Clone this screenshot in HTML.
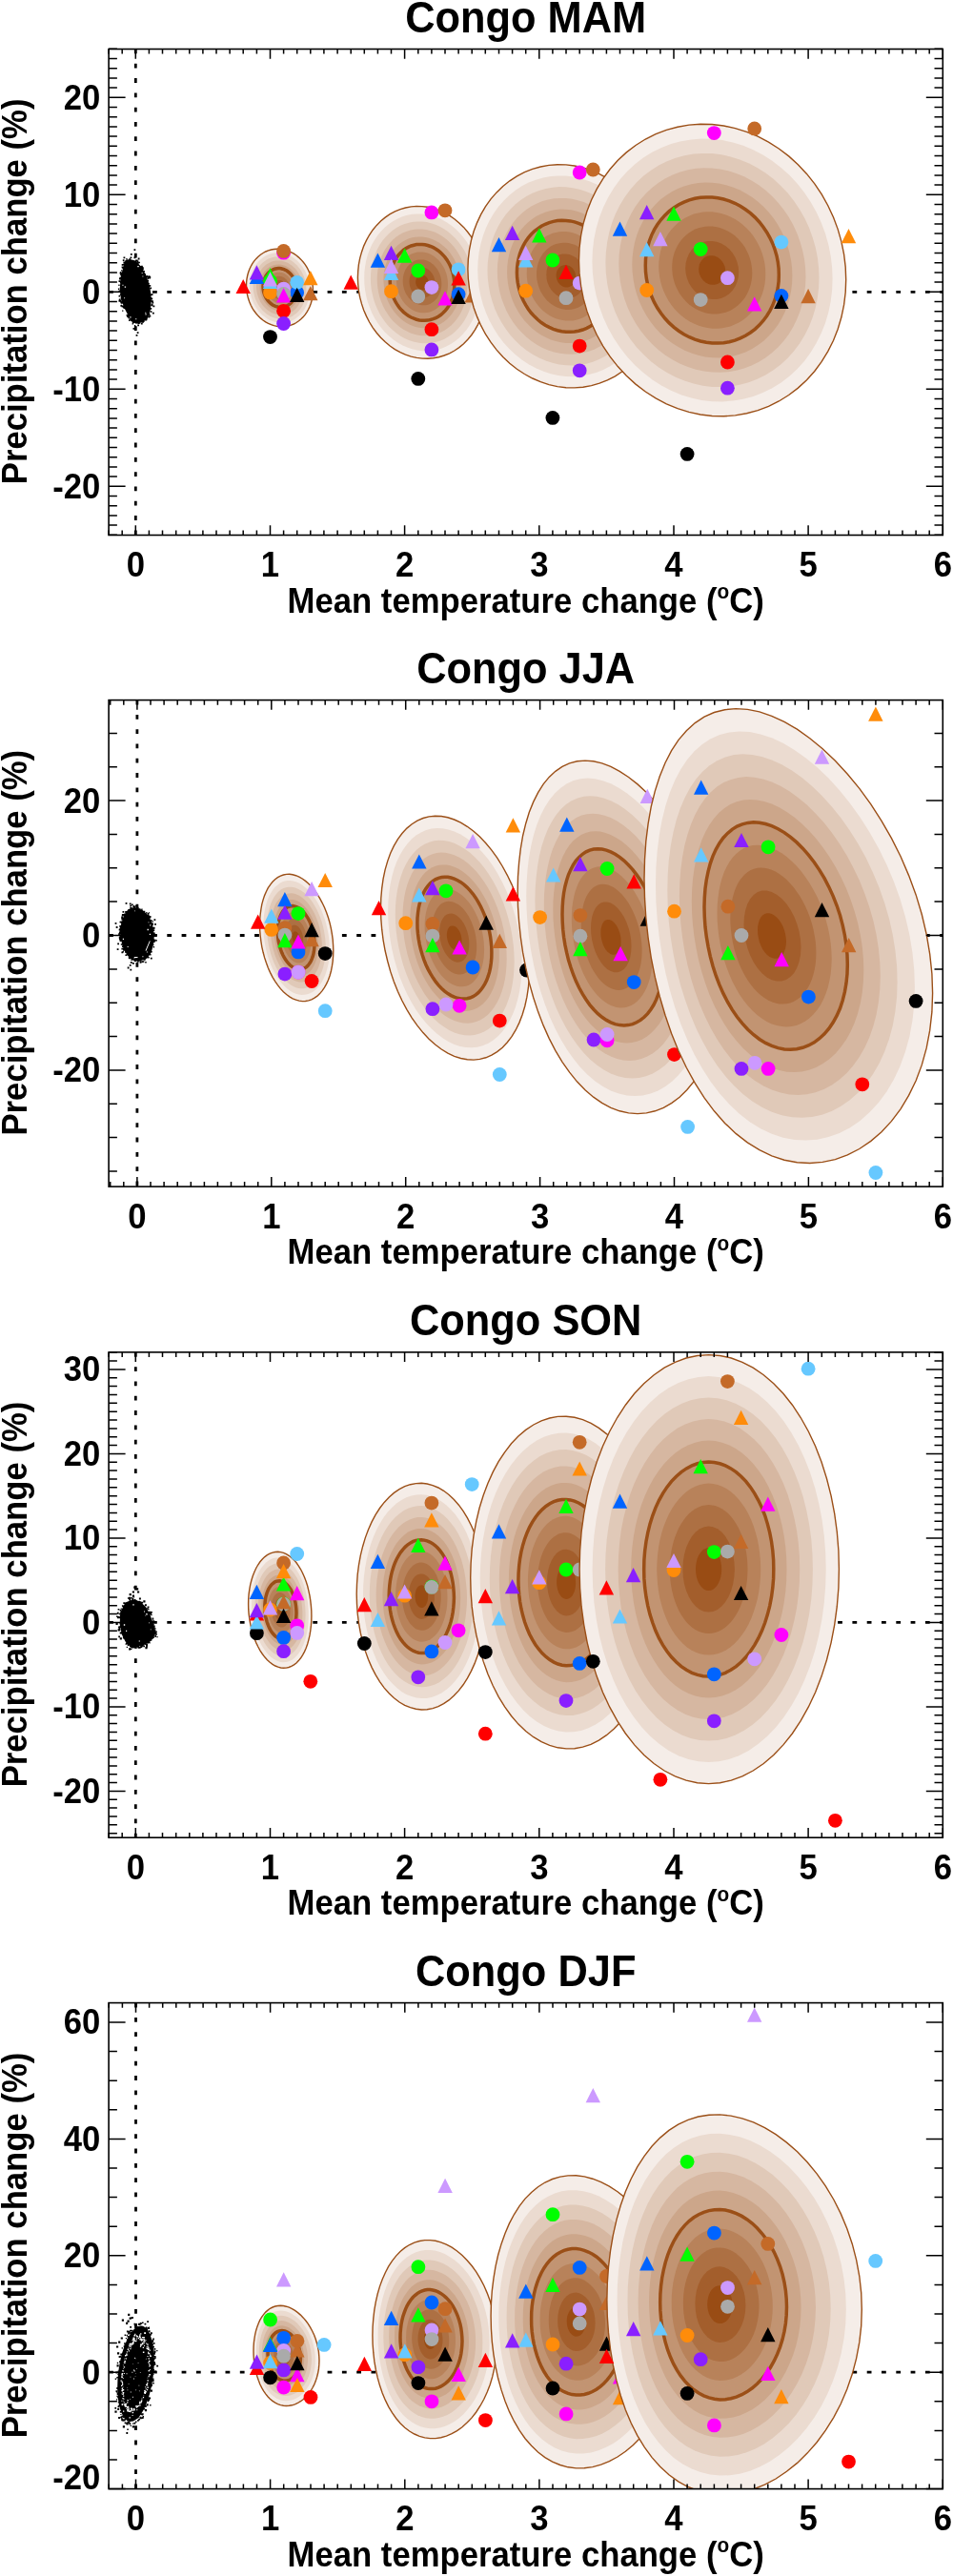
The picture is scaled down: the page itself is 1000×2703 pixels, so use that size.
<!DOCTYPE html><html><head><meta charset="utf-8"><title>Congo</title>
<style>html,body{margin:0;padding:0;background:#fff}svg{display:block}text{font-family:"Liberation Sans",sans-serif;font-weight:bold;fill:#000}</style></head><body><div style="will-change:transform;width:1000px;height:2703px">
<svg width="1000" height="2703" viewBox="0 0 1000 2703">
<rect width="1000" height="2703" fill="#fff"/>
<g id="p0">
<clipPath id="cl0"><rect x="114.1" y="51.5" width="875.2" height="510"/></clipPath>
<g clip-path="url(#cl0)">
<path d="M142.3 51.5V561.5" stroke="#000" stroke-width="2.8" stroke-dasharray="4.8 10.5" stroke-dashoffset="0" fill="none"/>
<path d="M114.1 306.3H989.3" stroke="#000" stroke-width="2.8" stroke-dasharray="4.8 10.5" stroke-dashoffset="0" fill="none"/>
<path fill="#000" d="M131.5 273.1L136.2 272.0L142.0 273.6L147.2 278.8L152.5 287.2L156.7 298.8L158.2 307.2L158.8 315.6L157.7 326.0L154.6 334.4L148.3 338.6L142.0 339.2L137.3 337.1L134.6 331.3L130.4 322.9L126.8 313.5L125.7 303.0L126.8 290.4L129.4 279.9ZM155.6 331.9h1.6v1.6h-1.6zM148.8 336.7h1.6v1.6h-1.6zM133.9 329.9h1.4v1.4h-1.4zM144.2 274.8h1.2v1.2h-1.2zM128.8 272.3h1.7v1.7h-1.7zM150.8 284.0h1.2v1.2h-1.2zM152.3 289.6h1.6v1.6h-1.6zM155.8 329.3h1.7v1.7h-1.7zM150.2 336.6h1.4v1.4h-1.4zM129.5 269.5h1.8v1.8h-1.8zM157.8 308.9h1.3v1.3h-1.3zM124.5 310.0h1.5v1.5h-1.5zM129.0 279.4h1.4v1.4h-1.4zM125.9 285.1h1.5v1.5h-1.5zM142.1 272.5h1.4v1.4h-1.4zM143.6 273.5h1.8v1.8h-1.8zM147.0 279.4h1.2v1.2h-1.2zM124.5 304.6h1.6v1.6h-1.6zM152.4 289.4h1.7v1.7h-1.7zM146.9 278.9h1.4v1.4h-1.4zM129.1 276.6h1.9v1.9h-1.9zM154.6 291.3h1.7v1.7h-1.7zM145.5 274.8h1.4v1.4h-1.4zM125.7 308.8h1.3v1.3h-1.3zM143.9 275.5h1.7v1.7h-1.7zM158.9 318.8h1.6v1.6h-1.6zM138.6 339.3h1.3v1.3h-1.3zM126.8 286.8h1.4v1.4h-1.4zM124.5 314.7h2.0v2.0h-2.0zM125.8 290.7h1.3v1.3h-1.3zM136.5 269.5h1.8v1.8h-1.8zM156.9 299.2h1.4v1.4h-1.4zM151.7 287.3h1.4v1.4h-1.4zM140.9 341.1h1.4v1.4h-1.4zM127.5 285.8h1.4v1.4h-1.4zM155.2 329.5h1.5v1.5h-1.5zM138.8 337.4h1.9v1.9h-1.9zM129.4 274.4h1.7v1.7h-1.7zM148.5 282.3h1.9v1.9h-1.9zM127.6 320.9h1.7v1.7h-1.7zM152.2 334.5h2.0v2.0h-2.0zM142.1 272.6h1.9v1.9h-1.9zM125.4 314.7h1.9v1.9h-1.9zM159.0 315.2h1.9v1.9h-1.9zM157.7 326.3h1.7v1.7h-1.7zM133.8 331.5h1.7v1.7h-1.7zM142.7 272.6h1.9v1.9h-1.9zM126.2 316.1h1.7v1.7h-1.7zM155.2 328.4h1.8v1.8h-1.8zM135.5 270.9h1.4v1.4h-1.4zM128.2 320.5h1.9v1.9h-1.9zM156.1 299.1h1.7v1.7h-1.7zM154.2 289.9h1.7v1.7h-1.7zM156.6 330.9h1.7v1.7h-1.7zM153.7 289.3h1.9v1.9h-1.9zM125.4 290.7h1.5v1.5h-1.5zM148.7 280.0h1.9v1.9h-1.9zM126.7 319.8h1.3v1.3h-1.3zM155.0 330.3h1.5v1.5h-1.5zM133.8 330.7h1.9v1.9h-1.9zM130.2 275.6h1.2v1.2h-1.2zM125.0 291.7h1.7v1.7h-1.7zM157.1 307.8h1.3v1.3h-1.3zM155.4 332.2h1.4v1.4h-1.4zM149.2 281.3h1.6v1.6h-1.6zM133.1 331.1h2.0v2.0h-2.0zM129.6 322.7h1.3v1.3h-1.3zM132.3 271.1h1.3v1.3h-1.3zM157.5 301.6h1.6v1.6h-1.6zM134.5 332.6h1.8v1.8h-1.8zM125.6 285.7h1.8v1.8h-1.8zM148.0 279.6h1.9v1.9h-1.9zM158.5 319.5h1.8v1.8h-1.8zM127.8 280.3h1.4v1.4h-1.4zM126.7 317.0h1.8v1.8h-1.8zM156.2 290.0h2.0v2.0h-2.0zM144.3 338.0h1.9v1.9h-1.9zM125.9 295.3h1.6v1.6h-1.6zM142.5 338.9h1.2v1.2h-1.2zM123.9 302.6h1.3v1.3h-1.3zM157.7 312.0h1.3v1.3h-1.3zM147.9 338.8h1.8v1.8h-1.8zM127.6 279.6h1.3v1.3h-1.3zM154.3 293.8h1.8v1.8h-1.8zM132.6 330.0h1.6v1.6h-1.6zM158.6 308.2h1.9v1.9h-1.9zM155.9 289.3h1.6v1.6h-1.6zM138.8 337.9h1.6v1.6h-1.6zM135.0 335.3h1.6v1.6h-1.6zM157.6 323.1h1.6v1.6h-1.6zM129.0 321.7h1.5v1.5h-1.5zM127.7 277.1h1.6v1.6h-1.6zM147.9 278.8h1.9v1.9h-1.9zM153.0 333.8h1.7v1.7h-1.7zM127.0 283.2h1.2v1.2h-1.2zM153.5 289.0h1.5v1.5h-1.5zM157.5 315.0h1.8v1.8h-1.8zM147.5 279.7h1.4v1.4h-1.4zM145.6 338.3h1.5v1.5h-1.5zM145.6 337.8h1.7v1.7h-1.7zM132.6 330.1h1.7v1.7h-1.7zM124.5 294.2h1.8v1.8h-1.8zM126.2 287.3h1.9v1.9h-1.9zM156.7 291.3h1.3v1.3h-1.3zM155.5 296.8h1.3v1.3h-1.3zM124.3 298.6h1.3v1.3h-1.3zM156.9 322.7h1.4v1.4h-1.4zM128.1 325.5h1.3v1.3h-1.3zM149.2 337.1h1.7v1.7h-1.7zM152.6 289.4h1.2v1.2h-1.2zM140.5 261.3h1.8v1.8h-1.8zM136.9 265.9h1.8v1.8h-1.8zM141.1 266.9h1.8v1.8h-1.8zM140.5 269.5h1.8v1.8h-1.8zM144.7 270.6h1.8v1.8h-1.8zM124.8 313.6h1.8v1.8h-1.8zM126.4 319.9h1.8v1.8h-1.8zM158.4 312.6h1.8v1.8h-1.8zM159.4 316.7h1.8v1.8h-1.8zM160.5 320.4h1.8v1.8h-1.8zM160.0 327.8h1.8v1.8h-1.8zM144.2 340.4h1.8v1.8h-1.8zM141.1 342.5h1.8v1.8h-1.8zM139.5 344.0h1.8v1.8h-1.8zM143.7 348.2h1.8v1.8h-1.8zM142.6 350.9h1.8v1.8h-1.8z"/><path fill="#fff" d="M142.2 334.2h1.1v1.1h-1.1zM148.7 286.1h0.9v0.9h-0.9zM130.7 300.4h1.4v1.4h-1.4zM144.3 278.9h1.4v1.4h-1.4zM152.3 327.8h1.0v1.0h-1.0zM152.5 329.3h1.1v1.1h-1.1zM136.3 332.2h1.2v1.2h-1.2zM128.4 298.7h1.1v1.1h-1.1zM130.2 312.3h0.9v0.9h-0.9zM149.5 289.6h0.8v0.8h-0.8z"/>
<path d="M328.4 304.5L328.3 300.9L327.9 297.4L327.2 293.9L326.3 290.4L325.1 287.1L323.7 283.8L322.1 280.7L320.2 277.7L318.2 275L315.9 272.4L313.5 270.1L311 268L308.3 266.1L305.4 264.6L302.5 263.3L299.6 262.3L296.5 261.6L293.5 261.3L290.5 261.2L287.4 261.5L284.5 262L281.5 262.9L278.7 264L276 265.5L273.4 267.2L271 269.2L268.8 271.4L266.7 273.9L264.8 276.6L263.2 279.5L261.8 282.5L260.6 285.7L259.7 289L259 292.5L258.6 296L258.5 299.5L258.6 303.1L259 306.6L259.7 310.1L260.6 313.6L261.8 316.9L263.2 320.2L264.8 323.3L266.7 326.3L268.8 329L271 331.6L273.4 333.9L276 336L278.7 337.9L281.5 339.4L284.5 340.7L287.4 341.7L290.5 342.4L293.5 342.7L296.5 342.8L299.6 342.5L302.5 342L305.4 341.1L308.3 340L311 338.5L313.5 336.8L315.9 334.8L318.2 332.6L320.2 330.1L322.1 327.4L323.7 324.5L325.1 321.5L326.3 318.3L327.2 315L327.9 311.5L328.3 308Z" fill="#f5ede8"/>
<path d="M324.9 304.2L324.8 301L324.4 297.9L323.8 294.7L323 291.6L322 288.5L320.7 285.6L319.2 282.8L317.6 280.2L315.7 277.7L313.7 275.4L311.5 273.3L309.2 271.4L306.8 269.7L304.3 268.3L301.6 267.2L299 266.3L296.2 265.7L293.5 265.3L290.8 265.3L288 265.5L285.4 266L282.7 266.8L280.2 267.8L277.8 269.1L275.4 270.7L273.3 272.5L271.2 274.5L269.4 276.7L267.7 279.1L266.2 281.7L265 284.5L263.9 287.4L263.1 290.3L262.5 293.4L262.1 296.6L262 299.8L262.1 303L262.5 306.1L263.1 309.3L263.9 312.4L265 315.5L266.2 318.4L267.7 321.2L269.4 323.8L271.2 326.3L273.3 328.6L275.4 330.7L277.8 332.6L280.2 334.3L282.7 335.7L285.4 336.8L288 337.7L290.8 338.3L293.5 338.7L296.2 338.7L299 338.5L301.6 338L304.3 337.2L306.8 336.2L309.2 334.9L311.5 333.3L313.7 331.5L315.7 329.5L317.6 327.3L319.2 324.9L320.7 322.3L322 319.5L323 316.6L323.8 313.7L324.4 310.6L324.8 307.4Z" fill="#ebdbd0"/>
<path d="M321.4 304L321.3 301.2L321 298.3L320.5 295.5L319.7 292.7L318.8 290L317.7 287.4L316.4 285L314.9 282.6L313.3 280.4L311.5 278.3L309.5 276.5L307.5 274.8L305.3 273.3L303.1 272.1L300.7 271L298.4 270.3L295.9 269.7L293.5 269.4L291.1 269.4L288.6 269.6L286.3 270L283.9 270.7L281.7 271.6L279.5 272.8L277.5 274.2L275.5 275.8L273.7 277.5L272.1 279.5L270.6 281.7L269.3 284L268.1 286.4L267.2 289L266.5 291.6L265.9 294.4L265.6 297.2L265.5 300L265.6 302.8L265.9 305.7L266.5 308.5L267.2 311.3L268.1 314L269.3 316.6L270.6 319L272.1 321.4L273.7 323.6L275.5 325.7L277.5 327.5L279.5 329.2L281.7 330.7L283.9 331.9L286.3 333L288.6 333.7L291.1 334.3L293.5 334.6L295.9 334.6L298.4 334.4L300.7 334L303.1 333.3L305.3 332.4L307.5 331.2L309.5 329.8L311.5 328.2L313.3 326.5L314.9 324.5L316.4 322.3L317.7 320L318.8 317.6L319.7 315L320.5 312.4L321 309.6L321.3 306.8Z" fill="#e0c9b8"/>
<path d="M317.9 303.8L317.8 301.3L317.6 298.8L317.1 296.3L316.5 293.9L315.7 291.5L314.7 289.3L313.5 287.1L312.2 285L310.8 283.1L309.2 281.3L307.5 279.7L305.7 278.2L303.8 276.9L301.9 275.8L299.8 274.9L297.7 274.2L295.6 273.8L293.5 273.5L291.4 273.4L289.3 273.6L287.2 274L285.1 274.6L283.2 275.4L281.3 276.4L279.5 277.6L277.8 279L276.2 280.6L274.7 282.3L273.4 284.2L272.3 286.2L271.3 288.4L270.5 290.6L269.8 292.9L269.4 295.3L269.1 297.8L269 300.2L269.1 302.7L269.4 305.2L269.8 307.7L270.5 310.1L271.3 312.5L272.3 314.7L273.4 316.9L274.7 319L276.2 320.9L277.8 322.7L279.5 324.3L281.3 325.8L283.2 327.1L285.1 328.2L287.2 329.1L289.3 329.8L291.4 330.2L293.5 330.5L295.6 330.6L297.7 330.4L299.8 330L301.9 329.4L303.8 328.6L305.7 327.6L307.5 326.4L309.2 325L310.8 323.4L312.2 321.7L313.5 319.8L314.7 317.8L315.7 315.6L316.5 313.4L317.1 311.1L317.6 308.7L317.8 306.2Z" fill="#d6b7a1"/>
<path d="M314.5 303.5L314.4 301.4L314.1 299.2L313.7 297.1L313.2 295.1L312.5 293L311.6 291.1L310.7 289.2L309.6 287.4L308.3 285.8L307 284.2L305.5 282.8L304 281.6L302.4 280.5L300.7 279.6L298.9 278.8L297.1 278.2L295.3 277.8L293.5 277.6L291.7 277.5L289.9 277.7L288.1 278L286.3 278.5L284.6 279.2L283 280.1L281.5 281.1L280 282.3L278.7 283.7L277.4 285.1L276.3 286.8L275.3 288.5L274.5 290.3L273.8 292.2L273.2 294.2L272.8 296.3L272.6 298.4L272.5 300.5L272.6 302.6L272.8 304.8L273.2 306.9L273.8 308.9L274.5 311L275.3 312.9L276.3 314.8L277.4 316.6L278.7 318.2L280 319.8L281.5 321.2L283 322.4L284.6 323.5L286.3 324.4L288.1 325.2L289.9 325.8L291.7 326.2L293.5 326.4L295.3 326.5L297.1 326.3L298.9 326L300.7 325.5L302.4 324.8L304 323.9L305.5 322.9L307 321.7L308.3 320.3L309.6 318.9L310.7 317.2L311.6 315.5L312.5 313.7L313.2 311.8L313.7 309.8L314.1 307.7L314.4 305.6Z" fill="#cca68a"/>
<path d="M311 303.2L310.9 301.5L310.7 299.7L310.4 297.9L309.9 296.2L309.3 294.5L308.6 292.9L307.8 291.3L306.9 289.9L305.9 288.5L304.7 287.2L303.5 286L302.2 285L300.9 284.1L299.5 283.3L298 282.7L296.5 282.2L295 281.8L293.5 281.6L292 281.6L290.5 281.7L289 282L287.5 282.4L286.1 283L284.8 283.7L283.5 284.6L282.3 285.6L281.1 286.7L280.1 288L279.2 289.3L278.4 290.7L277.7 292.3L277.1 293.9L276.6 295.5L276.3 297.2L276.1 299L276 300.8L276.1 302.5L276.3 304.3L276.6 306.1L277.1 307.8L277.7 309.5L278.4 311.1L279.2 312.7L280.1 314.1L281.1 315.5L282.3 316.8L283.5 318L284.8 319L286.1 319.9L287.5 320.7L289 321.3L290.5 321.8L292 322.2L293.5 322.4L295 322.4L296.5 322.3L298 322L299.5 321.6L300.9 321L302.2 320.3L303.5 319.4L304.7 318.4L305.9 317.3L306.9 316L307.8 314.7L308.6 313.3L309.3 311.7L309.9 310.1L310.4 308.5L310.7 306.8L310.9 305Z" fill="#c29472"/>
<path d="M307.5 303L307.4 301.6L307.3 300.2L307 298.7L306.6 297.4L306.2 296L305.6 294.7L304.9 293.5L304.2 292.3L303.4 291.2L302.5 290.2L301.5 289.2L300.5 288.4L299.4 287.7L298.3 287L297.1 286.5L295.9 286.1L294.7 285.9L293.5 285.7L292.3 285.7L291.1 285.8L289.9 286L288.7 286.4L287.6 286.8L286.5 287.4L285.5 288.1L284.5 288.9L283.6 289.8L282.8 290.8L282 291.8L281.4 293L280.8 294.2L280.4 295.5L280 296.8L279.7 298.2L279.6 299.6L279.5 301L279.6 302.4L279.7 303.8L280 305.3L280.4 306.6L280.8 308L281.4 309.3L282 310.5L282.8 311.7L283.6 312.8L284.5 313.8L285.5 314.8L286.5 315.6L287.6 316.3L288.7 317L289.9 317.5L291.1 317.9L292.3 318.1L293.5 318.3L294.7 318.3L295.9 318.2L297.1 318L298.3 317.6L299.4 317.2L300.5 316.6L301.5 315.9L302.5 315.1L303.4 314.2L304.2 313.2L304.9 312.2L305.6 311L306.2 309.8L306.6 308.5L307 307.2L307.3 305.8L307.4 304.4Z" fill="#b8825a"/>
<path d="M304 302.8L303.9 301.7L303.8 300.6L303.6 299.6L303.3 298.5L303 297.5L302.6 296.5L302.1 295.6L301.5 294.7L300.9 293.9L300.2 293.1L299.5 292.4L298.7 291.8L297.9 291.2L297.1 290.8L296.2 290.4L295.3 290.1L294.4 289.9L293.5 289.8L292.6 289.8L291.7 289.8L290.8 290L289.9 290.3L289.1 290.6L288.3 291L287.5 291.6L286.8 292.2L286.1 292.8L285.5 293.6L284.9 294.4L284.4 295.2L284 296.2L283.6 297.1L283.4 298.1L283.2 299.1L283.1 300.2L283 301.2L283.1 302.3L283.2 303.4L283.4 304.4L283.6 305.5L284 306.5L284.4 307.5L284.9 308.4L285.5 309.3L286.1 310.1L286.8 310.9L287.5 311.6L288.3 312.2L289.1 312.8L289.9 313.2L290.8 313.6L291.7 313.9L292.6 314.1L293.5 314.2L294.4 314.2L295.3 314.2L296.2 314L297.1 313.7L297.9 313.4L298.7 313L299.5 312.4L300.2 311.8L300.9 311.2L301.5 310.4L302.1 309.6L302.6 308.8L303 307.8L303.3 306.9L303.6 305.9L303.8 304.9L303.9 303.8Z" fill="#ad7043"/>
<path d="M300.5 302.5L300.4 301.1L300.1 299.7L299.6 298.4L298.9 297.1L298 296.1L297 295.2L295.9 294.5L294.7 294.1L293.5 293.9L292.3 293.9L291.1 294.2L290 294.7L289 295.4L288.1 296.4L287.4 297.5L286.9 298.7L286.6 300.1L286.5 301.5L286.6 302.9L286.9 304.3L287.4 305.6L288.1 306.9L289 307.9L290 308.8L291.1 309.5L292.3 309.9L293.5 310.1L294.7 310.1L295.9 309.8L297 309.3L298 308.6L298.9 307.6L299.6 306.5L300.1 305.3L300.4 303.9Z" fill="#a35e2c"/>
<path d="M297 302.2L296.9 301.5L296.8 300.8L296.5 300.2L296.2 299.6L295.7 299L295.2 298.6L294.7 298.3L294.1 298L293.5 297.9L292.9 297.9L292.3 298.1L291.8 298.3L291.3 298.7L290.8 299.2L290.5 299.7L290.2 300.4L290.1 301L290 301.8L290.1 302.5L290.2 303.2L290.5 303.8L290.8 304.4L291.3 305L291.8 305.4L292.3 305.7L292.9 306L293.5 306.1L294.1 306.1L294.7 305.9L295.2 305.7L295.7 305.3L296.2 304.8L296.5 304.3L296.8 303.6L296.9 303Z" fill="#994c14"/>
<path d="M328.4 304.5L328.3 300.9L327.9 297.4L327.2 293.9L326.3 290.4L325.1 287.1L323.7 283.8L322.1 280.7L320.2 277.7L318.2 275L315.9 272.4L313.5 270.1L311 268L308.3 266.1L305.4 264.6L302.5 263.3L299.6 262.3L296.5 261.6L293.5 261.3L290.5 261.2L287.4 261.5L284.5 262L281.5 262.9L278.7 264L276 265.5L273.4 267.2L271 269.2L268.8 271.4L266.7 273.9L264.8 276.6L263.2 279.5L261.8 282.5L260.6 285.7L259.7 289L259 292.5L258.6 296L258.5 299.5L258.6 303.1L259 306.6L259.7 310.1L260.6 313.6L261.8 316.9L263.2 320.2L264.8 323.3L266.7 326.3L268.8 329L271 331.6L273.4 333.9L276 336L278.7 337.9L281.5 339.4L284.5 340.7L287.4 341.7L290.5 342.4L293.5 342.7L296.5 342.8L299.6 342.5L302.5 342L305.4 341.1L308.3 340L311 338.5L313.5 336.8L315.9 334.8L318.2 332.6L320.2 330.1L322.1 327.4L323.7 324.5L325.1 321.5L326.3 318.3L327.2 315L327.9 311.5L328.3 308Z" fill="none" stroke="#9b4f17" stroke-width="1.4"/>
<path d="M311 303.2L310.9 301.5L310.7 299.7L310.4 297.9L309.9 296.2L309.3 294.5L308.6 292.9L307.8 291.3L306.9 289.9L305.9 288.5L304.7 287.2L303.5 286L302.2 285L300.9 284.1L299.5 283.3L298 282.7L296.5 282.2L295 281.8L293.5 281.6L292 281.6L290.5 281.7L289 282L287.5 282.4L286.1 283L284.8 283.7L283.5 284.6L282.3 285.6L281.1 286.7L280.1 288L279.2 289.3L278.4 290.7L277.7 292.3L277.1 293.9L276.6 295.5L276.3 297.2L276.1 299L276 300.8L276.1 302.5L276.3 304.3L276.6 306.1L277.1 307.8L277.7 309.5L278.4 311.1L279.2 312.7L280.1 314.1L281.1 315.5L282.3 316.8L283.5 318L284.8 319L286.1 319.9L287.5 320.7L289 321.3L290.5 321.8L292 322.2L293.5 322.4L295 322.4L296.5 322.3L298 322L299.5 321.6L300.9 321L302.2 320.3L303.5 319.4L304.7 318.4L305.9 317.3L306.9 316L307.8 314.7L308.6 313.3L309.3 311.7L309.9 310.1L310.4 308.5L310.7 306.8L310.9 305Z" fill="none" stroke="#9b4f17" stroke-width="3.5"/>
<circle cx="297.6" cy="326.3" r="7.4" fill="#ff0000"/>
<circle cx="283.5" cy="306.9" r="7.4" fill="#ff8c0a"/>
<circle cx="283.5" cy="295" r="7.4" fill="#00ff00"/>
<circle cx="311.7" cy="306.9" r="7.4" fill="#0064ff"/>
<circle cx="311.7" cy="296.3" r="7.4" fill="#66c8ff"/>
<circle cx="297.6" cy="339.5" r="7.4" fill="#8a1fff"/>
<circle cx="297.6" cy="265.2" r="7.4" fill="#ff00ff"/>
<circle cx="297.6" cy="303.1" r="7.4" fill="#cc99ff"/>
<circle cx="297.6" cy="263.4" r="7.4" fill="#c46a28"/>
<circle cx="297.6" cy="308.4" r="7.4" fill="#aaaaaa"/>
<circle cx="283.5" cy="353.6" r="7.4" fill="#000000"/>
<path d="M247.5 308.1L262.9 308.1L255.2 292.9Z" fill="#ff0000"/>
<path d="M275.8 296.3L291.2 296.3L283.5 281.1Z" fill="#00ff00"/>
<path d="M261.7 298.1L277.1 298.1L269.4 282.9Z" fill="#0064ff"/>
<path d="M275.8 303.1L291.2 303.1L283.5 287.9Z" fill="#66c8ff"/>
<path d="M261.7 293.5L277.1 293.5L269.4 278.3Z" fill="#8a1fff"/>
<path d="M289.9 317.5L305.3 317.5L297.6 302.3Z" fill="#ff00ff"/>
<path d="M318.1 299.3L333.5 299.3L325.8 284.1Z" fill="#ff8c0a"/>
<path d="M275.8 300.5L291.2 300.5L283.5 285.3Z" fill="#cc99ff"/>
<path d="M318.1 315.2L333.5 315.2L325.8 300Z" fill="#c46a28"/>
<path d="M304 317L319.4 317L311.7 301.8Z" fill="#000000"/>
<path d="M510.6 301.4L510.3 294.4L509.6 287.4L508.3 280.5L506.5 273.8L504.3 267.2L501.5 260.8L498.4 254.7L494.8 248.9L490.8 243.5L486.5 238.4L481.8 233.9L476.8 229.7L471.6 226.1L466.1 223.1L460.5 220.6L454.7 218.6L448.9 217.3L443 216.6L437.1 216.4L431.3 216.9L425.5 218L419.9 219.7L414.4 221.9L409.2 224.7L404.2 228.1L399.5 232L395.2 236.4L391.2 241.2L387.6 246.5L384.5 252.1L381.7 258.1L379.5 264.4L377.7 270.9L376.4 277.6L375.7 284.4L375.4 291.4L375.7 298.3L376.4 305.3L377.7 312.2L379.5 318.9L381.7 325.5L384.5 331.9L387.6 338L391.2 343.8L395.2 349.2L399.5 354.3L404.2 358.8L409.2 363L414.4 366.6L419.9 369.6L425.5 372.1L431.3 374.1L437.1 375.4L443 376.1L448.9 376.3L454.7 375.8L460.5 374.7L466.1 373L471.6 370.8L476.8 368L481.8 364.6L486.5 360.7L490.8 356.3L494.8 351.5L498.4 346.2L501.5 340.6L504.3 334.6L506.5 328.3L508.3 321.8L509.6 315.1L510.3 308.3Z" fill="#f5ede8"/>
<path d="M503.8 300.9L503.6 294.6L502.9 288.3L501.8 282.1L500.2 276L498.1 270.1L495.7 264.3L492.8 258.8L489.6 253.6L486 248.8L482.1 244.2L477.9 240.1L473.4 236.4L468.7 233.2L463.8 230.4L458.7 228.1L453.6 226.4L448.3 225.2L443 224.5L437.7 224.4L432.4 224.8L427.3 225.8L422.2 227.3L417.3 229.4L412.6 231.9L408.1 234.9L403.9 238.4L400 242.4L396.4 246.7L393.2 251.5L390.3 256.5L387.9 261.9L385.8 267.6L384.2 273.4L383.1 279.4L382.4 285.6L382.2 291.9L382.4 298.1L383.1 304.4L384.2 310.6L385.8 316.7L387.9 322.6L390.3 328.4L393.2 333.9L396.4 339.1L400 343.9L403.9 348.5L408.1 352.6L412.6 356.3L417.3 359.5L422.2 362.3L427.3 364.6L432.4 366.3L437.7 367.5L443 368.2L448.3 368.3L453.6 367.9L458.7 366.9L463.8 365.4L468.7 363.3L473.4 360.8L477.9 357.8L482.1 354.3L486 350.3L489.6 346L492.8 341.2L495.7 336.2L498.1 330.8L500.2 325.1L501.8 319.3L502.9 313.3L503.6 307.1Z" fill="#ebdbd0"/>
<path d="M497.1 300.4L496.9 294.8L496.3 289.2L495.2 283.7L493.8 278.3L492 273L489.8 267.9L487.3 263L484.4 258.4L481.2 254L477.8 250L474 246.4L470 243.1L465.9 240.2L461.5 237.7L457 235.7L452.4 234.2L447.7 233.1L443 232.5L438.3 232.4L433.6 232.8L429 233.7L424.5 235L420.1 236.8L416 239.1L412 241.8L408.2 244.9L404.8 248.4L401.6 252.3L398.7 256.5L396.2 261L394 265.7L392.2 270.8L390.8 276L389.7 281.3L389.1 286.8L388.9 292.4L389.1 297.9L389.7 303.5L390.8 309L392.2 314.4L394 319.7L396.2 324.8L398.7 329.7L401.6 334.3L404.8 338.7L408.2 342.7L412 346.3L416 349.6L420.1 352.5L424.5 355L429 357L433.6 358.5L438.3 359.6L443 360.2L447.7 360.3L452.4 359.9L457 359L461.5 357.7L465.9 355.9L470 353.6L474 350.9L477.8 347.8L481.2 344.3L484.4 340.4L487.3 336.2L489.8 331.7L492 327L493.8 321.9L495.2 316.7L496.3 311.4L496.9 305.9Z" fill="#e0c9b8"/>
<path d="M490.3 299.9L490.1 295L489.6 290.1L488.7 285.3L487.5 280.5L485.9 275.9L484 271.5L481.8 267.2L479.2 263.1L476.5 259.3L473.4 255.8L470.1 252.6L466.7 249.7L463 247.2L459.2 245.1L455.2 243.3L451.2 242L447.1 241L443 240.5L438.9 240.4L434.8 240.7L430.8 241.5L426.8 242.7L423 244.2L419.3 246.2L415.9 248.6L412.6 251.3L409.5 254.4L406.8 257.8L404.2 261.4L402 265.4L400.1 269.6L398.5 274L397.3 278.5L396.4 283.2L395.9 288L395.7 292.9L395.9 297.7L396.4 302.6L397.3 307.4L398.5 312.2L400.1 316.8L402 321.2L404.2 325.5L406.8 329.6L409.5 333.4L412.6 336.9L415.9 340.1L419.3 343L423 345.5L426.8 347.6L430.8 349.4L434.8 350.7L438.9 351.7L443 352.2L447.1 352.3L451.2 352L455.2 351.2L459.2 350L463 348.5L466.7 346.5L470.1 344.1L473.4 341.4L476.5 338.3L479.2 334.9L481.8 331.3L484 327.3L485.9 323.1L487.5 318.7L488.7 314.2L489.6 309.5L490.1 304.7Z" fill="#d6b7a1"/>
<path d="M483.6 299.4L483.4 295.2L482.9 291L482.2 286.9L481.1 282.8L479.8 278.8L478.1 275L476.2 271.3L474.1 267.9L471.7 264.6L469.1 261.6L466.3 258.9L463.3 256.4L460.1 254.2L456.9 252.4L453.5 250.9L450 249.7L446.5 248.9L443 248.5L439.5 248.4L436 248.7L432.5 249.3L429.1 250.3L425.9 251.7L422.7 253.4L419.7 255.4L416.9 257.7L414.3 260.4L411.9 263.3L409.8 266.4L407.9 269.8L406.2 273.4L404.9 277.2L403.8 281.1L403.1 285.1L402.6 289.2L402.4 293.4L402.6 297.5L403.1 301.7L403.8 305.8L404.9 309.9L406.2 313.9L407.9 317.7L409.8 321.4L411.9 324.8L414.3 328.1L416.9 331.1L419.7 333.8L422.7 336.3L425.9 338.5L429.1 340.3L432.5 341.8L436 343L439.5 343.8L443 344.2L446.5 344.3L450 344L453.5 343.4L456.9 342.4L460.1 341L463.3 339.3L466.3 337.3L469.1 335L471.7 332.3L474.1 329.4L476.2 326.3L478.1 322.9L479.8 319.3L481.1 315.5L482.2 311.6L482.9 307.6L483.4 303.5Z" fill="#cca68a"/>
<path d="M476.8 298.9L476.7 295.4L476.3 291.9L475.6 288.4L474.8 285.1L473.6 281.8L472.3 278.6L470.7 275.5L468.9 272.6L466.9 269.9L464.7 267.4L462.4 265.1L459.9 263L457.3 261.2L454.6 259.7L451.7 258.5L448.9 257.5L445.9 256.8L443 256.5L440.1 256.4L437.1 256.6L434.3 257.2L431.4 258L428.7 259.1L426.1 260.5L423.6 262.2L421.3 264.2L419.1 266.4L417.1 268.8L415.3 271.4L413.7 274.2L412.4 277.2L411.2 280.4L410.4 283.6L409.7 287L409.3 290.4L409.2 293.9L409.3 297.3L409.7 300.8L410.4 304.3L411.2 307.6L412.4 310.9L413.7 314.1L415.3 317.2L417.1 320.1L419.1 322.8L421.3 325.3L423.6 327.6L426.1 329.7L428.7 331.5L431.4 333L434.3 334.2L437.1 335.2L440.1 335.9L443 336.2L445.9 336.3L448.9 336.1L451.7 335.5L454.6 334.7L457.3 333.6L459.9 332.2L462.4 330.5L464.7 328.5L466.9 326.3L468.9 323.9L470.7 321.3L472.3 318.5L473.6 315.5L474.8 312.3L475.6 309.1L476.3 305.7L476.7 302.3Z" fill="#c29472"/>
<path d="M470 298.4L469.9 295.6L469.6 292.8L469.1 290L468.4 287.3L467.5 284.7L466.4 282.1L465.1 279.7L463.7 277.4L462.1 275.2L460.4 273.2L458.5 271.4L456.5 269.7L454.4 268.3L452.2 267L450 266L447.7 265.3L445.4 264.7L443 264.4L440.6 264.4L438.3 264.6L436 265L433.8 265.7L431.6 266.6L429.5 267.7L427.5 269.1L425.6 270.6L423.9 272.4L422.3 274.3L420.9 276.4L419.6 278.7L418.5 281L417.6 283.6L416.9 286.2L416.4 288.8L416.1 291.6L416 294.4L416.1 297.1L416.4 299.9L416.9 302.7L417.6 305.4L418.5 308L419.6 310.6L420.9 313L422.3 315.3L423.9 317.5L425.6 319.5L427.5 321.3L429.5 323L431.6 324.4L433.8 325.7L436 326.7L438.3 327.4L440.6 328L443 328.3L445.4 328.3L447.7 328.1L450 327.7L452.2 327L454.4 326.1L456.5 325L458.5 323.6L460.4 322.1L462.1 320.3L463.7 318.4L465.1 316.3L466.4 314L467.5 311.7L468.4 309.1L469.1 306.5L469.6 303.9L469.9 301.1Z" fill="#b8825a"/>
<path d="M463.3 297.9L463.2 295.8L463 293.7L462.6 291.6L462.1 289.6L461.4 287.6L460.6 285.7L459.6 283.8L458.5 282.1L457.3 280.5L456 279L454.6 277.6L453.1 276.4L451.6 275.3L449.9 274.4L448.2 273.6L446.5 273L444.8 272.6L443 272.4L441.2 272.4L439.5 272.5L437.8 272.8L436.1 273.3L434.4 274L432.9 274.9L431.4 275.9L430 277L428.7 278.4L427.5 279.8L426.4 281.4L425.4 283.1L424.6 284.9L423.9 286.8L423.4 288.7L423 290.7L422.8 292.8L422.7 294.9L422.8 296.9L423 299L423.4 301.1L423.9 303.1L424.6 305.1L425.4 307L426.4 308.9L427.5 310.6L428.7 312.2L430 313.7L431.4 315.1L432.9 316.3L434.4 317.4L436.1 318.3L437.8 319.1L439.5 319.7L441.2 320.1L443 320.3L444.8 320.3L446.5 320.2L448.2 319.9L449.9 319.4L451.6 318.7L453.1 317.8L454.6 316.8L456 315.7L457.3 314.3L458.5 312.9L459.6 311.3L460.6 309.6L461.4 307.8L462.1 305.9L462.6 304L463 302L463.2 299.9Z" fill="#ad7043"/>
<path d="M456.5 297.4L456.3 294.6L455.7 291.8L454.7 289.2L453.4 286.9L451.7 284.8L449.8 283L447.6 281.7L445.3 280.8L443 280.4L440.7 280.5L438.4 281L436.2 282L434.3 283.5L432.6 285.3L431.3 287.5L430.3 290L429.7 292.6L429.5 295.4L429.7 298.1L430.3 300.9L431.3 303.5L432.6 305.8L434.3 307.9L436.2 309.7L438.4 311L440.7 311.9L443 312.3L445.3 312.2L447.6 311.7L449.8 310.7L451.7 309.2L453.4 307.4L454.7 305.2L455.7 302.7L456.3 300.1Z" fill="#a35e2c"/>
<path d="M449.8 296.9L449.7 295.5L449.4 294.1L448.9 292.8L448.2 291.6L447.3 290.6L446.4 289.7L445.3 289L444.2 288.6L443 288.4L441.8 288.4L440.7 288.7L439.6 289.2L438.7 289.9L437.8 290.8L437.1 291.9L436.6 293.2L436.3 294.5L436.2 295.9L436.3 297.2L436.6 298.6L437.1 299.9L437.8 301.1L438.7 302.1L439.6 303L440.7 303.7L441.8 304.1L443 304.3L444.2 304.3L445.3 304L446.4 303.5L447.3 302.8L448.2 301.9L448.9 300.8L449.4 299.5L449.7 298.2Z" fill="#994c14"/>
<path d="M510.6 301.4L510.3 294.4L509.6 287.4L508.3 280.5L506.5 273.8L504.3 267.2L501.5 260.8L498.4 254.7L494.8 248.9L490.8 243.5L486.5 238.4L481.8 233.9L476.8 229.7L471.6 226.1L466.1 223.1L460.5 220.6L454.7 218.6L448.9 217.3L443 216.6L437.1 216.4L431.3 216.9L425.5 218L419.9 219.7L414.4 221.9L409.2 224.7L404.2 228.1L399.5 232L395.2 236.4L391.2 241.2L387.6 246.5L384.5 252.1L381.7 258.1L379.5 264.4L377.7 270.9L376.4 277.6L375.7 284.4L375.4 291.4L375.7 298.3L376.4 305.3L377.7 312.2L379.5 318.9L381.7 325.5L384.5 331.9L387.6 338L391.2 343.8L395.2 349.2L399.5 354.3L404.2 358.8L409.2 363L414.4 366.6L419.9 369.6L425.5 372.1L431.3 374.1L437.1 375.4L443 376.1L448.9 376.3L454.7 375.8L460.5 374.7L466.1 373L471.6 370.8L476.8 368L481.8 364.6L486.5 360.7L490.8 356.3L494.8 351.5L498.4 346.2L501.5 340.6L504.3 334.6L506.5 328.3L508.3 321.8L509.6 315.1L510.3 308.3Z" fill="none" stroke="#9b4f17" stroke-width="1.4"/>
<path d="M476.8 298.9L476.7 295.4L476.3 291.9L475.6 288.4L474.8 285.1L473.6 281.8L472.3 278.6L470.7 275.5L468.9 272.6L466.9 269.9L464.7 267.4L462.4 265.1L459.9 263L457.3 261.2L454.6 259.7L451.7 258.5L448.9 257.5L445.9 256.8L443 256.5L440.1 256.4L437.1 256.6L434.3 257.2L431.4 258L428.7 259.1L426.1 260.5L423.6 262.2L421.3 264.2L419.1 266.4L417.1 268.8L415.3 271.4L413.7 274.2L412.4 277.2L411.2 280.4L410.4 283.6L409.7 287L409.3 290.4L409.2 293.9L409.3 297.3L409.7 300.8L410.4 304.3L411.2 307.6L412.4 310.9L413.7 314.1L415.3 317.2L417.1 320.1L419.1 322.8L421.3 325.3L423.6 327.6L426.1 329.7L428.7 331.5L431.4 333L434.3 334.2L437.1 335.2L440.1 335.9L443 336.2L445.9 336.3L448.9 336.1L451.7 335.5L454.6 334.7L457.3 333.6L459.9 332.2L462.4 330.5L464.7 328.5L466.9 326.3L468.9 323.9L470.7 321.3L472.3 318.5L473.6 315.5L474.8 312.3L475.6 309.1L476.3 305.7L476.7 302.3Z" fill="none" stroke="#9b4f17" stroke-width="3.5"/>
<circle cx="452.9" cy="345.7" r="7.4" fill="#ff0000"/>
<circle cx="410.5" cy="305.7" r="7.4" fill="#ff8c0a"/>
<circle cx="438.8" cy="284" r="7.4" fill="#00ff00"/>
<circle cx="481.1" cy="308.7" r="7.4" fill="#0064ff"/>
<circle cx="481.1" cy="282.8" r="7.4" fill="#66c8ff"/>
<circle cx="452.9" cy="366.9" r="7.4" fill="#8a1fff"/>
<circle cx="452.9" cy="222.9" r="7.4" fill="#ff00ff"/>
<circle cx="452.9" cy="301.6" r="7.4" fill="#cc99ff"/>
<circle cx="467" cy="220.8" r="7.4" fill="#c46a28"/>
<circle cx="438.8" cy="311" r="7.4" fill="#aaaaaa"/>
<circle cx="438.8" cy="397.4" r="7.4" fill="#000000"/>
<path d="M360.5 303.7L375.9 303.7L368.2 288.5Z" fill="#ff0000"/>
<path d="M416.9 275.8L432.3 275.8L424.6 260.6Z" fill="#00ff00"/>
<path d="M388.7 280.8L404.1 280.8L396.4 265.6Z" fill="#0064ff"/>
<path d="M402.8 294.1L418.2 294.1L410.5 278.9Z" fill="#66c8ff"/>
<path d="M402.8 272.9L418.2 272.9L410.5 257.7Z" fill="#8a1fff"/>
<path d="M459.3 320.5L474.7 320.5L467 305.3Z" fill="#ff00ff"/>
<path d="M501.6 284.3L517 284.3L509.3 269.1Z" fill="#ff8c0a"/>
<path d="M402.8 287L418.2 287L410.5 271.8Z" fill="#cc99ff"/>
<path d="M487.5 317.6L502.9 317.6L495.2 302.4Z" fill="#c46a28"/>
<path d="M473.4 319L488.8 319L481.1 303.8Z" fill="#000000"/>
<path d="M696.9 297.3L696.5 287.1L695.3 276.9L693.4 266.8L690.7 256.9L687.2 247.2L683.1 237.9L678.3 228.9L672.8 220.4L666.7 212.5L660.1 205.1L653 198.4L645.4 192.3L637.4 187.1L629.1 182.6L620.6 178.9L611.8 176L602.9 174L593.9 172.9L584.9 172.7L576 173.4L567.2 175L558.7 177.4L550.4 180.7L542.4 184.8L534.8 189.8L527.7 195.5L521.1 201.9L515 208.9L509.5 216.6L504.7 224.9L500.6 233.6L497.1 242.8L494.4 252.3L492.5 262.1L491.3 272.1L490.9 282.3L491.3 292.5L492.5 302.7L494.4 312.8L497.1 322.7L500.6 332.4L504.7 341.7L509.5 350.7L515 359.2L521.1 367.1L527.7 374.5L534.8 381.2L542.4 387.3L550.4 392.5L558.7 397L567.2 400.7L576 403.6L584.9 405.6L593.9 406.7L602.9 406.9L611.8 406.2L620.6 404.6L629.1 402.2L637.4 398.9L645.4 394.8L653 389.8L660.1 384.1L666.7 377.7L672.8 370.7L678.3 363L683.1 354.7L687.2 346L690.7 336.8L693.4 327.3L695.3 317.5L696.5 307.5Z" fill="#f5ede8"/>
<path d="M686.6 296.5L686.2 287.4L685.2 278.2L683.4 269.1L681 260.2L677.9 251.5L674.2 243.1L669.8 235L664.9 227.4L659.4 220.2L653.5 213.6L647.1 207.5L640.2 202.1L633.1 197.3L625.6 193.3L617.9 190L610 187.4L602 185.6L593.9 184.6L585.8 184.4L577.8 185.1L569.9 186.5L562.2 188.7L554.7 191.6L547.5 195.3L540.7 199.8L534.3 204.9L528.4 210.7L522.9 217L518 223.9L513.6 231.4L509.9 239.2L506.8 247.5L504.4 256.1L502.6 264.9L501.6 273.9L501.2 283L501.6 292.2L502.6 301.4L504.4 310.5L506.8 319.4L509.9 328.1L513.6 336.5L518 344.6L522.9 352.2L528.4 359.4L534.3 366L540.7 372.1L547.5 377.5L554.7 382.3L562.2 386.3L569.9 389.6L577.8 392.2L585.8 394L593.9 395L602 395.2L610 394.5L617.9 393.1L625.6 390.9L633.1 388L640.2 384.3L647.1 379.8L653.5 374.7L659.4 368.9L664.9 362.6L669.8 355.7L674.2 348.2L677.9 340.4L681 332.1L683.4 323.5L685.2 314.7L686.2 305.7Z" fill="#ebdbd0"/>
<path d="M676.3 295.8L676 287.6L675 279.5L673.5 271.4L671.3 263.5L668.6 255.7L665.3 248.3L661.4 241.1L657 234.3L652.2 227.9L646.9 222L641.2 216.7L635.1 211.8L628.7 207.6L622.1 204L615.2 201.1L608.2 198.8L601.1 197.2L593.9 196.3L586.7 196.1L579.6 196.7L572.6 197.9L565.7 199.9L559.1 202.5L552.7 205.8L546.6 209.8L540.9 214.3L535.6 219.5L530.8 225.1L526.4 231.3L522.5 237.9L519.2 244.9L516.5 252.2L514.3 259.8L512.8 267.7L511.8 275.7L511.5 283.8L511.8 292L512.8 300.1L514.3 308.2L516.5 316.1L519.2 323.9L522.5 331.3L526.4 338.5L530.8 345.3L535.6 351.7L540.9 357.6L546.6 362.9L552.7 367.8L559.1 372L565.7 375.6L572.6 378.5L579.6 380.8L586.7 382.4L593.9 383.3L601.1 383.5L608.2 382.9L615.2 381.7L622.1 379.7L628.7 377.1L635.1 373.8L641.2 369.8L646.9 365.3L652.2 360.1L657 354.5L661.4 348.3L665.3 341.7L668.6 334.7L671.3 327.4L673.5 319.8L675 311.9L676 303.9Z" fill="#e0c9b8"/>
<path d="M666 295L665.7 287.9L664.9 280.8L663.5 273.7L661.7 266.8L659.2 260L656.3 253.4L653 247.2L649.1 241.2L644.9 235.7L640.2 230.5L635.3 225.8L629.9 221.6L624.4 217.9L618.6 214.7L612.6 212.1L606.4 210.2L600.2 208.8L593.9 208L587.6 207.9L581.4 208.3L575.2 209.4L569.2 211.1L563.4 213.4L557.9 216.3L552.5 219.8L547.6 223.8L542.9 228.2L538.7 233.2L534.8 238.6L531.5 244.4L528.6 250.5L526.1 256.9L524.3 263.6L522.9 270.4L522.1 277.4L521.8 284.5L522.1 291.7L522.9 298.8L524.3 305.9L526.1 312.8L528.6 319.6L531.5 326.2L534.8 332.4L538.7 338.4L542.9 343.9L547.6 349.1L552.5 353.8L557.8 358L563.4 361.7L569.2 364.9L575.2 367.5L581.4 369.4L587.6 370.8L593.9 371.6L600.2 371.7L606.4 371.3L612.6 370.2L618.6 368.5L624.4 366.2L629.9 363.3L635.3 359.8L640.2 355.8L644.9 351.4L649.1 346.4L653 341L656.3 335.2L659.2 329.1L661.7 322.7L663.5 316L664.9 309.2L665.7 302.2Z" fill="#d6b7a1"/>
<path d="M655.7 294.3L655.5 288.2L654.8 282.1L653.6 276L652 270L649.9 264.2L647.4 258.6L644.5 253.3L641.2 248.2L637.6 243.4L633.6 239L629.3 234.9L624.8 231.3L620 228.2L615 225.5L609.9 223.2L604.6 221.5L599.3 220.3L593.9 219.7L588.5 219.6L583.2 220L577.9 220.9L572.8 222.4L567.8 224.4L563 226.8L558.5 229.8L554.2 233.2L550.2 237L546.6 241.3L543.3 245.9L540.4 250.8L537.9 256.1L535.8 261.6L534.2 267.3L533 273.2L532.3 279.2L532.1 285.3L532.3 291.4L533 297.5L534.2 303.6L535.8 309.6L537.9 315.4L540.4 321L543.3 326.3L546.6 331.4L550.2 336.2L554.2 340.6L558.5 344.7L563 348.3L567.8 351.4L572.8 354.1L577.9 356.4L583.2 358.1L588.5 359.3L593.9 359.9L599.3 360L604.6 359.6L609.9 358.7L615 357.2L620 355.2L624.8 352.8L629.3 349.8L633.6 346.4L637.6 342.6L641.2 338.3L644.5 333.7L647.4 328.8L649.9 323.5L652 318L653.6 312.3L654.8 306.4L655.5 300.4Z" fill="#cca68a"/>
<path d="M645.4 293.5L645.2 288.4L644.6 283.3L643.6 278.3L642.3 273.3L640.6 268.5L638.5 263.8L636.1 259.4L633.4 255.1L630.3 251.1L627 247.5L623.4 244.1L619.6 241.1L615.7 238.4L611.5 236.2L607.2 234.3L602.8 232.9L598.4 231.9L593.9 231.4L589.4 231.3L585 231.6L580.6 232.4L576.3 233.6L572.1 235.3L568.1 237.3L564.4 239.8L560.8 242.6L557.5 245.8L554.4 249.4L551.7 253.2L549.3 257.3L547.2 261.7L545.5 266.3L544.2 271.1L543.2 276L542.6 281L542.4 286L542.6 291.2L543.2 296.3L544.2 301.3L545.5 306.3L547.2 311.1L549.3 315.8L551.7 320.2L554.4 324.5L557.5 328.5L560.8 332.1L564.4 335.5L568.1 338.5L572.1 341.2L576.3 343.4L580.6 345.3L585 346.7L589.4 347.7L593.9 348.2L598.4 348.3L602.8 348L607.2 347.2L611.5 346L615.7 344.3L619.6 342.3L623.4 339.8L627 337L630.3 333.8L633.4 330.2L636.1 326.4L638.5 322.3L640.6 317.9L642.3 313.3L643.6 308.5L644.6 303.6L645.2 298.6Z" fill="#c29472"/>
<path d="M635.1 292.8L634.9 288.7L634.5 284.6L633.7 280.6L632.6 276.6L631.2 272.8L629.6 269L627.6 265.4L625.5 262.1L623 258.9L620.4 255.9L617.5 253.2L614.5 250.8L611.3 248.7L608 246.9L604.6 245.4L601.1 244.3L597.5 243.5L593.9 243.1L590.3 243L586.7 243.2L583.2 243.9L579.8 244.8L576.5 246.2L573.3 247.8L570.3 249.8L567.4 252.1L564.8 254.6L562.3 257.5L560.2 260.5L558.2 263.8L556.6 267.3L555.2 271L554.1 274.8L553.3 278.7L552.9 282.7L552.7 286.8L552.9 290.9L553.3 295L554.1 299L555.2 303L556.6 306.8L558.2 310.6L560.2 314.2L562.3 317.5L564.8 320.7L567.4 323.7L570.3 326.4L573.3 328.8L576.5 330.9L579.8 332.7L583.2 334.2L586.7 335.3L590.3 336.1L593.9 336.5L597.5 336.6L601.1 336.4L604.6 335.7L608 334.8L611.3 333.4L614.5 331.8L617.5 329.8L620.4 327.5L623 325L625.5 322.1L627.6 319.1L629.6 315.8L631.2 312.3L632.6 308.6L633.7 304.8L634.5 300.9L634.9 296.9Z" fill="#b8825a"/>
<path d="M624.8 292L624.7 289L624.3 285.9L623.7 282.9L622.9 279.9L621.9 277L620.7 274.2L619.2 271.5L617.6 269L615.7 266.6L613.8 264.4L611.6 262.4L609.4 260.6L607 259L604.5 257.6L601.9 256.5L599.3 255.7L596.6 255.1L593.9 254.7L591.2 254.7L588.5 254.9L585.9 255.4L583.3 256.1L580.8 257.1L578.4 258.3L576.2 259.8L574 261.5L572.1 263.4L570.2 265.5L568.6 267.8L567.1 270.3L565.9 272.9L564.9 275.7L564.1 278.6L563.5 281.5L563.1 284.5L563 287.5L563.1 290.6L563.5 293.7L564.1 296.7L564.9 299.7L565.9 302.6L567.1 305.4L568.6 308.1L570.2 310.6L572.1 313L574 315.2L576.2 317.2L578.4 319L580.8 320.6L583.3 322L585.9 323.1L588.5 323.9L591.2 324.5L593.9 324.9L596.6 324.9L599.3 324.7L601.9 324.2L604.5 323.5L607 322.5L609.3 321.3L611.6 319.8L613.8 318.1L615.7 316.2L617.6 314.1L619.2 311.8L620.7 309.3L621.9 306.7L622.9 303.9L623.7 301L624.3 298.1L624.7 295.1Z" fill="#ad7043"/>
<path d="M614.5 291.3L614.2 287.2L613.3 283.2L611.7 279.4L609.7 275.9L607.1 272.9L604.2 270.3L600.9 268.4L597.5 267L593.9 266.4L590.3 266.5L586.9 267.3L583.6 268.8L580.7 270.9L578.1 273.6L576.1 276.8L574.5 280.4L573.6 284.3L573.3 288.3L573.6 292.4L574.5 296.4L576.1 300.2L578.1 303.7L580.7 306.7L583.6 309.3L586.9 311.2L590.3 312.6L593.9 313.2L597.5 313.1L600.9 312.3L604.2 310.8L607.1 308.7L609.7 306L611.7 302.8L613.3 299.2L614.2 295.3Z" fill="#a35e2c"/>
<path d="M604.2 290.5L604 288.5L603.6 286.5L602.8 284.6L601.8 282.9L600.5 281.3L599 280.1L597.4 279.1L595.7 278.4L593.9 278.1L592.1 278.2L590.4 278.6L588.8 279.3L587.3 280.4L586 281.7L585 283.3L584.2 285.1L583.8 287L583.6 289L583.8 291.1L584.2 293.1L585 295L586 296.7L587.3 298.3L588.8 299.5L590.4 300.5L592.1 301.2L593.9 301.5L595.7 301.4L597.4 301L599 300.3L600.5 299.2L601.8 297.9L602.8 296.3L603.6 294.5L604 292.6Z" fill="#994c14"/>
<path d="M696.9 297.3L696.5 287.1L695.3 276.9L693.4 266.8L690.7 256.9L687.2 247.2L683.1 237.9L678.3 228.9L672.8 220.4L666.7 212.5L660.1 205.1L653 198.4L645.4 192.3L637.4 187.1L629.1 182.6L620.6 178.9L611.8 176L602.9 174L593.9 172.9L584.9 172.7L576 173.4L567.2 175L558.7 177.4L550.4 180.7L542.4 184.8L534.8 189.8L527.7 195.5L521.1 201.9L515 208.9L509.5 216.6L504.7 224.9L500.6 233.6L497.1 242.8L494.4 252.3L492.5 262.1L491.3 272.1L490.9 282.3L491.3 292.5L492.5 302.7L494.4 312.8L497.1 322.7L500.6 332.4L504.7 341.7L509.5 350.7L515 359.2L521.1 367.1L527.7 374.5L534.8 381.2L542.4 387.3L550.4 392.5L558.7 397L567.2 400.7L576 403.6L584.9 405.6L593.9 406.7L602.9 406.9L611.8 406.2L620.6 404.6L629.1 402.2L637.4 398.9L645.4 394.8L653 389.8L660.1 384.1L666.7 377.7L672.8 370.7L678.3 363L683.1 354.7L687.2 346L690.7 336.8L693.4 327.3L695.3 317.5L696.5 307.5Z" fill="none" stroke="#9b4f17" stroke-width="1.4"/>
<path d="M645.4 293.5L645.2 288.4L644.6 283.3L643.6 278.3L642.3 273.3L640.6 268.5L638.5 263.8L636.1 259.4L633.4 255.1L630.3 251.1L627 247.5L623.4 244.1L619.6 241.1L615.7 238.4L611.5 236.2L607.2 234.3L602.8 232.9L598.4 231.9L593.9 231.4L589.4 231.3L585 231.6L580.6 232.4L576.3 233.6L572.1 235.3L568.1 237.3L564.4 239.8L560.8 242.6L557.5 245.8L554.4 249.4L551.7 253.2L549.3 257.3L547.2 261.7L545.5 266.3L544.2 271.1L543.2 276L542.6 281L542.4 286L542.6 291.2L543.2 296.3L544.2 301.3L545.5 306.3L547.2 311.1L549.3 315.8L551.7 320.2L554.4 324.5L557.5 328.5L560.8 332.1L564.4 335.5L568.1 338.5L572.1 341.2L576.3 343.4L580.6 345.3L585 346.7L589.4 347.7L593.9 348.2L598.4 348.3L602.8 348L607.2 347.2L611.5 346L615.7 344.3L619.6 342.3L623.4 339.8L627 337L630.3 333.8L633.4 330.2L636.1 326.4L638.5 322.3L640.6 317.9L642.3 313.3L643.6 308.5L644.6 303.6L645.2 298.6Z" fill="none" stroke="#9b4f17" stroke-width="3.5"/>
<circle cx="608.2" cy="363.1" r="7.4" fill="#ff0000"/>
<circle cx="551.7" cy="305.2" r="7.4" fill="#ff8c0a"/>
<circle cx="579.9" cy="273" r="7.4" fill="#00ff00"/>
<circle cx="608.2" cy="388.8" r="7.4" fill="#8a1fff"/>
<circle cx="608.2" cy="181" r="7.4" fill="#ff00ff"/>
<circle cx="608.2" cy="297.1" r="7.4" fill="#cc99ff"/>
<circle cx="622.3" cy="178" r="7.4" fill="#c46a28"/>
<circle cx="594" cy="312.7" r="7.4" fill="#aaaaaa"/>
<circle cx="579.9" cy="438.4" r="7.4" fill="#000000"/>
<path d="M473.4 299.5L488.8 299.5L481.1 284.3Z" fill="#ff0000"/>
<path d="M558.1 254.4L573.5 254.4L565.8 239.2Z" fill="#00ff00"/>
<path d="M515.8 264.2L531.2 264.2L523.5 249Z" fill="#0064ff"/>
<path d="M544 280.6L559.4 280.6L551.7 265.4Z" fill="#66c8ff"/>
<path d="M529.9 251.9L545.3 251.9L537.6 236.7Z" fill="#8a1fff"/>
<path d="M544 273L559.4 273L551.7 257.8Z" fill="#cc99ff"/>
<path d="M887.7 293.5L887.2 280.1L885.6 266.8L882.9 253.6L879.2 240.6L874.5 227.9L868.8 215.7L862.2 203.9L854.8 192.8L846.5 182.4L837.4 172.7L827.7 163.9L817.3 156L806.5 149.1L795.2 143.2L783.5 138.3L771.5 134.6L759.4 132L747.2 130.5L735 130.2L722.9 131.1L711 133.2L699.3 136.3L688.1 140.6L677.3 146L667 152.5L657.3 159.9L648.3 168.3L640.1 177.5L632.7 187.6L626.2 198.4L620.6 209.8L615.9 221.8L612.2 234.2L609.6 247.1L608 260.2L607.5 273.5L608 286.9L609.6 300.2L612.2 313.4L615.9 326.4L620.6 339.1L626.2 351.3L632.7 363.1L640.1 374.2L648.3 384.6L657.3 394.3L667 403.1L677.3 411L688.1 417.9L699.3 423.8L711 428.7L722.9 432.4L735 435L747.2 436.5L759.4 436.8L771.5 435.9L783.5 433.8L795.2 430.7L806.5 426.4L817.3 421L827.7 414.5L837.4 407.1L846.5 398.7L854.8 389.5L862.2 379.4L868.8 368.6L874.5 357.2L879.2 345.2L882.9 332.8L885.6 319.9L887.2 306.8Z" fill="#f5ede8"/>
<path d="M873.6 292.5L873.1 280.5L871.7 268.5L869.3 256.6L866 244.9L861.7 233.5L856.6 222.5L850.7 211.9L844 201.9L836.5 192.5L828.4 183.8L819.6 175.9L810.3 168.8L800.5 162.5L790.4 157.2L779.9 152.8L769.1 149.5L758.2 147.1L747.2 145.8L736.2 145.6L725.3 146.4L714.6 148.2L704.1 151L694 154.9L684.2 159.8L675 165.6L666.3 172.2L658.2 179.8L650.8 188.1L644.1 197.2L638.2 206.9L633.2 217.2L629 228L625.7 239.2L623.3 250.7L621.9 262.5L621.4 274.5L621.9 286.5L623.3 298.5L625.7 310.4L629 322.1L633.2 333.5L638.2 344.5L644.1 355.1L650.8 365.1L658.2 374.5L666.3 383.2L675 391.1L684.2 398.2L694 404.5L704.1 409.8L714.6 414.2L725.3 417.5L736.2 419.9L747.2 421.2L758.2 421.4L769.1 420.6L779.9 418.8L790.4 416L800.5 412.1L810.3 407.2L819.6 401.4L828.4 394.8L836.5 387.2L844 378.9L850.7 369.8L856.6 360.1L861.7 349.8L866 339L869.3 327.8L871.7 316.3L873.1 304.5Z" fill="#ebdbd0"/>
<path d="M859.5 291.5L859.1 280.8L857.8 270.1L855.7 259.6L852.7 249.2L849 239L844.5 229.2L839.2 219.9L833.2 211L826.6 202.6L819.3 194.9L811.6 187.8L803.3 181.5L794.6 176L785.6 171.2L776.2 167.4L766.7 164.4L757 162.3L747.2 161.1L737.4 160.9L727.7 161.6L718.2 163.2L708.9 165.8L699.9 169.2L691.2 173.5L683 178.7L675.3 184.6L668.1 191.3L661.5 198.7L655.6 206.8L650.3 215.4L645.8 224.5L642.1 234.1L639.2 244.1L637.1 254.4L635.8 264.9L635.4 275.5L635.8 286.2L637.1 296.9L639.2 307.4L642.1 317.8L645.8 328L650.3 337.8L655.6 347.1L661.5 356L668.1 364.4L675.3 372.1L683 379.2L691.2 385.5L699.9 391L708.9 395.8L718.2 399.6L727.7 402.6L737.4 404.7L747.2 405.9L757 406.1L766.7 405.4L776.2 403.8L785.6 401.2L794.6 397.8L803.3 393.5L811.6 388.3L819.3 382.4L826.6 375.7L833.2 368.3L839.2 360.2L844.5 351.6L849 342.5L852.7 332.9L855.7 322.9L857.8 312.6L859.1 302.1Z" fill="#e0c9b8"/>
<path d="M845.5 290.5L845.1 281.1L844 271.8L842.1 262.5L839.5 253.5L836.2 244.6L832.3 236L827.7 227.8L822.4 220L816.6 212.7L810.3 206L803.5 199.8L796.3 194.3L788.7 189.4L780.8 185.3L772.6 181.9L764.2 179.3L755.7 177.4L747.2 176.4L738.7 176.2L730.2 176.8L721.8 178.3L713.7 180.5L705.8 183.5L698.2 187.3L691 191.8L684.2 197L678 202.8L672.2 209.3L667 216.3L662.4 223.9L658.5 231.9L655.2 240.3L652.7 249L650.8 258L649.7 267.2L649.3 276.5L649.7 285.9L650.8 295.2L652.7 304.5L655.2 313.5L658.5 322.4L662.4 331L667 339.2L672.2 347L678 354.3L684.2 361L691 367.2L698.2 372.7L705.8 377.6L713.7 381.7L721.8 385.1L730.2 387.7L738.7 389.6L747.2 390.6L755.7 390.8L764.2 390.2L772.6 388.7L780.8 386.5L788.7 383.5L796.3 379.7L803.5 375.2L810.3 370L816.6 364.2L822.4 357.7L827.7 350.7L832.3 343.1L836.2 335.1L839.5 326.7L842.1 318L844 309L845.1 299.8Z" fill="#d6b7a1"/>
<path d="M831.4 289.5L831.1 281.5L830.1 273.5L828.5 265.5L826.3 257.7L823.5 250.1L820.1 242.8L816.2 235.8L811.7 229.1L806.7 222.8L801.3 217L795.5 211.8L789.3 207L782.8 202.9L776 199.3L769 196.4L761.8 194.2L754.5 192.6L747.2 191.7L739.9 191.5L732.6 192.1L725.5 193.3L718.5 195.2L711.7 197.8L705.2 201L699 204.9L693.2 209.3L687.8 214.4L682.9 219.9L678.4 225.9L674.5 232.4L671.1 239.3L668.3 246.5L666.1 253.9L664.6 261.7L663.6 269.5L663.3 277.5L663.6 285.5L664.6 293.5L666.1 301.5L668.3 309.3L671.1 316.9L674.5 324.2L678.4 331.2L682.9 337.9L687.8 344.2L693.2 350L699 355.2L705.2 360L711.7 364.1L718.5 367.7L725.5 370.6L732.6 372.8L739.9 374.4L747.2 375.3L754.5 375.5L761.8 374.9L769 373.7L776 371.8L782.8 369.2L789.3 366L795.5 362.1L801.3 357.7L806.7 352.6L811.7 347.1L816.2 341.1L820.1 334.6L823.5 327.7L826.3 320.5L828.5 313.1L830.1 305.3L831.1 297.5Z" fill="#cca68a"/>
<path d="M817.3 288.5L817.1 281.8L816.3 275.1L815 268.5L813.1 262L810.8 255.7L807.9 249.6L804.6 243.7L800.9 238.2L796.8 233L792.3 228.1L787.4 223.7L782.2 219.8L776.8 216.3L771.2 213.3L765.3 210.9L759.4 209L753.3 207.7L747.2 207L741.1 206.9L735 207.3L729.1 208.3L723.3 209.9L717.6 212.1L712.2 214.8L707.1 218L702.2 221.7L697.7 225.9L693.6 230.5L689.9 235.5L686.6 240.9L683.8 246.6L681.5 252.6L679.6 258.9L678.3 265.3L677.5 271.9L677.3 278.5L677.5 285.2L678.3 291.9L679.6 298.5L681.5 305L683.8 311.3L686.6 317.4L689.9 323.3L693.6 328.8L697.7 334L702.2 338.9L707.1 343.3L712.2 347.2L717.6 350.7L723.3 353.7L729.1 356.1L735 358L741.1 359.3L747.2 360L753.3 360.1L759.4 359.7L765.3 358.7L771.2 357.1L776.8 354.9L782.2 352.2L787.4 349L792.3 345.3L796.8 341.1L800.9 336.5L804.6 331.5L807.9 326.1L810.8 320.4L813.1 314.4L815 308.1L816.3 301.7L817.1 295.1Z" fill="#c29472"/>
<path d="M803.3 287.5L803.1 282.2L802.5 276.8L801.4 271.5L799.9 266.3L798 261.3L795.8 256.4L793.1 251.7L790.2 247.2L786.9 243.1L783.2 239.2L779.4 235.7L775.2 232.5L770.9 229.7L766.4 227.4L761.7 225.4L756.9 223.9L752.1 222.9L747.2 222.3L742.3 222.2L737.5 222.5L732.7 223.4L728 224.6L723.5 226.4L719.2 228.5L715.1 231.1L711.2 234.1L707.6 237.4L704.3 241.1L701.3 245.1L698.7 249.4L696.5 254L694.6 258.8L693.1 263.8L692.1 268.9L691.4 274.2L691.2 279.5L691.4 284.8L692.1 290.2L693.1 295.5L694.6 300.7L696.5 305.7L698.7 310.6L701.3 315.3L704.3 319.8L707.6 323.9L711.2 327.8L715.1 331.3L719.2 334.5L723.5 337.3L728 339.6L732.7 341.6L737.5 343.1L742.3 344.1L747.2 344.7L752.1 344.8L756.9 344.5L761.7 343.6L766.4 342.4L770.9 340.6L775.2 338.5L779.4 335.9L783.2 332.9L786.9 329.6L790.2 325.9L793.1 321.9L795.8 317.6L798 313L799.9 308.2L801.4 303.2L802.5 298.1L803.1 292.8Z" fill="#b8825a"/>
<path d="M789.3 286.5L789.1 282.5L788.6 278.5L787.8 274.5L786.7 270.6L785.3 266.8L783.6 263.2L781.7 259.6L779.4 256.3L776.9 253.2L774.2 250.3L771.3 247.6L768.2 245.3L765 243.2L761.6 241.4L758.1 239.9L754.5 238.8L750.9 238L747.2 237.6L743.5 237.5L739.9 237.8L736.3 238.4L732.8 239.3L729.4 240.6L726.2 242.3L723.1 244.2L720.2 246.4L717.5 248.9L715 251.7L712.8 254.7L710.8 258L709.1 261.4L707.7 265L706.6 268.7L705.8 272.6L705.4 276.5L705.2 280.5L705.4 284.5L705.8 288.5L706.6 292.5L707.7 296.4L709.1 300.2L710.8 303.8L712.8 307.4L715 310.7L717.5 313.8L720.2 316.7L723.1 319.4L726.2 321.7L729.4 323.8L732.8 325.6L736.3 327.1L739.9 328.2L743.5 329L747.2 329.4L750.9 329.5L754.5 329.2L758.1 328.6L761.6 327.7L765 326.4L768.2 324.7L771.3 322.8L774.2 320.6L776.9 318.1L779.4 315.3L781.7 312.3L783.6 309L785.3 305.6L786.7 302L787.8 298.3L788.6 294.4L789.1 290.5Z" fill="#ad7043"/>
<path d="M775.2 285.5L774.8 280.2L773.5 274.9L771.5 269.9L768.7 265.4L765.2 261.3L761.2 258L756.8 255.4L752.1 253.7L747.2 252.9L742.3 253L737.6 254.1L733.2 256L729.2 258.8L725.7 262.3L722.9 266.5L720.9 271.2L719.6 276.2L719.2 281.5L719.6 286.8L720.9 292.1L722.9 297.1L725.7 301.6L729.2 305.7L733.2 309L737.6 311.6L742.3 313.3L747.2 314.1L752.1 314L756.8 312.9L761.2 311L765.2 308.2L768.7 304.7L771.5 300.5L773.5 295.8L774.8 290.8Z" fill="#a35e2c"/>
<path d="M761.2 284.5L761 281.8L760.4 279.2L759.3 276.7L757.9 274.4L756.2 272.4L754.2 270.8L752 269.5L749.6 268.6L747.2 268.2L744.8 268.3L742.4 268.8L740.2 269.8L738.2 271.1L736.5 272.9L735.1 275L734 277.3L733.4 279.9L733.2 282.5L733.4 285.2L734 287.8L735.1 290.3L736.5 292.6L738.2 294.6L740.2 296.2L742.4 297.5L744.8 298.4L747.2 298.8L749.6 298.7L752 298.2L754.2 297.2L756.2 295.9L757.9 294.1L759.3 292L760.4 289.7L761 287.1Z" fill="#994c14"/>
<path d="M887.7 293.5L887.2 280.1L885.6 266.8L882.9 253.6L879.2 240.6L874.5 227.9L868.8 215.7L862.2 203.9L854.8 192.8L846.5 182.4L837.4 172.7L827.7 163.9L817.3 156L806.5 149.1L795.2 143.2L783.5 138.3L771.5 134.6L759.4 132L747.2 130.5L735 130.2L722.9 131.1L711 133.2L699.3 136.3L688.1 140.6L677.3 146L667 152.5L657.3 159.9L648.3 168.3L640.1 177.5L632.7 187.6L626.2 198.4L620.6 209.8L615.9 221.8L612.2 234.2L609.6 247.1L608 260.2L607.5 273.5L608 286.9L609.6 300.2L612.2 313.4L615.9 326.4L620.6 339.1L626.2 351.3L632.7 363.1L640.1 374.2L648.3 384.6L657.3 394.3L667 403.1L677.3 411L688.1 417.9L699.3 423.8L711 428.7L722.9 432.4L735 435L747.2 436.5L759.4 436.8L771.5 435.9L783.5 433.8L795.2 430.7L806.5 426.4L817.3 421L827.7 414.5L837.4 407.1L846.5 398.7L854.8 389.5L862.2 379.4L868.8 368.6L874.5 357.2L879.2 345.2L882.9 332.8L885.6 319.9L887.2 306.8Z" fill="none" stroke="#9b4f17" stroke-width="1.4"/>
<path d="M817.3 288.5L817.1 281.8L816.3 275.1L815 268.5L813.1 262L810.8 255.7L807.9 249.6L804.6 243.7L800.9 238.2L796.8 233L792.3 228.1L787.4 223.7L782.2 219.8L776.8 216.3L771.2 213.3L765.3 210.9L759.4 209L753.3 207.7L747.2 207L741.1 206.9L735 207.3L729.1 208.3L723.3 209.9L717.6 212.1L712.2 214.8L707.1 218L702.2 221.7L697.7 225.9L693.6 230.5L689.9 235.5L686.6 240.9L683.8 246.6L681.5 252.6L679.6 258.9L678.3 265.3L677.5 271.9L677.3 278.5L677.5 285.2L678.3 291.9L679.6 298.5L681.5 305L683.8 311.3L686.6 317.4L689.9 323.3L693.6 328.8L697.7 334L702.2 338.9L707.1 343.3L712.2 347.2L717.6 350.7L723.3 353.7L729.1 356.1L735 358L741.1 359.3L747.2 360L753.3 360.1L759.4 359.7L765.3 358.7L771.2 357.1L776.8 354.9L782.2 352.2L787.4 349L792.3 345.3L796.8 341.1L800.9 336.5L804.6 331.5L807.9 326.1L810.8 320.4L813.1 314.4L815 308.1L816.3 301.7L817.1 295.1Z" fill="none" stroke="#9b4f17" stroke-width="3.5"/>
<circle cx="763.4" cy="380" r="7.4" fill="#ff0000"/>
<circle cx="678.7" cy="304.5" r="7.4" fill="#ff8c0a"/>
<circle cx="735.2" cy="261.5" r="7.4" fill="#00ff00"/>
<circle cx="819.9" cy="310.5" r="7.4" fill="#0064ff"/>
<circle cx="819.9" cy="254.1" r="7.4" fill="#66c8ff"/>
<circle cx="763.4" cy="407.2" r="7.4" fill="#8a1fff"/>
<circle cx="749.3" cy="139.6" r="7.4" fill="#ff00ff"/>
<circle cx="763.4" cy="291.7" r="7.4" fill="#cc99ff"/>
<circle cx="791.7" cy="134.9" r="7.4" fill="#c46a28"/>
<circle cx="735.2" cy="314.6" r="7.4" fill="#aaaaaa"/>
<circle cx="721.1" cy="476.4" r="7.4" fill="#000000"/>
<path d="M586.3 292.9L601.7 292.9L594 277.7Z" fill="#ff0000"/>
<path d="M699.3 231.7L714.7 231.7L707 216.5Z" fill="#00ff00"/>
<path d="M642.8 247.8L658.2 247.8L650.5 232.6Z" fill="#0064ff"/>
<path d="M671 269.3L686.4 269.3L678.7 254.1Z" fill="#66c8ff"/>
<path d="M671 230.3L686.4 230.3L678.7 215.1Z" fill="#8a1fff"/>
<path d="M784 326.4L799.4 326.4L791.7 311.2Z" fill="#ff00ff"/>
<path d="M882.8 255.2L898.2 255.2L890.5 240Z" fill="#ff8c0a"/>
<path d="M685.2 258.2L700.6 258.2L692.9 243Z" fill="#cc99ff"/>
<path d="M840.4 318.3L855.8 318.3L848.1 303.1Z" fill="#c46a28"/>
<path d="M812.2 324L827.6 324L819.9 308.8Z" fill="#000000"/>
</g>
<rect x="114.1" y="51.5" width="875.2" height="510" fill="none" stroke="#000" stroke-width="1.6"/>
<path d="M114.1 51.5v5.1M114.1 561.5v-5.1M128.2 51.5v5.1M128.2 561.5v-5.1M142.3 51.5v10.2M142.3 561.5v-10.2M156.4 51.5v5.1M156.4 561.5v-5.1M170.5 51.5v5.1M170.5 561.5v-5.1M184.7 51.5v5.1M184.7 561.5v-5.1M198.8 51.5v5.1M198.8 561.5v-5.1M212.9 51.5v5.1M212.9 561.5v-5.1M227 51.5v5.1M227 561.5v-5.1M241.1 51.5v5.1M241.1 561.5v-5.1M255.2 51.5v5.1M255.2 561.5v-5.1M269.4 51.5v5.1M269.4 561.5v-5.1M283.5 51.5v10.2M283.5 561.5v-10.2M297.6 51.5v5.1M297.6 561.5v-5.1M311.7 51.5v5.1M311.7 561.5v-5.1M325.8 51.5v5.1M325.8 561.5v-5.1M339.9 51.5v5.1M339.9 561.5v-5.1M354.1 51.5v5.1M354.1 561.5v-5.1M368.2 51.5v5.1M368.2 561.5v-5.1M382.3 51.5v5.1M382.3 561.5v-5.1M396.4 51.5v5.1M396.4 561.5v-5.1M410.5 51.5v5.1M410.5 561.5v-5.1M424.6 51.5v10.2M424.6 561.5v-10.2M438.8 51.5v5.1M438.8 561.5v-5.1M452.9 51.5v5.1M452.9 561.5v-5.1M467 51.5v5.1M467 561.5v-5.1M481.1 51.5v5.1M481.1 561.5v-5.1M495.2 51.5v5.1M495.2 561.5v-5.1M509.3 51.5v5.1M509.3 561.5v-5.1M523.5 51.5v5.1M523.5 561.5v-5.1M537.6 51.5v5.1M537.6 561.5v-5.1M551.7 51.5v5.1M551.7 561.5v-5.1M565.8 51.5v10.2M565.8 561.5v-10.2M579.9 51.5v5.1M579.9 561.5v-5.1M594 51.5v5.1M594 561.5v-5.1M608.2 51.5v5.1M608.2 561.5v-5.1M622.3 51.5v5.1M622.3 561.5v-5.1M636.4 51.5v5.1M636.4 561.5v-5.1M650.5 51.5v5.1M650.5 561.5v-5.1M664.6 51.5v5.1M664.6 561.5v-5.1M678.7 51.5v5.1M678.7 561.5v-5.1M692.9 51.5v5.1M692.9 561.5v-5.1M707 51.5v10.2M707 561.5v-10.2M721.1 51.5v5.1M721.1 561.5v-5.1M735.2 51.5v5.1M735.2 561.5v-5.1M749.3 51.5v5.1M749.3 561.5v-5.1M763.4 51.5v5.1M763.4 561.5v-5.1M777.6 51.5v5.1M777.6 561.5v-5.1M791.7 51.5v5.1M791.7 561.5v-5.1M805.8 51.5v5.1M805.8 561.5v-5.1M819.9 51.5v5.1M819.9 561.5v-5.1M834 51.5v5.1M834 561.5v-5.1M848.1 51.5v10.2M848.1 561.5v-10.2M862.3 51.5v5.1M862.3 561.5v-5.1M876.4 51.5v5.1M876.4 561.5v-5.1M890.5 51.5v5.1M890.5 561.5v-5.1M904.6 51.5v5.1M904.6 561.5v-5.1M918.7 51.5v5.1M918.7 561.5v-5.1M932.9 51.5v5.1M932.9 561.5v-5.1M947 51.5v5.1M947 561.5v-5.1M961.1 51.5v5.1M961.1 561.5v-5.1M975.2 51.5v5.1M975.2 561.5v-5.1M989.3 51.5v10.2M989.3 561.5v-10.2M114.1 561.3h8.8M989.3 561.3h-8.8M114.1 551.1h8.8M989.3 551.1h-8.8M114.1 540.9h8.8M989.3 540.9h-8.8M114.1 530.7h8.8M989.3 530.7h-8.8M114.1 520.5h8.8M989.3 520.5h-8.8M114.1 510.3h17.5M989.3 510.3h-17.5M114.1 500.1h8.8M989.3 500.1h-8.8M114.1 489.9h8.8M989.3 489.9h-8.8M114.1 479.7h8.8M989.3 479.7h-8.8M114.1 469.5h8.8M989.3 469.5h-8.8M114.1 459.3h8.8M989.3 459.3h-8.8M114.1 449.1h8.8M989.3 449.1h-8.8M114.1 438.9h8.8M989.3 438.9h-8.8M114.1 428.7h8.8M989.3 428.7h-8.8M114.1 418.5h8.8M989.3 418.5h-8.8M114.1 408.3h17.5M989.3 408.3h-17.5M114.1 398.1h8.8M989.3 398.1h-8.8M114.1 387.9h8.8M989.3 387.9h-8.8M114.1 377.7h8.8M989.3 377.7h-8.8M114.1 367.5h8.8M989.3 367.5h-8.8M114.1 357.3h8.8M989.3 357.3h-8.8M114.1 347.1h8.8M989.3 347.1h-8.8M114.1 336.9h8.8M989.3 336.9h-8.8M114.1 326.7h8.8M989.3 326.7h-8.8M114.1 316.5h8.8M989.3 316.5h-8.8M114.1 306.3h17.5M989.3 306.3h-17.5M114.1 296.1h8.8M989.3 296.1h-8.8M114.1 285.9h8.8M989.3 285.9h-8.8M114.1 275.7h8.8M989.3 275.7h-8.8M114.1 265.5h8.8M989.3 265.5h-8.8M114.1 255.3h8.8M989.3 255.3h-8.8M114.1 245.1h8.8M989.3 245.1h-8.8M114.1 234.9h8.8M989.3 234.9h-8.8M114.1 224.7h8.8M989.3 224.7h-8.8M114.1 214.5h8.8M989.3 214.5h-8.8M114.1 204.3h17.5M989.3 204.3h-17.5M114.1 194.1h8.8M989.3 194.1h-8.8M114.1 183.9h8.8M989.3 183.9h-8.8M114.1 173.7h8.8M989.3 173.7h-8.8M114.1 163.5h8.8M989.3 163.5h-8.8M114.1 153.3h8.8M989.3 153.3h-8.8M114.1 143.1h8.8M989.3 143.1h-8.8M114.1 132.9h8.8M989.3 132.9h-8.8M114.1 122.7h8.8M989.3 122.7h-8.8M114.1 112.5h8.8M989.3 112.5h-8.8M114.1 102.3h17.5M989.3 102.3h-17.5M114.1 92.1h8.8M989.3 92.1h-8.8M114.1 81.9h8.8M989.3 81.9h-8.8M114.1 71.7h8.8M989.3 71.7h-8.8M114.1 61.5h8.8M989.3 61.5h-8.8M114.1 51.3h8.8M989.3 51.3h-8.8" stroke="#000" stroke-width="1.5" fill="none"/>
<text transform="translate(142.3 605.3) scale(1 1.045)" font-size="34.7" text-anchor="middle">0</text>
<text transform="translate(283.5 605.3) scale(1 1.045)" font-size="34.7" text-anchor="middle">1</text>
<text transform="translate(424.6 605.3) scale(1 1.045)" font-size="34.7" text-anchor="middle">2</text>
<text transform="translate(565.8 605.3) scale(1 1.045)" font-size="34.7" text-anchor="middle">3</text>
<text transform="translate(707 605.3) scale(1 1.045)" font-size="34.7" text-anchor="middle">4</text>
<text transform="translate(848.1 605.3) scale(1 1.045)" font-size="34.7" text-anchor="middle">5</text>
<text transform="translate(989.3 605.3) scale(1 1.045)" font-size="34.7" text-anchor="middle">6</text>
<text transform="translate(105.4 522.7) scale(1 1.045)" font-size="34.7" text-anchor="end">-20</text>
<text transform="translate(105.4 420.7) scale(1 1.045)" font-size="34.7" text-anchor="end">-10</text>
<text transform="translate(105.4 318.7) scale(1 1.045)" font-size="34.7" text-anchor="end">0</text>
<text transform="translate(105.4 216.7) scale(1 1.045)" font-size="34.7" text-anchor="end">10</text>
<text transform="translate(105.4 114.7) scale(1 1.045)" font-size="34.7" text-anchor="end">20</text>
<text transform="translate(551.7 34) scale(1 1.045)" font-size="43.4" text-anchor="middle">Congo MAM</text>
<text transform="translate(551.7 642.5) scale(1 1.045)" font-size="34.7" text-anchor="middle">Mean temperature change (<tspan font-size="20.8" dy="-13.6">o</tspan><tspan dy="13.6">C)</tspan></text>
<text transform="translate(27.8 305.9) rotate(-90) scale(1 1.045)" font-size="34.7" text-anchor="middle">Precipitation change (%)</text>
</g>
<g id="p1">
<clipPath id="cl1"><rect x="114.1" y="734.6" width="875.2" height="510.5"/></clipPath>
<g clip-path="url(#cl1)">
<path d="M143.9 734.6V1245.1" stroke="#000" stroke-width="2.8" stroke-dasharray="4.8 10.5" stroke-dashoffset="0" fill="none"/>
<path d="M114.1 981.5H989.3" stroke="#000" stroke-width="2.8" stroke-dasharray="4.8 10.5" stroke-dashoffset="0" fill="none"/>
<path fill="#000" d="M134.6 954.1L142.0 952.6L149.3 954.7L155.6 960.4L159.8 968.8L161.4 978.3L161.4 988.8L158.8 999.3L154.6 1005.6L146.2 1008.7L138.8 1007.6L133.6 1002.4L128.9 994.0L126.2 982.5L126.8 970.9L129.9 960.4ZM130.2 958.5h2.0v2.0h-2.0zM156.9 962.1h1.5v1.5h-1.5zM125.5 966.8h1.5v1.5h-1.5zM136.8 1009.1h1.9v1.9h-1.9zM127.4 994.7h1.7v1.7h-1.7zM161.8 980.6h1.7v1.7h-1.7zM127.8 959.6h1.7v1.7h-1.7zM129.0 994.9h2.0v2.0h-2.0zM162.0 980.8h1.7v1.7h-1.7zM153.2 957.1h1.3v1.3h-1.3zM140.8 952.2h1.9v1.9h-1.9zM151.0 1006.0h1.7v1.7h-1.7zM127.6 963.7h1.7v1.7h-1.7zM161.2 978.6h1.5v1.5h-1.5zM131.0 997.8h2.0v2.0h-2.0zM160.7 987.1h1.9v1.9h-1.9zM129.6 958.9h1.3v1.3h-1.3zM126.5 966.5h1.5v1.5h-1.5zM160.6 983.3h1.2v1.2h-1.2zM147.2 1008.2h1.4v1.4h-1.4zM129.1 995.8h1.9v1.9h-1.9zM127.2 962.3h1.6v1.6h-1.6zM148.7 1008.2h1.8v1.8h-1.8zM155.2 1004.0h1.5v1.5h-1.5zM124.8 983.0h2.0v2.0h-2.0zM136.3 952.1h1.5v1.5h-1.5zM155.8 960.8h1.4v1.4h-1.4zM139.7 949.9h1.3v1.3h-1.3zM159.6 966.2h1.3v1.3h-1.3zM160.8 975.5h1.4v1.4h-1.4zM161.8 985.8h1.9v1.9h-1.9zM139.3 951.1h1.2v1.2h-1.2zM157.7 964.9h1.8v1.8h-1.8zM128.0 992.6h1.4v1.4h-1.4zM161.0 973.9h1.3v1.3h-1.3zM127.1 968.0h1.6v1.6h-1.6zM137.4 1006.8h1.2v1.2h-1.2zM125.4 985.6h2.0v2.0h-2.0zM125.4 973.9h1.3v1.3h-1.3zM163.8 986.3h1.2v1.2h-1.2zM159.6 990.4h1.8v1.8h-1.8zM126.5 966.9h1.9v1.9h-1.9zM150.2 1006.3h1.3v1.3h-1.3zM124.7 974.7h1.9v1.9h-1.9zM131.2 956.0h1.9v1.9h-1.9zM125.8 986.7h1.4v1.4h-1.4zM155.1 959.6h1.4v1.4h-1.4zM149.8 1008.2h1.6v1.6h-1.6zM125.3 970.9h1.8v1.8h-1.8zM136.2 949.7h1.8v1.8h-1.8zM126.2 977.2h1.3v1.3h-1.3zM152.2 1008.9h1.5v1.5h-1.5zM135.2 1004.2h2.0v2.0h-2.0zM128.0 959.1h1.8v1.8h-1.8zM132.5 1001.1h1.4v1.4h-1.4zM142.2 950.0h1.2v1.2h-1.2zM161.0 981.4h1.5v1.5h-1.5zM156.0 961.3h1.5v1.5h-1.5zM124.8 978.6h1.9v1.9h-1.9zM130.3 958.4h2.0v2.0h-2.0zM149.9 1006.0h1.4v1.4h-1.4zM159.9 980.3h2.0v2.0h-2.0zM125.0 977.6h1.8v1.8h-1.8zM151.3 1005.9h1.5v1.5h-1.5zM127.4 963.8h1.7v1.7h-1.7zM140.6 950.6h1.7v1.7h-1.7zM160.2 987.8h1.3v1.3h-1.3zM154.7 958.1h1.4v1.4h-1.4zM155.4 1004.0h1.2v1.2h-1.2zM128.1 963.3h1.4v1.4h-1.4zM128.4 998.1h1.5v1.5h-1.5zM143.7 1007.8h1.9v1.9h-1.9zM143.8 1007.5h1.9v1.9h-1.9zM125.2 983.3h1.7v1.7h-1.7zM141.6 1007.3h1.6v1.6h-1.6zM160.6 986.9h2.0v2.0h-2.0zM140.6 1007.7h1.3v1.3h-1.3zM126.8 990.3h1.4v1.4h-1.4zM125.0 984.2h1.8v1.8h-1.8zM159.3 969.1h1.7v1.7h-1.7zM160.1 973.0h1.8v1.8h-1.8zM155.8 957.2h1.3v1.3h-1.3zM148.3 953.4h1.3v1.3h-1.3zM145.9 953.2h1.6v1.6h-1.6zM157.1 1001.1h1.4v1.4h-1.4zM157.2 960.9h1.3v1.3h-1.3zM143.7 951.8h1.9v1.9h-1.9zM134.8 1004.1h1.8v1.8h-1.8zM159.6 969.0h1.2v1.2h-1.2zM160.2 985.2h1.9v1.9h-1.9zM127.2 961.4h1.8v1.8h-1.8zM146.6 1008.8h1.9v1.9h-1.9zM156.3 1000.2h1.7v1.7h-1.7zM125.8 972.6h1.7v1.7h-1.7zM125.4 981.6h1.7v1.7h-1.7zM139.6 951.8h1.9v1.9h-1.9zM156.2 1000.6h1.3v1.3h-1.3zM160.9 972.7h1.7v1.7h-1.7zM161.6 980.1h1.5v1.5h-1.5zM145.6 953.2h1.4v1.4h-1.4zM160.7 993.1h1.4v1.4h-1.4zM127.4 966.6h1.9v1.9h-1.9zM124.2 979.3h1.6v1.6h-1.6zM137.3 952.3h1.9v1.9h-1.9zM125.7 976.5h1.3v1.3h-1.3zM159.5 968.5h1.3v1.3h-1.3zM131.4 1001.5h1.6v1.6h-1.6zM158.3 998.0h1.4v1.4h-1.4zM150.5 955.8h1.8v1.8h-1.8zM160.8 987.2h1.3v1.3h-1.3zM131.6 946.9h1.8v1.8h-1.8zM135.8 947.5h1.8v1.8h-1.8zM137.9 948.5h1.8v1.8h-1.8zM128.5 955.9h1.8v1.8h-1.8zM120.6 967.9h1.8v1.8h-1.8zM121.7 972.1h1.8v1.8h-1.8zM161.5 964.3h1.8v1.8h-1.8zM162.1 969.0h1.8v1.8h-1.8zM163.1 980.5h1.8v1.8h-1.8zM123.2 989.4h1.8v1.8h-1.8zM122.7 995.2h1.8v1.8h-1.8zM127.4 998.4h1.8v1.8h-1.8zM135.8 1012.0h1.8v1.8h-1.8zM133.7 1014.6h1.8v1.8h-1.8zM136.4 1016.7h1.8v1.8h-1.8zM139.0 1009.9h1.8v1.8h-1.8zM157.9 1004.7h1.8v1.8h-1.8z"/><path fill="#fff" d="M156.8 979.8h1.3v1.3h-1.3zM155.5 967.4h0.9v0.9h-0.9zM154.5 974.8h1.4v1.4h-1.4zM157.2 970.3h1.1v1.1h-1.1zM140.5 1004.5h1.1v1.1h-1.1zM128.8 984.7h1.2v1.2h-1.2zM133.6 992.9h1.1v1.1h-1.1zM153.9 998.6h0.9v0.9h-0.9zM149.4 1003.3h1.0v1.0h-1.0zM141.0 955.4h0.8v0.8h-0.8zM156.9 987.2l-4.4 10.2l0.9 0.3l4.3 -10.2zM141 1004h3.5v1h-3.5z"/>
<path d="M349.8 997.4L349.6 991.7L349.2 985.9L348.4 980.1L347.4 974.3L346.1 968.6L344.5 963L342.6 957.6L340.5 952.3L338.1 947.3L335.6 942.6L332.9 938.2L330 934.2L326.9 930.5L323.8 927.2L320.5 924.4L317.2 922L313.9 920.1L310.5 918.7L307.1 917.8L303.8 917.3L300.6 917.4L297.4 918L294.3 919.1L291.4 920.7L288.6 922.7L286 925.3L283.6 928.3L281.3 931.7L279.4 935.5L277.6 939.6L276.1 944.1L274.8 948.9L273.9 954L273.2 959.3L272.7 964.8L272.6 970.4L272.7 976.2L273.2 982L273.9 987.8L274.8 993.6L276.1 999.3L277.6 1004.9L279.4 1010.3L281.3 1015.6L283.6 1020.6L286 1025.3L288.6 1029.7L291.4 1033.7L294.3 1037.4L297.4 1040.7L300.6 1043.5L303.8 1045.9L307.1 1047.8L310.5 1049.2L313.9 1050.1L317.2 1050.6L320.5 1050.5L323.8 1049.9L326.9 1048.8L330 1047.2L332.9 1045.2L335.6 1042.6L338.1 1039.6L340.5 1036.2L342.6 1032.4L344.5 1028.3L346.1 1023.8L347.4 1019L348.4 1013.9L349.2 1008.6L349.6 1003.1Z" fill="#f5ede8"/>
<path d="M345.8 996.1L345.7 990.9L345.3 985.7L344.6 980.5L343.6 975.3L342.4 970.1L341 965.1L339.3 960.2L337.4 955.5L335.3 951L333.1 946.8L330.6 942.8L328 939.2L325.3 935.8L322.4 932.9L319.5 930.4L316.5 928.2L313.5 926.5L310.5 925.2L307.5 924.4L304.5 924L301.5 924.1L298.7 924.6L295.9 925.6L293.3 927L290.8 928.9L288.4 931.1L286.2 933.8L284.2 936.9L282.4 940.3L280.8 944.1L279.5 948.1L278.4 952.4L277.5 957L276.8 961.8L276.5 966.7L276.3 971.8L276.5 977L276.8 982.2L277.5 987.4L278.4 992.6L279.5 997.8L280.8 1002.8L282.4 1007.7L284.2 1012.4L286.2 1016.9L288.4 1021.1L290.8 1025.1L293.3 1028.7L295.9 1032.1L298.7 1035L301.5 1037.5L304.5 1039.7L307.5 1041.4L310.5 1042.7L313.5 1043.5L316.5 1043.9L319.5 1043.8L322.4 1043.3L325.3 1042.3L328 1040.9L330.6 1039L333.1 1036.8L335.3 1034.1L337.4 1031L339.3 1027.6L341 1023.8L342.4 1019.8L343.6 1015.5L344.6 1010.9L345.3 1006.1L345.7 1001.2Z" fill="#ebdbd0"/>
<path d="M341.8 994.7L341.7 990.2L341.3 985.5L340.7 980.9L339.9 976.2L338.9 971.7L337.6 967.2L336.1 962.8L334.4 958.7L332.6 954.7L330.5 950.9L328.4 947.4L326 944.1L323.6 941.2L321.1 938.6L318.5 936.3L315.9 934.4L313.2 932.9L310.5 931.7L307.8 931L305.2 930.7L302.5 930.7L300 931.2L297.5 932.1L295.2 933.3L292.9 935L290.8 937L288.9 939.4L287.1 942.1L285.5 945.2L284.1 948.5L282.9 952.1L281.9 955.9L281.1 960L280.5 964.2L280.2 968.6L280.1 973.1L280.2 977.7L280.5 982.4L281.1 987L281.9 991.7L282.9 996.2L284.1 1000.7L285.5 1005.1L287.1 1009.2L288.9 1013.2L290.8 1017L292.9 1020.5L295.2 1023.8L297.5 1026.7L300 1029.3L302.5 1031.6L305.2 1033.5L307.8 1035L310.5 1036.2L313.2 1036.9L315.9 1037.2L318.5 1037.2L321.1 1036.7L323.6 1035.8L326 1034.6L328.4 1032.9L330.5 1030.9L332.6 1028.5L334.4 1025.8L336.1 1022.7L337.6 1019.4L338.9 1015.8L339.9 1012L340.7 1007.9L341.3 1003.7L341.7 999.3Z" fill="#e0c9b8"/>
<path d="M337.9 993.4L337.8 989.4L337.4 985.3L336.9 981.3L336.2 977.2L335.3 973.2L334.2 969.3L332.9 965.5L331.4 961.8L329.8 958.3L328 955L326.1 951.9L324.1 949.1L322 946.5L319.8 944.2L317.5 942.3L315.2 940.6L312.9 939.3L310.5 938.3L308.1 937.6L305.8 937.3L303.5 937.4L301.3 937.8L299.1 938.5L297.1 939.7L295.1 941.1L293.3 942.9L291.6 945L290 947.3L288.6 950L287.4 952.9L286.3 956.1L285.4 959.4L284.7 963L284.2 966.7L283.9 970.6L283.8 974.5L283.9 978.5L284.2 982.6L284.7 986.6L285.4 990.7L286.3 994.7L287.4 998.6L288.6 1002.4L290 1006.1L291.6 1009.6L293.3 1012.9L295.1 1016L297.1 1018.8L299.1 1021.4L301.3 1023.7L303.5 1025.6L305.8 1027.3L308.1 1028.6L310.5 1029.6L312.9 1030.3L315.2 1030.6L317.5 1030.5L319.8 1030.1L322 1029.4L324.1 1028.2L326.1 1026.8L328 1025L329.8 1022.9L331.4 1020.6L332.9 1017.9L334.2 1015L335.3 1011.8L336.2 1008.5L336.9 1004.9L337.4 1001.2L337.8 997.3Z" fill="#d6b7a1"/>
<path d="M333.9 992L333.8 988.6L333.5 985.1L333.1 981.6L332.5 978.2L331.7 974.7L330.7 971.4L329.6 968.1L328.4 965L327 962L325.5 959.2L323.9 956.5L322.1 954.1L320.3 951.9L318.4 949.9L316.5 948.2L314.5 946.8L312.5 945.6L310.5 944.8L308.5 944.2L306.5 944L304.5 944L302.6 944.4L300.8 945L299 946L297.3 947.2L295.7 948.7L294.3 950.5L292.9 952.6L291.7 954.9L290.6 957.4L289.7 960.1L289 962.9L288.4 966L287.9 969.2L287.7 972.5L287.6 975.8L287.7 979.3L287.9 982.8L288.4 986.3L289 989.7L289.7 993.2L290.6 996.5L291.7 999.8L292.9 1002.9L294.3 1005.9L295.7 1008.7L297.3 1011.4L299 1013.8L300.8 1016L302.6 1018L304.5 1019.7L306.5 1021.1L308.5 1022.3L310.5 1023.1L312.5 1023.7L314.5 1023.9L316.5 1023.9L318.4 1023.5L320.3 1022.9L322.1 1021.9L323.9 1020.7L325.5 1019.2L327 1017.4L328.4 1015.3L329.6 1013L330.7 1010.5L331.7 1007.8L332.5 1005L333.1 1001.9L333.5 998.7L333.8 995.4Z" fill="#cca68a"/>
<path d="M330 990.7L329.9 987.8L329.7 984.9L329.3 982L328.8 979.1L328.1 976.3L327.3 973.5L326.4 970.8L325.4 968.1L324.2 965.6L323 963.3L321.6 961.1L320.2 959.1L318.7 957.2L317.1 955.6L315.5 954.2L313.9 953L312.2 952L310.5 951.3L308.8 950.9L307.2 950.6L305.5 950.7L303.9 951L302.4 951.5L300.9 952.3L299.5 953.3L298.2 954.6L296.9 956.1L295.8 957.8L294.8 959.7L293.9 961.8L293.2 964L292.5 966.4L292 969L291.7 971.6L291.5 974.4L291.4 977.2L291.5 980.1L291.7 983L292 985.9L292.5 988.8L293.2 991.6L293.9 994.4L294.8 997.1L295.8 999.8L296.9 1002.3L298.2 1004.6L299.5 1006.8L300.9 1008.8L302.4 1010.7L303.9 1012.3L305.5 1013.7L307.2 1014.9L308.8 1015.9L310.5 1016.6L312.2 1017L313.9 1017.3L315.5 1017.2L317.1 1016.9L318.7 1016.4L320.2 1015.6L321.6 1014.6L323 1013.3L324.2 1011.8L325.4 1010.1L326.4 1008.2L327.3 1006.1L328.1 1003.9L328.8 1001.5L329.3 998.9L329.7 996.3L329.9 993.5Z" fill="#c29472"/>
<path d="M326 989.3L326 987.1L325.8 984.7L325.5 982.4L325.1 980.1L324.6 977.8L324 975.6L323.2 973.4L322.4 971.3L321.5 969.3L320.5 967.4L319.4 965.7L318.2 964L317 962.6L315.8 961.3L314.5 960.1L313.2 959.2L311.8 958.4L310.5 957.8L309.2 957.5L307.8 957.3L306.5 957.3L305.2 957.6L304 958L302.8 958.6L301.7 959.5L300.6 960.5L299.6 961.7L298.7 963L297.9 964.6L297.2 966.2L296.6 968L296.1 969.9L295.7 972L295.4 974.1L295.2 976.3L295.2 978.5L295.2 980.8L295.4 983.2L295.7 985.5L296.1 987.8L296.6 990.1L297.2 992.3L297.9 994.5L298.7 996.6L299.6 998.6L300.6 1000.5L301.7 1002.2L302.8 1003.9L304 1005.3L305.2 1006.6L306.5 1007.8L307.8 1008.7L309.2 1009.5L310.5 1010.1L311.8 1010.4L313.2 1010.6L314.5 1010.6L315.8 1010.3L317 1009.9L318.2 1009.3L319.4 1008.4L320.5 1007.4L321.5 1006.2L322.4 1004.9L323.2 1003.3L324 1001.7L324.6 999.9L325.1 998L325.5 995.9L325.8 993.8L326 991.6Z" fill="#b8825a"/>
<path d="M322.1 988L322.1 986.3L322 984.5L321.7 982.8L321.4 981.1L321 979.3L320.6 977.7L320 976L319.4 974.5L318.7 973L318 971.6L317.2 970.2L316.3 969L315.4 967.9L314.5 966.9L313.5 966.1L312.5 965.4L311.5 964.8L310.5 964.4L309.5 964.1L308.5 964L307.5 964L306.5 964.2L305.6 964.5L304.7 965L303.9 965.6L303.1 966.3L302.3 967.2L301.7 968.3L301.1 969.4L300.5 970.7L300.1 972L299.7 973.4L299.4 975L299.2 976.6L299 978.2L299 979.9L299 981.6L299.2 983.4L299.4 985.1L299.7 986.8L300.1 988.6L300.5 990.2L301.1 991.9L301.7 993.4L302.3 994.9L303.1 996.3L303.9 997.7L304.7 998.9L305.6 1000L306.5 1001L307.5 1001.8L308.5 1002.5L309.5 1003.1L310.5 1003.5L311.5 1003.8L312.5 1003.9L313.5 1003.9L314.5 1003.7L315.4 1003.4L316.3 1002.9L317.2 1002.3L318 1001.6L318.7 1000.7L319.4 999.6L320 998.5L320.6 997.2L321 995.9L321.4 994.5L321.7 992.9L322 991.3L322.1 989.7Z" fill="#ad7043"/>
<path d="M318.2 986.6L318.1 984.3L317.8 982L317.2 979.8L316.4 977.6L315.5 975.7L314.4 974L313.1 972.6L311.8 971.6L310.5 970.9L309.2 970.6L307.9 970.8L306.6 971.3L305.6 972.2L304.6 973.5L303.8 975.1L303.3 976.9L302.9 979L302.8 981.2L302.9 983.6L303.3 985.9L303.8 988.1L304.6 990.3L305.6 992.2L306.6 993.9L307.9 995.3L309.2 996.3L310.5 997L311.8 997.3L313.1 997.1L314.4 996.6L315.5 995.7L316.4 994.4L317.2 992.8L317.8 991L318.1 988.9Z" fill="#a35e2c"/>
<path d="M314.4 985.3L314.3 984.1L314.1 983L313.8 981.9L313.5 980.8L313 979.8L312.4 979L311.8 978.3L311.2 977.8L310.5 977.4L309.8 977.3L309.2 977.4L308.6 977.6L308 978.1L307.5 978.7L307.2 979.5L306.9 980.4L306.7 981.5L306.6 982.6L306.7 983.8L306.9 984.9L307.2 986L307.5 987.1L308 988.1L308.6 988.9L309.2 989.6L309.8 990.1L310.5 990.5L311.2 990.6L311.8 990.5L312.4 990.3L313 989.8L313.5 989.2L313.8 988.4L314.1 987.5L314.3 986.4Z" fill="#994c14"/>
<path d="M349.8 997.4L349.6 991.7L349.2 985.9L348.4 980.1L347.4 974.3L346.1 968.6L344.5 963L342.6 957.6L340.5 952.3L338.1 947.3L335.6 942.6L332.9 938.2L330 934.2L326.9 930.5L323.8 927.2L320.5 924.4L317.2 922L313.9 920.1L310.5 918.7L307.1 917.8L303.8 917.3L300.6 917.4L297.4 918L294.3 919.1L291.4 920.7L288.6 922.7L286 925.3L283.6 928.3L281.3 931.7L279.4 935.5L277.6 939.6L276.1 944.1L274.8 948.9L273.9 954L273.2 959.3L272.7 964.8L272.6 970.4L272.7 976.2L273.2 982L273.9 987.8L274.8 993.6L276.1 999.3L277.6 1004.9L279.4 1010.3L281.3 1015.6L283.6 1020.6L286 1025.3L288.6 1029.7L291.4 1033.7L294.3 1037.4L297.4 1040.7L300.6 1043.5L303.8 1045.9L307.1 1047.8L310.5 1049.2L313.9 1050.1L317.2 1050.6L320.5 1050.5L323.8 1049.9L326.9 1048.8L330 1047.2L332.9 1045.2L335.6 1042.6L338.1 1039.6L340.5 1036.2L342.6 1032.4L344.5 1028.3L346.1 1023.8L347.4 1019L348.4 1013.9L349.2 1008.6L349.6 1003.1Z" fill="none" stroke="#9b4f17" stroke-width="1.4"/>
<path d="M330 990.7L329.9 987.8L329.7 984.9L329.3 982L328.8 979.1L328.1 976.3L327.3 973.5L326.4 970.8L325.4 968.1L324.2 965.6L323 963.3L321.6 961.1L320.2 959.1L318.7 957.2L317.1 955.6L315.5 954.2L313.9 953L312.2 952L310.5 951.3L308.8 950.9L307.2 950.6L305.5 950.7L303.9 951L302.4 951.5L300.9 952.3L299.5 953.3L298.2 954.6L296.9 956.1L295.8 957.8L294.8 959.7L293.9 961.8L293.2 964L292.5 966.4L292 969L291.7 971.6L291.5 974.4L291.4 977.2L291.5 980.1L291.7 983L292 985.9L292.5 988.8L293.2 991.6L293.9 994.4L294.8 997.1L295.8 999.8L296.9 1002.3L298.2 1004.6L299.5 1006.8L300.9 1008.8L302.4 1010.7L303.9 1012.3L305.5 1013.7L307.2 1014.9L308.8 1015.9L310.5 1016.6L312.2 1017L313.9 1017.3L315.5 1017.2L317.1 1016.9L318.7 1016.4L320.2 1015.6L321.6 1014.6L323 1013.3L324.2 1011.8L325.4 1010.1L326.4 1008.2L327.3 1006.1L328.1 1003.9L328.8 1001.5L329.3 998.9L329.7 996.3L329.9 993.5Z" fill="none" stroke="#9b4f17" stroke-width="3.5"/>
<circle cx="327.1" cy="1029.5" r="7.4" fill="#ff0000"/>
<circle cx="284.8" cy="975.4" r="7.4" fill="#ff8c0a"/>
<circle cx="313" cy="958.6" r="7.4" fill="#00ff00"/>
<circle cx="313" cy="998.9" r="7.4" fill="#0064ff"/>
<circle cx="341.2" cy="1060.7" r="7.4" fill="#66c8ff"/>
<circle cx="298.9" cy="1022.1" r="7.4" fill="#8a1fff"/>
<circle cx="313" cy="1020.1" r="7.4" fill="#ff00ff"/>
<circle cx="313" cy="1020.1" r="7.4" fill="#cc99ff"/>
<circle cx="298.9" cy="973.7" r="7.4" fill="#c46a28"/>
<circle cx="298.9" cy="981.1" r="7.4" fill="#aaaaaa"/>
<circle cx="341.2" cy="1000.6" r="7.4" fill="#000000"/>
<path d="M263 974.8L278.4 974.8L270.7 959.6Z" fill="#ff0000"/>
<path d="M291.2 994.3L306.6 994.3L298.9 979.1Z" fill="#00ff00"/>
<path d="M291.2 951.3L306.6 951.3L298.9 936.1Z" fill="#0064ff"/>
<path d="M277.1 968.7L292.5 968.7L284.8 953.5Z" fill="#66c8ff"/>
<path d="M291.2 964.7L306.6 964.7L298.9 949.5Z" fill="#8a1fff"/>
<path d="M305.3 995.6L320.7 995.6L313 980.4Z" fill="#ff00ff"/>
<path d="M333.5 931.1L348.9 931.1L341.2 915.9Z" fill="#ff8c0a"/>
<path d="M319.4 940.2L334.8 940.2L327.1 925Z" fill="#cc99ff"/>
<path d="M319.4 993.2L334.8 993.2L327.1 978Z" fill="#c46a28"/>
<path d="M319.4 983.2L334.8 983.2L327.1 968Z" fill="#000000"/>
<path d="M555.6 1015.1L555.3 1004.2L554.4 993.1L552.9 982L550.8 970.8L548.1 959.8L544.9 948.9L541.2 938.3L537 928.1L532.3 918.3L527.2 909L521.7 900.2L515.9 892.1L509.8 884.7L503.5 878.1L497 872.3L490.3 867.3L483.5 863.2L476.7 860L469.9 857.8L463.2 856.5L456.6 856.2L450.1 856.9L443.9 858.5L437.9 861.1L432.2 864.7L426.9 869.1L421.9 874.5L417.4 880.6L413.3 887.6L409.7 895.2L406.7 903.6L404.1 912.6L402.1 922.1L400.7 932.1L399.8 942.4L399.5 953.1L399.8 964.1L400.7 975.2L402.1 986.3L404.1 997.5L406.7 1008.5L409.7 1019.4L413.3 1030L417.4 1040.2L421.9 1050L426.9 1059.3L432.2 1068.1L437.9 1076.2L443.9 1083.6L450.1 1090.2L456.6 1096L463.2 1101L469.9 1105.1L476.7 1108.3L483.5 1110.5L490.3 1111.8L497 1112.1L503.5 1111.4L509.8 1109.8L515.9 1107.2L521.7 1103.6L527.2 1099.2L532.3 1093.8L537 1087.7L541.2 1080.7L544.9 1073.1L548.1 1064.7L550.8 1055.7L552.9 1046.2L554.4 1036.2L555.3 1025.9Z" fill="#f5ede8"/>
<path d="M547.6 1012L547.4 1002.2L546.5 992.2L545.2 982.2L543.3 972.2L540.9 962.2L538 952.5L534.7 942.9L530.9 933.7L526.7 924.9L522.1 916.5L517.2 908.6L512 901.3L506.5 894.7L500.8 888.7L494.9 883.5L488.9 879L482.8 875.3L476.7 872.4L470.6 870.4L464.5 869.3L458.6 869L452.8 869.6L447.1 871.1L441.8 873.4L436.6 876.6L431.8 880.6L427.4 885.4L423.3 891L419.6 897.2L416.4 904.1L413.6 911.6L411.3 919.7L409.5 928.3L408.2 937.3L407.4 946.6L407.1 956.2L407.4 966.1L408.2 976.1L409.5 986.1L411.3 996.1L413.6 1006.1L416.4 1015.8L419.6 1025.4L423.3 1034.6L427.4 1043.4L431.8 1051.8L436.6 1059.7L441.8 1067L447.1 1073.6L452.8 1079.6L458.6 1084.8L464.5 1089.3L470.6 1093L476.7 1095.9L482.8 1097.9L488.9 1099L494.9 1099.3L500.8 1098.7L506.5 1097.2L512 1094.9L517.2 1091.7L522.1 1087.7L526.7 1082.9L530.9 1077.3L534.7 1071.1L538 1064.2L540.9 1056.7L543.3 1048.6L545.2 1040L546.5 1031L547.4 1021.7Z" fill="#ebdbd0"/>
<path d="M539.7 1008.9L539.4 1000.2L538.7 991.3L537.5 982.4L535.9 973.5L533.7 964.7L531.2 956L528.2 947.5L524.8 939.3L521.1 931.5L517.1 924L512.7 917L508.1 910.5L503.2 904.6L498.1 899.3L492.9 894.6L487.6 890.7L482.1 887.4L476.7 884.8L471.3 883.1L465.9 882L460.6 881.8L455.4 882.3L450.4 883.7L445.6 885.7L441.1 888.6L436.8 892.1L432.8 896.4L429.2 901.3L425.9 906.9L423 913L420.6 919.7L418.5 926.9L416.9 934.5L415.7 942.5L415 950.8L414.8 959.3L415 968.1L415.7 977L416.9 985.9L418.5 994.8L420.6 1003.6L423 1012.3L425.9 1020.8L429.2 1029L432.8 1036.8L436.8 1044.3L441.1 1051.3L445.6 1057.8L450.4 1063.7L455.4 1069L460.6 1073.7L465.9 1077.6L471.3 1080.9L476.7 1083.5L482.1 1085.2L487.6 1086.3L492.9 1086.5L498.1 1086L503.2 1084.6L508.1 1082.6L512.7 1079.7L517.1 1076.2L521.1 1071.9L524.8 1067L528.2 1061.4L531.2 1055.3L533.7 1048.6L535.9 1041.4L537.5 1033.8L538.7 1025.8L539.4 1017.5Z" fill="#e0c9b8"/>
<path d="M531.7 1005.9L531.5 998.2L530.9 990.4L529.9 982.6L528.4 974.8L526.6 967.1L524.3 959.5L521.7 952.1L518.8 944.9L515.5 938L512 931.5L508.2 925.4L504.1 919.7L499.9 914.6L495.4 909.9L490.9 905.8L486.2 902.3L481.5 899.5L476.7 897.3L471.9 895.7L467.2 894.8L462.6 894.6L458.1 895.1L453.7 896.2L449.5 898L445.5 900.5L441.8 903.6L438.3 907.4L435.1 911.7L432.2 916.5L429.7 921.9L427.5 927.8L425.7 934L424.3 940.7L423.3 947.7L422.7 955L422.5 962.4L422.7 970.1L423.3 977.9L424.3 985.7L425.7 993.5L427.5 1001.2L429.7 1008.8L432.2 1016.2L435.1 1023.4L438.3 1030.3L441.8 1036.8L445.5 1042.9L449.5 1048.6L453.7 1053.7L458.1 1058.4L462.6 1062.5L467.2 1066L471.9 1068.8L476.7 1071L481.5 1072.6L486.2 1073.5L490.9 1073.7L495.4 1073.2L499.9 1072.1L504.1 1070.3L508.2 1067.8L512 1064.7L515.5 1060.9L518.8 1056.6L521.7 1051.8L524.3 1046.4L526.6 1040.5L528.4 1034.3L529.9 1027.6L530.9 1020.6L531.5 1013.3Z" fill="#d6b7a1"/>
<path d="M523.8 1002.8L523.7 996.2L523.1 989.5L522.2 982.8L521 976.2L519.4 969.5L517.5 963L515.3 956.7L512.8 950.5L510 944.6L506.9 939L503.7 933.8L500.2 928.9L496.5 924.5L492.8 920.5L488.8 917L484.8 914L480.8 911.6L476.7 909.7L472.6 908.3L468.6 907.6L464.6 907.4L460.7 907.8L457 908.8L453.4 910.3L449.9 912.5L446.7 915.1L443.7 918.3L441 922L438.5 926.2L436.4 930.8L434.5 935.8L433 941.2L431.8 946.9L430.9 952.9L430.4 959.1L430.2 965.5L430.4 972.1L430.9 978.8L431.8 985.5L433 992.1L434.5 998.8L436.4 1005.3L438.5 1011.6L441 1017.8L443.7 1023.7L446.7 1029.3L449.9 1034.5L453.4 1039.4L457 1043.8L460.7 1047.8L464.6 1051.3L468.6 1054.3L472.6 1056.7L476.7 1058.6L480.8 1060L484.8 1060.7L488.8 1060.9L492.8 1060.5L496.5 1059.5L500.2 1058L503.7 1055.8L506.9 1053.2L510 1050L512.8 1046.3L515.3 1042.1L517.5 1037.5L519.4 1032.5L521 1027.1L522.2 1021.4L523.1 1015.4L523.7 1009.2Z" fill="#cca68a"/>
<path d="M515.9 999.6L515.8 994.2L515.3 988.6L514.6 983.1L513.6 977.5L512.2 972L510.7 966.5L508.8 961.2L506.7 956.1L504.4 951.2L501.9 946.6L499.2 942.2L496.3 938.1L493.2 934.4L490.1 931.1L486.8 928.2L483.5 925.7L480.1 923.7L476.7 922.1L473.3 921L469.9 920.3L466.6 920.2L463.4 920.5L460.2 921.3L457.2 922.6L454.4 924.4L451.7 926.6L449.2 929.3L446.9 932.4L444.9 935.9L443.1 939.7L441.5 943.9L440.2 948.4L439.2 953.1L438.5 958.1L438 963.3L437.9 968.6L438 974.1L438.5 979.7L439.2 985.2L440.2 990.8L441.5 996.3L443.1 1001.8L444.9 1007.1L446.9 1012.2L449.2 1017.1L451.7 1021.7L454.4 1026.1L457.2 1030.2L460.2 1033.9L463.4 1037.2L466.6 1040.1L469.9 1042.6L473.3 1044.6L476.7 1046.2L480.1 1047.3L483.5 1048L486.8 1048.1L490.1 1047.8L493.2 1047L496.3 1045.7L499.2 1043.9L501.9 1041.7L504.4 1039L506.7 1035.9L508.8 1032.4L510.7 1028.6L512.2 1024.4L513.6 1019.9L514.6 1015.2L515.3 1010.2L515.8 1005Z" fill="#c29472"/>
<path d="M508.1 996.5L507.9 992.2L507.6 987.7L507 983.3L506.2 978.8L505.1 974.4L503.8 970.1L502.4 965.8L500.7 961.7L498.8 957.8L496.8 954.1L494.7 950.6L492.3 947.3L489.9 944.4L487.4 941.7L484.8 939.4L482.1 937.4L479.4 935.8L476.7 934.5L474 933.6L471.3 933.1L468.6 933L466 933.2L463.5 933.9L461.1 934.9L458.8 936.4L456.7 938.1L454.7 940.3L452.9 942.7L451.2 945.5L449.8 948.6L448.5 951.9L447.5 955.5L446.7 959.3L446.1 963.3L445.7 967.5L445.6 971.8L445.7 976.1L446.1 980.6L446.7 985L447.5 989.5L448.5 993.9L449.8 998.2L451.2 1002.5L452.9 1006.6L454.7 1010.5L456.7 1014.2L458.8 1017.7L461.1 1021L463.5 1023.9L466 1026.6L468.6 1028.9L471.3 1030.9L474 1032.5L476.7 1033.8L479.4 1034.7L482.1 1035.2L484.8 1035.3L487.4 1035.1L489.9 1034.4L492.3 1033.4L494.7 1031.9L496.8 1030.2L498.8 1028L500.7 1025.6L502.4 1022.8L503.8 1019.7L505.1 1016.4L506.2 1012.8L507 1009L507.6 1005L507.9 1000.8Z" fill="#b8825a"/>
<path d="M500.2 993.4L500.1 990.2L499.8 986.8L499.4 983.5L498.8 980.2L498 976.8L497 973.6L495.9 970.4L494.7 967.3L493.3 964.4L491.8 961.6L490.2 959L488.4 956.5L486.6 954.3L484.7 952.3L482.8 950.6L480.8 949.1L478.7 947.9L476.7 946.9L474.7 946.2L472.6 945.9L470.6 945.8L468.7 946L466.8 946.5L465 947.2L463.3 948.3L461.7 949.6L460.2 951.2L458.8 953.1L457.6 955.2L456.5 957.5L455.5 960L454.8 962.7L454.2 965.5L453.7 968.5L453.5 971.6L453.4 974.9L453.5 978.1L453.7 981.5L454.2 984.8L454.8 988.1L455.5 991.5L456.5 994.7L457.6 997.9L458.8 1001L460.2 1003.9L461.7 1006.7L463.3 1009.3L465 1011.8L466.8 1014L468.7 1016L470.6 1017.7L472.6 1019.2L474.7 1020.4L476.7 1021.4L478.7 1022.1L480.8 1022.4L482.8 1022.5L484.7 1022.3L486.6 1021.8L488.4 1021.1L490.2 1020L491.8 1018.7L493.3 1017.1L494.7 1015.2L495.9 1013.1L497 1010.8L498 1008.3L498.8 1005.6L499.4 1002.8L499.8 999.8L500.1 996.7Z" fill="#ad7043"/>
<path d="M492.3 990.4L492.1 985.9L491.4 981.5L490.2 977.1L488.7 972.9L486.7 969.1L484.5 965.7L482 962.9L479.4 960.8L476.7 959.3L474 958.6L471.4 958.7L468.9 959.5L466.7 961.1L464.8 963.4L463.2 966.4L462.1 969.8L461.4 973.7L461.1 977.9L461.4 982.4L462.1 986.8L463.2 991.2L464.8 995.4L466.7 999.2L468.9 1002.6L471.4 1005.4L474 1007.5L476.7 1009L479.4 1009.7L482 1009.6L484.5 1008.8L486.7 1007.2L488.7 1004.9L490.2 1001.9L491.4 998.5L492.1 994.6Z" fill="#a35e2c"/>
<path d="M484.5 987.2L484.4 985L484 982.8L483.5 980.6L482.7 978.5L481.7 976.6L480.6 974.9L479.4 973.5L478.1 972.5L476.7 971.7L475.3 971.4L474 971.4L472.8 971.8L471.7 972.6L470.7 973.8L469.9 975.3L469.4 977L469 978.9L468.9 981L469 983.3L469.4 985.5L469.9 987.7L470.7 989.8L471.7 991.7L472.8 993.4L474 994.8L475.3 995.8L476.7 996.6L478.1 996.9L479.4 996.9L480.6 996.5L481.7 995.7L482.7 994.5L483.5 993L484 991.3L484.4 989.4Z" fill="#994c14"/>
<path d="M555.6 1015.1L555.3 1004.2L554.4 993.1L552.9 982L550.8 970.8L548.1 959.8L544.9 948.9L541.2 938.3L537 928.1L532.3 918.3L527.2 909L521.7 900.2L515.9 892.1L509.8 884.7L503.5 878.1L497 872.3L490.3 867.3L483.5 863.2L476.7 860L469.9 857.8L463.2 856.5L456.6 856.2L450.1 856.9L443.9 858.5L437.9 861.1L432.2 864.7L426.9 869.1L421.9 874.5L417.4 880.6L413.3 887.6L409.7 895.2L406.7 903.6L404.1 912.6L402.1 922.1L400.7 932.1L399.8 942.4L399.5 953.1L399.8 964.1L400.7 975.2L402.1 986.3L404.1 997.5L406.7 1008.5L409.7 1019.4L413.3 1030L417.4 1040.2L421.9 1050L426.9 1059.3L432.2 1068.1L437.9 1076.2L443.9 1083.6L450.1 1090.2L456.6 1096L463.2 1101L469.9 1105.1L476.7 1108.3L483.5 1110.5L490.3 1111.8L497 1112.1L503.5 1111.4L509.8 1109.8L515.9 1107.2L521.7 1103.6L527.2 1099.2L532.3 1093.8L537 1087.7L541.2 1080.7L544.9 1073.1L548.1 1064.7L550.8 1055.7L552.9 1046.2L554.4 1036.2L555.3 1025.9Z" fill="none" stroke="#9b4f17" stroke-width="1.4"/>
<path d="M515.9 999.6L515.8 994.2L515.3 988.6L514.6 983.1L513.6 977.5L512.2 972L510.7 966.5L508.8 961.2L506.7 956.1L504.4 951.2L501.9 946.6L499.2 942.2L496.3 938.1L493.2 934.4L490.1 931.1L486.8 928.2L483.5 925.7L480.1 923.7L476.7 922.1L473.3 921L469.9 920.3L466.6 920.2L463.4 920.5L460.2 921.3L457.2 922.6L454.4 924.4L451.7 926.6L449.2 929.3L446.9 932.4L444.9 935.9L443.1 939.7L441.5 943.9L440.2 948.4L439.2 953.1L438.5 958.1L438 963.3L437.9 968.6L438 974.1L438.5 979.7L439.2 985.2L440.2 990.8L441.5 996.3L443.1 1001.8L444.9 1007.1L446.9 1012.2L449.2 1017.1L451.7 1021.7L454.4 1026.1L457.2 1030.2L460.2 1033.9L463.4 1037.2L466.6 1040.1L469.9 1042.6L473.3 1044.6L476.7 1046.2L480.1 1047.3L483.5 1048L486.8 1048.1L490.1 1047.8L493.2 1047L496.3 1045.7L499.2 1043.9L501.9 1041.7L504.4 1039L506.7 1035.9L508.8 1032.4L510.7 1028.6L512.2 1024.4L513.6 1019.9L514.6 1015.2L515.3 1010.2L515.8 1005Z" fill="none" stroke="#9b4f17" stroke-width="3.5"/>
<circle cx="524.3" cy="1071.1" r="7.4" fill="#ff0000"/>
<circle cx="425.7" cy="968.7" r="7.4" fill="#ff8c0a"/>
<circle cx="468" cy="934.8" r="7.4" fill="#00ff00"/>
<circle cx="496.1" cy="1015" r="7.4" fill="#0064ff"/>
<circle cx="524.3" cy="1127.5" r="7.4" fill="#66c8ff"/>
<circle cx="453.9" cy="1058.7" r="7.4" fill="#8a1fff"/>
<circle cx="482.1" cy="1055.3" r="7.4" fill="#ff00ff"/>
<circle cx="468" cy="1054" r="7.4" fill="#cc99ff"/>
<circle cx="453.9" cy="969.4" r="7.4" fill="#c46a28"/>
<circle cx="453.9" cy="982.1" r="7.4" fill="#aaaaaa"/>
<circle cx="552.5" cy="1018" r="7.4" fill="#000000"/>
<path d="M389.8 960.3L405.2 960.3L397.5 945.1Z" fill="#ff0000"/>
<path d="M446.2 999.3L461.6 999.3L453.9 984.1Z" fill="#00ff00"/>
<path d="M432.1 911.6L447.5 911.6L439.8 896.4Z" fill="#0064ff"/>
<path d="M432.1 946.6L447.5 946.6L439.8 931.4Z" fill="#66c8ff"/>
<path d="M446.2 939.2L461.6 939.2L453.9 924Z" fill="#8a1fff"/>
<path d="M474.4 1001.6L489.8 1001.6L482.1 986.4Z" fill="#ff00ff"/>
<path d="M530.7 873.4L546.1 873.4L538.4 858.2Z" fill="#ff8c0a"/>
<path d="M488.4 890.2L503.8 890.2L496.1 875Z" fill="#cc99ff"/>
<path d="M516.6 994.9L532 994.9L524.3 979.7Z" fill="#c46a28"/>
<path d="M502.5 975.8L517.9 975.8L510.2 960.6Z" fill="#000000"/>
<path d="M756.7 1031.3L756.2 1015.6L754.8 999.6L752.4 983.4L749.1 967.3L745 951.2L740 935.5L734.3 920L727.8 905.1L720.7 890.8L713.1 877.1L704.9 864.3L696.3 852.4L687.4 841.5L678.3 831.6L669 822.9L659.6 815.5L650.2 809.3L640.9 804.4L631.7 800.9L622.7 798.8L614 798.1L605.6 798.8L597.6 800.9L590 804.4L582.8 809.3L576.2 815.4L570.1 822.9L564.6 831.6L559.7 841.4L555.3 852.3L551.7 864.2L548.6 877L546.3 890.7L544.6 905L543.5 919.9L543.2 935.3L543.5 951.1L544.6 967.1L546.3 983.3L548.6 999.4L551.7 1015.5L555.3 1031.2L559.7 1046.7L564.6 1061.6L570.1 1075.9L576.2 1089.6L582.8 1102.4L590 1114.3L597.6 1125.2L605.6 1135.1L614 1143.8L622.7 1151.2L631.7 1157.4L640.9 1162.3L650.2 1165.8L659.6 1167.9L669 1168.6L678.3 1167.9L687.4 1165.8L696.3 1162.3L704.9 1157.4L713.1 1151.3L720.7 1143.8L727.8 1135.1L734.3 1125.3L740 1114.4L745 1102.5L749.1 1089.7L752.4 1076L754.8 1061.7L756.2 1046.8Z" fill="#f5ede8"/>
<path d="M744.2 1026.5L743.8 1012.4L742.5 997.9L740.4 983.4L737.5 968.9L733.8 954.4L729.4 940.2L724.3 926.4L718.6 912.9L712.3 900L705.5 887.8L698.2 876.2L690.6 865.5L682.6 855.7L674.5 846.8L666.1 839L657.7 832.3L649.3 826.7L640.9 822.3L632.6 819.2L624.5 817.3L616.6 816.6L609 817.3L601.8 819.1L594.9 822.3L588.4 826.7L582.4 832.2L576.8 838.9L571.8 846.7L567.3 855.6L563.3 865.4L560 876.1L557.2 887.7L555 899.9L553.5 912.8L552.6 926.3L552.2 940.1L552.6 954.3L553.5 968.8L555 983.3L557.2 997.8L560 1012.3L563.3 1026.5L567.3 1040.3L571.8 1053.8L576.8 1066.7L582.4 1078.9L588.4 1090.5L594.9 1101.2L601.8 1111L609 1119.9L616.6 1127.7L624.5 1134.4L632.6 1140L640.9 1144.4L649.3 1147.5L657.7 1149.4L666.1 1150.1L674.5 1149.4L682.6 1147.6L690.6 1144.4L698.2 1140L705.5 1134.5L712.3 1127.8L718.6 1120L724.3 1111.1L729.4 1101.3L733.8 1090.6L737.5 1079L740.4 1066.8L742.5 1053.9L743.8 1040.4Z" fill="#ebdbd0"/>
<path d="M731.9 1021.7L731.6 1009.1L730.5 996.3L728.6 983.4L726.1 970.5L722.9 957.7L719 945L714.5 932.7L709.5 920.8L704 909.3L698 898.4L691.6 888.1L684.9 878.6L677.9 869.9L670.7 862L663.3 855L655.8 849.1L648.4 844.1L640.9 840.2L633.5 837.4L626.3 835.7L619.3 835.2L612.5 835.7L606 837.4L599.8 840.2L594 844.1L588.6 849L583.6 855L579.1 861.9L575 869.8L571.5 878.5L568.4 888.1L565.9 898.3L564 909.2L562.6 920.7L561.7 932.6L561.4 944.9L561.7 957.6L562.6 970.4L564 983.3L565.9 996.2L568.4 1009L571.5 1021.7L575 1034L579.1 1045.9L583.6 1057.4L588.6 1068.3L594 1078.6L599.8 1088.1L606 1096.8L612.5 1104.7L619.3 1111.7L626.3 1117.6L633.5 1122.6L640.9 1126.5L648.4 1129.3L655.8 1131L663.3 1131.5L670.7 1131L677.9 1129.3L684.9 1126.5L691.6 1122.6L698 1117.7L704 1111.7L709.5 1104.8L714.5 1096.9L719 1088.2L722.9 1078.6L726.1 1068.4L728.6 1057.5L730.5 1046L731.6 1034.1Z" fill="#e0c9b8"/>
<path d="M719.9 1016.9L719.6 1005.9L718.6 994.7L717 983.4L714.8 972.1L712.1 960.9L708.7 949.8L704.9 939L700.5 928.6L695.8 918.5L690.6 909L685 900L679.2 891.7L673.1 884L666.9 877.1L660.4 871.1L653.9 865.8L647.4 861.5L640.9 858.1L634.5 855.7L628.1 854.2L621.9 853.7L616 854.2L610.2 855.6L604.8 858.1L599.7 861.5L594.9 865.8L590.5 871L586.5 877.1L582.9 884L579.7 891.6L577 900L574.8 908.9L573 918.5L571.8 928.5L571 939L570.8 949.7L571 960.8L571.8 972L573 983.3L574.8 994.6L577 1005.8L579.7 1016.9L582.9 1027.7L586.5 1038.1L590.5 1048.2L594.9 1057.7L599.7 1066.7L604.8 1075L610.2 1082.7L616 1089.6L621.9 1095.6L628.1 1100.9L634.5 1105.2L640.9 1108.6L647.4 1111L653.9 1112.5L660.4 1113L666.9 1112.5L673.1 1111.1L679.2 1108.6L685 1105.2L690.6 1100.9L695.8 1095.7L700.5 1089.6L704.9 1082.7L708.7 1075.1L712.1 1066.7L714.8 1057.8L717 1048.2L718.6 1038.2L719.6 1027.7Z" fill="#d6b7a1"/>
<path d="M708 1012.1L707.7 1002.7L706.9 993.1L705.6 983.4L703.8 973.7L701.4 964.1L698.6 954.6L695.4 945.4L691.7 936.4L687.6 927.8L683.2 919.6L678.6 911.9L673.6 904.8L668.4 898.2L663.1 892.3L657.6 887.1L652.1 882.6L646.5 878.9L640.9 876L635.4 873.9L629.9 872.6L624.6 872.2L619.5 872.6L614.5 873.9L609.8 876L605.4 878.9L601.2 882.6L597.4 887.1L593.9 892.3L590.8 898.2L588.1 904.7L585.7 911.9L583.8 919.6L582.3 927.7L581.2 936.3L580.5 945.3L580.3 954.5L580.5 964L581.2 973.6L582.3 983.3L583.8 993L585.7 1002.6L588.1 1012.1L590.8 1021.3L593.9 1030.3L597.4 1038.9L601.2 1047.1L605.4 1054.8L609.8 1061.9L614.5 1068.5L619.5 1074.4L624.6 1079.6L629.9 1084.1L635.4 1087.8L640.9 1090.7L646.5 1092.8L652.1 1094.1L657.6 1094.5L663.1 1094.1L668.4 1092.8L673.6 1090.7L678.6 1087.8L683.2 1084.1L687.6 1079.6L691.7 1074.4L695.4 1068.5L698.6 1062L701.4 1054.8L703.8 1047.1L705.6 1039L706.9 1030.4L707.7 1021.4Z" fill="#cca68a"/>
<path d="M696.3 1007.3L696.1 999.5L695.5 991.5L694.4 983.4L692.9 975.3L690.9 967.3L688.6 959.4L686 951.7L682.9 944.2L679.6 937.1L676 930.2L672.1 923.8L668 917.9L663.8 912.4L659.3 907.5L654.8 903.1L650.2 899.4L645.5 896.3L640.9 893.9L636.3 892.1L631.7 891.1L627.3 890.7L623 891.1L618.8 892.1L614.9 893.9L611.2 896.3L607.7 899.4L604.4 903.1L601.5 907.5L598.9 912.4L596.5 917.8L594.6 923.8L592.9 930.2L591.6 937L590.7 944.2L590.2 951.6L590 959.3L590.2 967.2L590.7 975.2L591.6 983.3L592.9 991.4L594.6 999.4L596.5 1007.3L598.9 1015L601.5 1022.5L604.4 1029.6L607.7 1036.5L611.2 1042.9L614.9 1048.8L618.8 1054.3L623 1059.2L627.3 1063.6L631.7 1067.3L636.3 1070.4L640.9 1072.8L645.5 1074.6L650.2 1075.6L654.8 1076L659.3 1075.6L663.8 1074.6L668 1072.8L672.1 1070.4L676 1067.3L679.6 1063.6L682.9 1059.2L686 1054.3L688.6 1048.9L690.9 1042.9L692.9 1036.5L694.4 1029.7L695.5 1022.5L696.1 1015.1Z" fill="#c29472"/>
<path d="M684.9 1002.5L684.7 996.2L684.2 989.8L683.3 983.4L682.1 976.9L680.6 970.5L678.8 964.2L676.7 958L674.3 952.1L671.7 946.3L668.8 940.9L665.8 935.7L662.5 931L659.1 926.6L655.6 922.7L652 919.2L648.3 916.2L644.6 913.7L640.9 911.8L637.2 910.4L633.6 909.5L630 909.3L626.5 909.5L623.2 910.4L620 911.8L617 913.7L614.2 916.2L611.6 919.2L609.2 922.6L607 926.6L605.2 930.9L603.5 935.7L602.2 940.8L601.2 946.3L600.4 952L600 958L599.8 964.1L600 970.5L600.4 976.9L601.2 983.3L602.2 989.8L603.5 996.2L605.2 1002.5L607 1008.7L609.2 1014.6L611.6 1020.4L614.2 1025.8L617 1031L620 1035.7L623.2 1040.1L626.5 1044L630 1047.5L633.6 1050.5L637.2 1053L640.9 1054.9L644.6 1056.3L648.3 1057.2L652 1057.4L655.6 1057.2L659.1 1056.3L662.5 1054.9L665.8 1053L668.8 1050.5L671.7 1047.5L674.3 1044.1L676.7 1040.1L678.8 1035.8L680.6 1031L682.1 1025.9L683.3 1020.4L684.2 1014.7L684.7 1008.7Z" fill="#b8825a"/>
<path d="M673.6 997.7L673.5 993L673.1 988.2L672.5 983.4L671.6 978.5L670.5 973.7L669.1 969L667.6 964.4L665.8 959.9L663.8 955.6L661.7 951.5L659.5 947.6L657 944.1L654.5 940.8L651.9 937.8L649.2 935.2L646.5 933L643.7 931.1L640.9 929.7L638.1 928.6L635.4 928L632.7 927.8L630.1 928L627.6 928.6L625.2 929.7L622.9 931.1L620.7 933L618.8 935.2L617 937.8L615.3 940.8L613.9 944L612.7 947.6L611.7 951.5L610.9 955.5L610.3 959.8L609.9 964.3L609.8 968.9L609.9 973.7L610.3 978.5L610.9 983.3L611.7 988.2L612.7 993L613.9 997.7L615.3 1002.3L617 1006.8L618.8 1011.1L620.7 1015.2L622.9 1019.1L625.2 1022.6L627.6 1025.9L630.1 1028.9L632.7 1031.5L635.4 1033.7L638.1 1035.6L640.9 1037L643.7 1038.1L646.5 1038.7L649.2 1038.9L651.9 1038.7L654.5 1038.1L657 1037L659.5 1035.6L661.7 1033.7L663.8 1031.5L665.8 1028.9L667.6 1025.9L669.1 1022.7L670.5 1019.1L671.6 1015.2L672.5 1011.2L673.1 1006.9L673.5 1002.4Z" fill="#ad7043"/>
<path d="M662.5 992.9L662.2 986.6L661.2 980.1L659.6 973.8L657.4 967.7L654.7 962.1L651.6 957.2L648.2 953L644.6 949.8L640.9 947.6L637.2 946.4L633.7 946.4L630.4 947.6L627.4 949.8L624.8 953L622.8 957.1L621.2 962.1L620.3 967.7L620 973.7L620.3 980.1L621.2 986.6L622.8 992.9L624.8 999L627.4 1004.6L630.4 1009.5L633.7 1013.7L637.2 1016.9L640.9 1019.1L644.6 1020.3L648.2 1020.3L651.6 1019.1L654.7 1016.9L657.4 1013.7L659.6 1009.6L661.2 1004.6L662.2 999Z" fill="#a35e2c"/>
<path d="M651.6 988.1L651.5 985L651 981.7L650.2 978.6L649.1 975.5L647.8 972.7L646.2 970.3L644.5 968.2L642.7 966.6L640.9 965.5L639.1 964.9L637.3 964.9L635.6 965.5L634.1 966.6L632.8 968.2L631.8 970.2L631 972.7L630.5 975.5L630.4 978.5L630.5 981.7L631 985L631.8 988.1L632.8 991.2L634.1 994L635.6 996.4L637.3 998.5L639.1 1000.1L640.9 1001.2L642.7 1001.8L644.5 1001.8L646.2 1001.2L647.8 1000.1L649.1 998.5L650.2 996.5L651 994L651.5 991.2Z" fill="#994c14"/>
<path d="M756.7 1031.3L756.2 1015.6L754.8 999.6L752.4 983.4L749.1 967.3L745 951.2L740 935.5L734.3 920L727.8 905.1L720.7 890.8L713.1 877.1L704.9 864.3L696.3 852.4L687.4 841.5L678.3 831.6L669 822.9L659.6 815.5L650.2 809.3L640.9 804.4L631.7 800.9L622.7 798.8L614 798.1L605.6 798.8L597.6 800.9L590 804.4L582.8 809.3L576.2 815.4L570.1 822.9L564.6 831.6L559.7 841.4L555.3 852.3L551.7 864.2L548.6 877L546.3 890.7L544.6 905L543.5 919.9L543.2 935.3L543.5 951.1L544.6 967.1L546.3 983.3L548.6 999.4L551.7 1015.5L555.3 1031.2L559.7 1046.7L564.6 1061.6L570.1 1075.9L576.2 1089.6L582.8 1102.4L590 1114.3L597.6 1125.2L605.6 1135.1L614 1143.8L622.7 1151.2L631.7 1157.4L640.9 1162.3L650.2 1165.8L659.6 1167.9L669 1168.6L678.3 1167.9L687.4 1165.8L696.3 1162.3L704.9 1157.4L713.1 1151.3L720.7 1143.8L727.8 1135.1L734.3 1125.3L740 1114.4L745 1102.5L749.1 1089.7L752.4 1076L754.8 1061.7L756.2 1046.8Z" fill="none" stroke="#9b4f17" stroke-width="1.4"/>
<path d="M696.3 1007.3L696.1 999.5L695.5 991.5L694.4 983.4L692.9 975.3L690.9 967.3L688.6 959.4L686 951.7L682.9 944.2L679.6 937.1L676 930.2L672.1 923.8L668 917.9L663.8 912.4L659.3 907.5L654.8 903.1L650.2 899.4L645.5 896.3L640.9 893.9L636.3 892.1L631.7 891.1L627.3 890.7L623 891.1L618.8 892.1L614.9 893.9L611.2 896.3L607.7 899.4L604.4 903.1L601.5 907.5L598.9 912.4L596.5 917.8L594.6 923.8L592.9 930.2L591.6 937L590.7 944.2L590.2 951.6L590 959.3L590.2 967.2L590.7 975.2L591.6 983.3L592.9 991.4L594.6 999.4L596.5 1007.3L598.9 1015L601.5 1022.5L604.4 1029.6L607.7 1036.5L611.2 1042.9L614.9 1048.8L618.8 1054.3L623 1059.2L627.3 1063.6L631.7 1067.3L636.3 1070.4L640.9 1072.8L645.5 1074.6L650.2 1075.6L654.8 1076L659.3 1075.6L663.8 1074.6L668 1072.8L672.1 1070.4L676 1067.3L679.6 1063.6L682.9 1059.2L686 1054.3L688.6 1048.9L690.9 1042.9L692.9 1036.5L694.4 1029.7L695.5 1022.5L696.1 1015.1Z" fill="none" stroke="#9b4f17" stroke-width="3.5"/>
<circle cx="707.5" cy="1106.6" r="7.4" fill="#ff0000"/>
<circle cx="566.6" cy="962.6" r="7.4" fill="#ff8c0a"/>
<circle cx="637.1" cy="911.5" r="7.4" fill="#00ff00"/>
<circle cx="665.2" cy="1030.6" r="7.4" fill="#0064ff"/>
<circle cx="721.6" cy="1182.4" r="7.4" fill="#66c8ff"/>
<circle cx="623" cy="1091" r="7.4" fill="#8a1fff"/>
<circle cx="637.1" cy="1091.8" r="7.4" fill="#ff00ff"/>
<circle cx="637.1" cy="1085.5" r="7.4" fill="#cc99ff"/>
<circle cx="608.9" cy="960.6" r="7.4" fill="#c46a28"/>
<circle cx="608.9" cy="982.2" r="7.4" fill="#aaaaaa"/>
<path d="M530.7 945.5L546.1 945.5L538.4 930.3Z" fill="#ff0000"/>
<path d="M601.2 1003.2L616.6 1003.2L608.9 988Z" fill="#00ff00"/>
<path d="M587.1 872.7L602.5 872.7L594.8 857.5Z" fill="#0064ff"/>
<path d="M573 925.6L588.4 925.6L580.7 910.4Z" fill="#66c8ff"/>
<path d="M601.2 914.3L616.6 914.3L608.9 899.1Z" fill="#8a1fff"/>
<path d="M643.4 1008.2L658.8 1008.2L651.1 993Z" fill="#ff00ff"/>
<path d="M671.6 843L687 843L679.3 827.8Z" fill="#cc99ff"/>
<path d="M671.6 971.7L687 971.7L679.3 956.5Z" fill="#000000"/>
<path d="M978.6 1042L977.9 1021.7L975.7 1001.1L972.2 980.3L967.3 959.5L961.1 938.9L953.6 918.6L945.1 898.8L935.5 879.7L925 861.3L913.8 843.8L901.8 827.4L889.3 812.2L876.4 798.3L863.2 785.7L849.8 774.7L836.4 765.2L823 757.4L809.8 751.3L796.9 746.9L784.3 744.4L772.1 743.6L760.5 744.7L749.4 747.5L739 752.2L729.3 758.6L720.3 766.7L712 776.4L704.6 787.7L698 800.5L692.2 814.7L687.3 830.1L683.2 846.7L680.1 864.4L677.8 882.9L676.5 902.2L676 922L676.5 942.4L677.8 963L680.1 983.8L683.2 1004.6L687.3 1025.2L692.2 1045.5L698 1065.3L704.6 1084.4L712 1102.8L720.3 1120.3L729.3 1136.7L739 1151.9L749.4 1165.8L760.5 1178.4L772.1 1189.4L784.3 1198.9L796.9 1206.7L809.8 1212.8L823 1217.2L836.4 1219.7L849.8 1220.5L863.2 1219.4L876.4 1216.6L889.3 1211.9L901.8 1205.5L913.8 1197.4L925 1187.7L935.5 1176.4L945.1 1163.6L953.6 1149.4L961.1 1134L967.3 1117.4L972.2 1099.7L975.7 1081.2L977.9 1061.9Z" fill="#f5ede8"/>
<path d="M959.9 1036L959.3 1017.7L957.4 999.2L954.3 980.5L949.9 961.8L944.5 943.2L937.9 925L930.4 907.2L921.9 889.9L912.6 873.4L902.6 857.7L892 842.9L880.9 829.2L869.4 816.6L857.6 805.3L845.7 795.4L833.7 786.9L821.7 779.8L809.8 774.3L798.1 770.4L786.8 768.1L775.8 767.5L765.3 768.4L755.2 771L745.7 775.2L736.9 780.9L728.6 788.2L721.1 797L714.3 807.2L708.2 818.7L702.9 831.4L698.4 845.3L694.7 860.3L691.8 876.1L689.7 892.8L688.4 910.2L688 928L688.4 946.4L689.7 964.9L691.8 983.6L694.7 1002.3L698.4 1020.9L702.9 1039.1L708.2 1056.9L714.3 1074.2L721.1 1090.7L728.6 1106.4L736.9 1121.2L745.7 1134.9L755.2 1147.5L765.3 1158.8L775.8 1168.7L786.8 1177.2L798.1 1184.3L809.8 1189.8L821.7 1193.7L833.7 1196L845.7 1196.6L857.6 1195.7L869.4 1193.1L880.9 1188.9L892 1183.2L902.6 1175.9L912.6 1167.1L921.9 1156.9L930.4 1145.4L937.9 1132.7L944.5 1118.8L949.9 1103.8L954.3 1088L957.4 1071.3L959.3 1053.9Z" fill="#ebdbd0"/>
<path d="M941.6 1030L941.1 1013.8L939.4 997.3L936.7 980.6L933 964L928.2 947.5L922.5 931.3L915.9 915.5L908.6 900.1L900.5 885.4L891.7 871.5L882.4 858.3L872.7 846.2L862.5 835L852.2 825L841.6 816.1L831 808.6L820.3 802.3L809.8 797.4L799.4 793.9L789.3 791.9L779.5 791.3L770 792.1L761 794.4L752.5 798.2L744.5 803.3L737.1 809.8L730.3 817.6L724.2 826.6L718.7 836.8L713.8 848.2L709.7 860.5L706.4 873.8L703.7 887.9L701.8 902.7L700.7 918.1L700.3 934L700.7 950.3L701.8 966.8L703.7 983.5L706.4 1000.1L709.7 1016.6L713.8 1032.8L718.7 1048.6L724.2 1064L730.3 1078.7L737.1 1092.6L744.5 1105.8L752.5 1117.9L761 1129.1L770 1139.1L779.5 1148L789.3 1155.5L799.4 1161.8L809.8 1166.7L820.3 1170.2L831 1172.2L841.6 1172.8L852.2 1172L862.5 1169.7L872.7 1165.9L882.4 1160.8L891.7 1154.3L900.5 1146.5L908.6 1137.5L915.9 1127.3L922.5 1115.9L928.2 1103.6L933 1090.3L936.7 1076.2L939.4 1061.4L941.1 1046Z" fill="#e0c9b8"/>
<path d="M923.8 1024L923.3 1009.8L921.9 995.4L919.6 980.8L916.4 966.3L912.3 951.8L907.4 937.7L901.8 923.8L895.4 910.4L888.5 897.5L880.9 885.3L872.9 873.8L864.5 863.1L855.7 853.4L846.7 844.6L837.5 836.9L828.3 830.3L819 824.8L809.8 820.5L800.7 817.5L791.8 815.7L783.2 815.1L774.9 815.9L766.9 817.9L759.4 821.1L752.3 825.6L745.7 831.3L739.7 838.1L734.2 846L729.3 855L725 864.9L721.4 875.7L718.3 887.3L716 899.7L714.3 912.6L713.3 926.1L712.9 940L713.3 954.3L714.3 968.7L716 983.3L718.3 997.8L721.4 1012.3L725 1026.4L729.3 1040.3L734.2 1053.7L739.7 1066.6L745.7 1078.8L752.3 1090.3L759.4 1101L766.9 1110.7L774.9 1119.5L783.2 1127.2L791.8 1133.8L800.7 1139.3L809.8 1143.6L819 1146.6L828.3 1148.4L837.5 1149L846.7 1148.2L855.7 1146.2L864.5 1143L872.9 1138.5L880.9 1132.8L888.5 1126L895.4 1118.1L901.8 1109.1L907.4 1099.2L912.3 1088.4L916.4 1076.8L919.6 1064.4L921.9 1051.5L923.3 1038Z" fill="#d6b7a1"/>
<path d="M906.3 1018L905.9 1005.8L904.8 993.5L902.8 981L900.1 968.5L896.7 956.2L892.6 944L887.9 932.1L882.5 920.6L876.7 909.6L870.3 899.1L863.5 889.3L856.4 880.1L849 871.8L841.3 864.2L833.5 857.6L825.6 851.9L817.7 847.2L809.8 843.6L802 841L794.4 839.4L786.9 839L779.8 839.6L772.9 841.3L766.3 844.1L760.2 848L754.5 852.8L749.2 858.7L744.4 865.5L740.2 873.1L736.4 881.6L733.2 890.9L730.6 900.9L728.5 911.4L727 922.6L726.1 934.1L725.8 946L726.1 958.3L727 970.6L728.5 983.1L730.6 995.6L733.2 1007.9L736.4 1020.1L740.2 1032L744.4 1043.5L749.2 1054.5L754.5 1065L760.2 1074.8L766.3 1084L772.9 1092.3L779.8 1099.9L786.9 1106.5L794.4 1112.2L802 1116.9L809.8 1120.5L817.7 1123.1L825.6 1124.7L833.5 1125.1L841.3 1124.5L849 1122.8L856.4 1120L863.5 1116.1L870.3 1111.3L876.7 1105.4L882.5 1098.6L887.9 1091L892.6 1082.5L896.7 1073.2L900.1 1063.2L902.8 1052.7L904.8 1041.5L905.9 1030Z" fill="#cca68a"/>
<path d="M889.3 1012L889 1001.9L888 991.6L886.4 981.2L884.2 970.8L881.5 960.5L878.1 950.3L874.2 940.4L869.9 930.9L865.1 921.7L859.8 912.9L854.3 904.7L848.4 897.1L842.3 890.2L836 883.9L829.5 878.4L823 873.6L816.4 869.7L809.8 866.7L803.3 864.5L796.9 863.2L790.7 862.8L784.7 863.4L778.9 864.8L773.4 867.1L768.2 870.3L763.4 874.4L758.9 879.2L754.8 884.9L751.2 891.3L748 898.4L745.3 906.1L743.1 914.4L741.3 923.2L740 932.5L739.3 942.1L739 952L739.3 962.2L740 972.5L741.3 982.9L743.1 993.3L745.3 1003.6L748 1013.8L751.2 1023.7L754.8 1033.2L758.9 1042.4L763.4 1051.2L768.2 1059.4L773.4 1067L778.9 1073.9L784.7 1080.2L790.7 1085.7L796.9 1090.5L803.3 1094.4L809.8 1097.4L816.4 1099.6L823 1100.9L829.5 1101.3L836 1100.7L842.3 1099.3L848.4 1097L854.3 1093.8L859.8 1089.7L865.1 1084.9L869.9 1079.2L874.2 1072.8L878.1 1065.7L881.5 1058L884.2 1049.7L886.4 1040.9L888 1031.6L889 1022Z" fill="#c29472"/>
<path d="M872.7 1006L872.4 997.9L871.7 989.7L870.4 981.3L868.7 973L866.5 964.8L863.9 956.7L860.9 948.8L857.4 941.1L853.6 933.7L849.5 926.8L845.1 920.2L840.5 914.1L835.7 908.5L830.6 903.5L825.5 899.1L820.3 895.3L815 892.2L809.8 889.7L804.6 888L799.5 887L794.5 886.7L789.6 887.1L784.9 888.2L780.5 890.1L776.3 892.7L772.4 895.9L768.8 899.8L765.5 904.3L762.5 909.4L759.9 915.1L757.7 921.3L755.8 927.9L754.4 935L753.4 942.4L752.7 950.1L752.5 958L752.7 966.2L753.4 974.4L754.4 982.8L755.8 991.1L757.7 999.3L759.9 1007.4L762.5 1015.3L765.5 1023L768.8 1030.4L772.4 1037.3L776.3 1043.9L780.5 1050L784.9 1055.6L789.6 1060.6L794.5 1065L799.5 1068.8L804.6 1071.9L809.8 1074.4L815 1076.1L820.3 1077.1L825.5 1077.4L830.6 1077L835.7 1075.9L840.5 1074L845.1 1071.4L849.5 1068.2L853.6 1064.3L857.4 1059.8L860.9 1054.7L863.9 1049L866.5 1042.8L868.7 1036.2L870.4 1029.1L871.7 1021.7L872.4 1014Z" fill="#b8825a"/>
<path d="M856.4 1000L856.2 993.9L855.7 987.8L854.7 981.5L853.5 975.3L851.9 969.1L850 963L847.7 957.1L845.2 951.3L842.4 945.8L839.4 940.6L836.1 935.7L832.7 931.1L829.1 926.9L825.4 923.1L821.5 919.8L817.7 917L813.7 914.6L809.8 912.8L805.9 911.5L802 910.7L798.3 910.5L794.6 910.8L791.1 911.7L787.7 913.1L784.5 915L781.5 917.4L778.8 920.4L776.2 923.8L774 927.6L772 931.8L770.3 936.5L768.9 941.5L767.8 946.7L767 952.3L766.5 958.1L766.3 964L766.5 970.2L767 976.3L767.8 982.6L768.9 988.8L770.3 995L772 1001.1L774 1007L776.2 1012.8L778.8 1018.3L781.5 1023.5L784.5 1028.4L787.7 1033L791.1 1037.2L794.6 1041L798.3 1044.3L802 1047.1L805.9 1049.5L809.8 1051.3L813.7 1052.6L817.7 1053.4L821.5 1053.6L825.4 1053.3L829.1 1052.4L832.7 1051L836.1 1049.1L839.4 1046.7L842.4 1043.7L845.2 1040.3L847.7 1036.5L850 1032.3L851.9 1027.6L853.5 1022.6L854.7 1017.4L855.7 1011.8L856.2 1006Z" fill="#ad7043"/>
<path d="M840.5 994L840 985.9L838.6 977.5L836.3 969.4L833.2 961.6L829.4 954.4L825 948.1L820.1 942.8L815 938.7L809.8 935.9L804.6 934.5L799.6 934.6L795 936.1L790.8 939L787.2 943.2L784.3 948.6L782.2 955L780.9 962.2L780.5 970L780.9 978.2L782.2 986.6L784.3 994.7L787.2 1002.5L790.8 1009.7L795 1016L799.6 1021.3L804.6 1025.4L809.8 1028.2L815 1029.6L820.1 1029.5L825 1028L829.4 1025.1L833.2 1020.9L836.3 1015.5L838.6 1009.1L840 1001.9Z" fill="#a35e2c"/>
<path d="M825 988L824.7 984L824 979.8L822.9 975.7L821.4 971.8L819.5 968.2L817.3 965.1L814.9 962.4L812.4 960.4L809.8 959L807.2 958.3L804.7 958.3L802.3 959.1L800.2 960.5L798.4 962.6L796.9 965.3L795.9 968.5L795.2 972.1L795 976L795.2 980.1L795.9 984.3L796.9 988.4L798.4 992.3L800.2 995.9L802.3 999L804.7 1001.7L807.2 1003.7L809.8 1005.1L812.4 1005.8L814.9 1005.8L817.3 1005L819.5 1003.6L821.4 1001.5L822.9 998.8L824 995.6L824.7 992Z" fill="#994c14"/>
<path d="M978.6 1042L977.9 1021.7L975.7 1001.1L972.2 980.3L967.3 959.5L961.1 938.9L953.6 918.6L945.1 898.8L935.5 879.7L925 861.3L913.8 843.8L901.8 827.4L889.3 812.2L876.4 798.3L863.2 785.7L849.8 774.7L836.4 765.2L823 757.4L809.8 751.3L796.9 746.9L784.3 744.4L772.1 743.6L760.5 744.7L749.4 747.5L739 752.2L729.3 758.6L720.3 766.7L712 776.4L704.6 787.7L698 800.5L692.2 814.7L687.3 830.1L683.2 846.7L680.1 864.4L677.8 882.9L676.5 902.2L676 922L676.5 942.4L677.8 963L680.1 983.8L683.2 1004.6L687.3 1025.2L692.2 1045.5L698 1065.3L704.6 1084.4L712 1102.8L720.3 1120.3L729.3 1136.7L739 1151.9L749.4 1165.8L760.5 1178.4L772.1 1189.4L784.3 1198.9L796.9 1206.7L809.8 1212.8L823 1217.2L836.4 1219.7L849.8 1220.5L863.2 1219.4L876.4 1216.6L889.3 1211.9L901.8 1205.5L913.8 1197.4L925 1187.7L935.5 1176.4L945.1 1163.6L953.6 1149.4L961.1 1134L967.3 1117.4L972.2 1099.7L975.7 1081.2L977.9 1061.9Z" fill="none" stroke="#9b4f17" stroke-width="1.4"/>
<path d="M889.3 1012L889 1001.9L888 991.6L886.4 981.2L884.2 970.8L881.5 960.5L878.1 950.3L874.2 940.4L869.9 930.9L865.1 921.7L859.8 912.9L854.3 904.7L848.4 897.1L842.3 890.2L836 883.9L829.5 878.4L823 873.6L816.4 869.7L809.8 866.7L803.3 864.5L796.9 863.2L790.7 862.8L784.7 863.4L778.9 864.8L773.4 867.1L768.2 870.3L763.4 874.4L758.9 879.2L754.8 884.9L751.2 891.3L748 898.4L745.3 906.1L743.1 914.4L741.3 923.2L740 932.5L739.3 942.1L739 952L739.3 962.2L740 972.5L741.3 982.9L743.1 993.3L745.3 1003.6L748 1013.8L751.2 1023.7L754.8 1033.2L758.9 1042.4L763.4 1051.2L768.2 1059.4L773.4 1067L778.9 1073.9L784.7 1080.2L790.7 1085.7L796.9 1090.5L803.3 1094.4L809.8 1097.4L816.4 1099.6L823 1100.9L829.5 1101.3L836 1100.7L842.3 1099.3L848.4 1097L854.3 1093.8L859.8 1089.7L865.1 1084.9L869.9 1079.2L874.2 1072.8L878.1 1065.7L881.5 1058L884.2 1049.7L886.4 1040.9L888 1031.6L889 1022Z" fill="none" stroke="#9b4f17" stroke-width="3.5"/>
<circle cx="904.8" cy="1137.8" r="7.4" fill="#ff0000"/>
<circle cx="707.5" cy="956.2" r="7.4" fill="#ff8c0a"/>
<circle cx="806.1" cy="888.8" r="7.4" fill="#00ff00"/>
<circle cx="848.4" cy="1046.1" r="7.4" fill="#0064ff"/>
<circle cx="918.9" cy="1230.5" r="7.4" fill="#66c8ff"/>
<circle cx="778" cy="1121.4" r="7.4" fill="#8a1fff"/>
<circle cx="806.1" cy="1121.4" r="7.4" fill="#ff00ff"/>
<circle cx="792" cy="1115.3" r="7.4" fill="#cc99ff"/>
<circle cx="763.9" cy="951.2" r="7.4" fill="#c46a28"/>
<circle cx="778" cy="981.5" r="7.4" fill="#aaaaaa"/>
<circle cx="961.1" cy="1050.4" r="7.4" fill="#000000"/>
<path d="M657.5 932.5L672.9 932.5L665.2 917.3Z" fill="#ff0000"/>
<path d="M756.2 1007.2L771.6 1007.2L763.9 992Z" fill="#00ff00"/>
<path d="M728 833.8L743.4 833.8L735.7 818.6Z" fill="#0064ff"/>
<path d="M728 904.4L743.4 904.4L735.7 889.2Z" fill="#66c8ff"/>
<path d="M770.2 889.1L785.7 889.1L778 873.9Z" fill="#8a1fff"/>
<path d="M812.5 1014.3L827.9 1014.3L820.2 999.1Z" fill="#ff00ff"/>
<path d="M911.1 756.7L926.6 756.7L918.9 741.5Z" fill="#ff8c0a"/>
<path d="M854.8 801.7L870.2 801.7L862.5 786.5Z" fill="#cc99ff"/>
<path d="M883 999.3L898.4 999.3L890.7 984.1Z" fill="#c46a28"/>
<path d="M854.8 962.2L870.2 962.2L862.5 947Z" fill="#000000"/>
</g>
<rect x="114.1" y="734.6" width="875.2" height="510.5" fill="none" stroke="#000" stroke-width="1.6"/>
<path d="M115.7 734.6v5.1M115.7 1245.1v-5.1M129.8 734.6v5.1M129.8 1245.1v-5.1M143.9 734.6v10.2M143.9 1245.1v-10.2M158 734.6v5.1M158 1245.1v-5.1M172.1 734.6v5.1M172.1 1245.1v-5.1M186.2 734.6v5.1M186.2 1245.1v-5.1M200.3 734.6v5.1M200.3 1245.1v-5.1M214.4 734.6v5.1M214.4 1245.1v-5.1M228.4 734.6v5.1M228.4 1245.1v-5.1M242.5 734.6v5.1M242.5 1245.1v-5.1M256.6 734.6v5.1M256.6 1245.1v-5.1M270.7 734.6v5.1M270.7 1245.1v-5.1M284.8 734.6v10.2M284.8 1245.1v-10.2M298.9 734.6v5.1M298.9 1245.1v-5.1M313 734.6v5.1M313 1245.1v-5.1M327.1 734.6v5.1M327.1 1245.1v-5.1M341.2 734.6v5.1M341.2 1245.1v-5.1M355.2 734.6v5.1M355.2 1245.1v-5.1M369.3 734.6v5.1M369.3 1245.1v-5.1M383.4 734.6v5.1M383.4 1245.1v-5.1M397.5 734.6v5.1M397.5 1245.1v-5.1M411.6 734.6v5.1M411.6 1245.1v-5.1M425.7 734.6v10.2M425.7 1245.1v-10.2M439.8 734.6v5.1M439.8 1245.1v-5.1M453.9 734.6v5.1M453.9 1245.1v-5.1M468 734.6v5.1M468 1245.1v-5.1M482.1 734.6v5.1M482.1 1245.1v-5.1M496.1 734.6v5.1M496.1 1245.1v-5.1M510.2 734.6v5.1M510.2 1245.1v-5.1M524.3 734.6v5.1M524.3 1245.1v-5.1M538.4 734.6v5.1M538.4 1245.1v-5.1M552.5 734.6v5.1M552.5 1245.1v-5.1M566.6 734.6v10.2M566.6 1245.1v-10.2M580.7 734.6v5.1M580.7 1245.1v-5.1M594.8 734.6v5.1M594.8 1245.1v-5.1M608.9 734.6v5.1M608.9 1245.1v-5.1M623 734.6v5.1M623 1245.1v-5.1M637.1 734.6v5.1M637.1 1245.1v-5.1M651.1 734.6v5.1M651.1 1245.1v-5.1M665.2 734.6v5.1M665.2 1245.1v-5.1M679.3 734.6v5.1M679.3 1245.1v-5.1M693.4 734.6v5.1M693.4 1245.1v-5.1M707.5 734.6v10.2M707.5 1245.1v-10.2M721.6 734.6v5.1M721.6 1245.1v-5.1M735.7 734.6v5.1M735.7 1245.1v-5.1M749.8 734.6v5.1M749.8 1245.1v-5.1M763.9 734.6v5.1M763.9 1245.1v-5.1M778 734.6v5.1M778 1245.1v-5.1M792 734.6v5.1M792 1245.1v-5.1M806.1 734.6v5.1M806.1 1245.1v-5.1M820.2 734.6v5.1M820.2 1245.1v-5.1M834.3 734.6v5.1M834.3 1245.1v-5.1M848.4 734.6v10.2M848.4 1245.1v-10.2M862.5 734.6v5.1M862.5 1245.1v-5.1M876.6 734.6v5.1M876.6 1245.1v-5.1M890.7 734.6v5.1M890.7 1245.1v-5.1M904.8 734.6v5.1M904.8 1245.1v-5.1M918.9 734.6v5.1M918.9 1245.1v-5.1M932.9 734.6v5.1M932.9 1245.1v-5.1M947 734.6v5.1M947 1245.1v-5.1M961.1 734.6v5.1M961.1 1245.1v-5.1M975.2 734.6v5.1M975.2 1245.1v-5.1M989.3 734.6v10.2M989.3 1245.1v-10.2M114.1 1229h8.8M989.3 1229h-8.8M114.1 1193.6h8.8M989.3 1193.6h-8.8M114.1 1158.2h8.8M989.3 1158.2h-8.8M114.1 1122.9h17.5M989.3 1122.9h-17.5M114.1 1087.5h8.8M989.3 1087.5h-8.8M114.1 1052.2h8.8M989.3 1052.2h-8.8M114.1 1016.9h8.8M989.3 1016.9h-8.8M114.1 981.5h17.5M989.3 981.5h-17.5M114.1 946.1h8.8M989.3 946.1h-8.8M114.1 910.8h8.8M989.3 910.8h-8.8M114.1 875.5h8.8M989.3 875.5h-8.8M114.1 840.1h17.5M989.3 840.1h-17.5M114.1 804.8h8.8M989.3 804.8h-8.8M114.1 769.4h8.8M989.3 769.4h-8.8" stroke="#000" stroke-width="1.5" fill="none"/>
<text transform="translate(143.9 1288.9) scale(1 1.045)" font-size="34.7" text-anchor="middle">0</text>
<text transform="translate(284.8 1288.9) scale(1 1.045)" font-size="34.7" text-anchor="middle">1</text>
<text transform="translate(425.7 1288.9) scale(1 1.045)" font-size="34.7" text-anchor="middle">2</text>
<text transform="translate(566.6 1288.9) scale(1 1.045)" font-size="34.7" text-anchor="middle">3</text>
<text transform="translate(707.5 1288.9) scale(1 1.045)" font-size="34.7" text-anchor="middle">4</text>
<text transform="translate(848.4 1288.9) scale(1 1.045)" font-size="34.7" text-anchor="middle">5</text>
<text transform="translate(989.3 1288.9) scale(1 1.045)" font-size="34.7" text-anchor="middle">6</text>
<text transform="translate(105.4 1135.3) scale(1 1.045)" font-size="34.7" text-anchor="end">-20</text>
<text transform="translate(105.4 993.9) scale(1 1.045)" font-size="34.7" text-anchor="end">0</text>
<text transform="translate(105.4 852.5) scale(1 1.045)" font-size="34.7" text-anchor="end">20</text>
<text transform="translate(551.7 717.1) scale(1 1.045)" font-size="43.4" text-anchor="middle">Congo JJA</text>
<text transform="translate(551.7 1326.1) scale(1 1.045)" font-size="34.7" text-anchor="middle">Mean temperature change (<tspan font-size="20.8" dy="-13.6">o</tspan><tspan dy="13.6">C)</tspan></text>
<text transform="translate(27.8 989.2) rotate(-90) scale(1 1.045)" font-size="34.7" text-anchor="middle">Precipitation change (%)</text>
</g>
<g id="p2">
<clipPath id="cl2"><rect x="114.1" y="1418.9" width="875.2" height="509.3"/></clipPath>
<g clip-path="url(#cl2)">
<path d="M142.3 1418.9V1928.2" stroke="#000" stroke-width="2.8" stroke-dasharray="4.8 10.5" stroke-dashoffset="0" fill="none"/>
<path d="M114.1 1702.4H989.3" stroke="#000" stroke-width="2.8" stroke-dasharray="4.8 10.5" stroke-dashoffset="0" fill="none"/>
<path fill="#000" d="M131.5 1681.5L139.9 1678.3L147.2 1680.4L153.5 1686.7L157.7 1695.1L160.3 1702.5L162.4 1708.8L163.0 1715.1L158.8 1721.4L152.5 1725.6L144.1 1728.2L136.7 1727.1L131.5 1722.4L127.8 1715.1L125.7 1704.6L126.2 1692.0ZM144.6 1728.3h1.4v1.4h-1.4zM132.7 1727.8h1.3v1.3h-1.3zM133.7 1724.9h2.0v2.0h-2.0zM150.3 1726.6h1.7v1.7h-1.7zM159.7 1700.5h1.2v1.2h-1.2zM139.3 1727.0h1.9v1.9h-1.9zM125.7 1689.1h1.3v1.3h-1.3zM137.5 1676.0h1.4v1.4h-1.4zM125.7 1693.9h1.5v1.5h-1.5zM155.8 1693.3h1.6v1.6h-1.6zM159.2 1701.0h1.3v1.3h-1.3zM133.9 1676.2h1.6v1.6h-1.6zM146.7 1680.3h1.5v1.5h-1.5zM138.2 1678.2h1.4v1.4h-1.4zM133.7 1724.9h1.5v1.5h-1.5zM148.8 1726.0h1.3v1.3h-1.3zM156.4 1723.2h1.3v1.3h-1.3zM124.7 1696.7h1.6v1.6h-1.6zM162.8 1702.0h1.3v1.3h-1.3zM153.9 1722.9h1.3v1.3h-1.3zM140.2 1727.4h1.5v1.5h-1.5zM153.0 1725.1h2.0v2.0h-2.0zM155.5 1722.3h1.8v1.8h-1.8zM159.9 1703.4h1.8v1.8h-1.8zM137.2 1727.2h1.8v1.8h-1.8zM128.3 1684.4h1.8v1.8h-1.8zM123.7 1687.9h1.7v1.7h-1.7zM153.1 1726.9h1.8v1.8h-1.8zM155.3 1691.1h1.7v1.7h-1.7zM144.0 1726.7h2.0v2.0h-2.0zM139.4 1674.7h1.7v1.7h-1.7zM130.5 1681.6h2.0v2.0h-2.0zM164.4 1717.0h1.3v1.3h-1.3zM135.3 1677.6h1.8v1.8h-1.8zM155.3 1690.8h1.8v1.8h-1.8zM124.2 1716.4h1.8v1.8h-1.8zM125.4 1701.9h1.9v1.9h-1.9zM138.1 1726.4h1.5v1.5h-1.5zM161.3 1705.5h1.4v1.4h-1.4zM141.5 1678.6h1.3v1.3h-1.3zM162.4 1715.9h1.6v1.6h-1.6zM158.1 1720.6h1.2v1.2h-1.2zM140.9 1677.9h1.4v1.4h-1.4zM158.8 1701.2h1.6v1.6h-1.6zM162.9 1711.7h1.4v1.4h-1.4zM135.7 1677.2h1.5v1.5h-1.5zM145.9 1676.5h2.0v2.0h-2.0zM160.0 1704.4h1.4v1.4h-1.4zM124.6 1707.8h1.5v1.5h-1.5zM124.6 1696.2h1.4v1.4h-1.4zM154.6 1685.4h1.9v1.9h-1.9zM159.5 1697.6h1.7v1.7h-1.7zM156.6 1690.7h1.8v1.8h-1.8zM158.8 1718.3h1.8v1.8h-1.8zM150.0 1683.9h1.3v1.3h-1.3zM161.7 1711.3h1.5v1.5h-1.5zM126.9 1712.3h1.6v1.6h-1.6zM123.3 1691.4h1.3v1.3h-1.3zM122.1 1695.5h1.6v1.6h-1.6zM162.8 1711.4h2.0v2.0h-2.0zM154.2 1723.1h1.6v1.6h-1.6zM147.9 1726.1h1.9v1.9h-1.9zM155.7 1691.9h1.9v1.9h-1.9zM160.4 1700.2h1.9v1.9h-1.9zM124.9 1706.2h1.9v1.9h-1.9zM157.2 1692.2h1.9v1.9h-1.9zM160.8 1706.8h1.5v1.5h-1.5zM147.6 1727.2h1.7v1.7h-1.7zM137.5 1726.6h1.7v1.7h-1.7zM160.8 1706.7h1.8v1.8h-1.8zM124.7 1692.8h1.2v1.2h-1.2zM162.4 1716.4h1.5v1.5h-1.5zM152.3 1724.5h1.4v1.4h-1.4zM138.5 1677.0h1.8v1.8h-1.8zM131.5 1724.4h1.3v1.3h-1.3zM159.8 1717.0h2.0v2.0h-2.0zM128.9 1717.6h1.8v1.8h-1.8zM161.9 1709.9h1.5v1.5h-1.5zM142.1 1728.1h1.3v1.3h-1.3zM149.0 1725.5h1.9v1.9h-1.9zM126.2 1689.4h1.3v1.3h-1.3zM137.1 1726.2h1.6v1.6h-1.6zM154.3 1687.0h1.2v1.2h-1.2zM135.9 1726.4h1.8v1.8h-1.8zM127.9 1684.2h1.5v1.5h-1.5zM126.6 1687.5h1.3v1.3h-1.3zM145.9 1727.9h1.8v1.8h-1.8zM147.2 1726.9h1.7v1.7h-1.7zM138.6 1727.6h1.9v1.9h-1.9zM136.9 1729.5h1.5v1.5h-1.5zM124.1 1706.5h1.9v1.9h-1.9zM122.8 1692.1h1.6v1.6h-1.6zM159.8 1698.3h1.5v1.5h-1.5zM155.1 1687.9h1.4v1.4h-1.4zM148.2 1680.7h1.9v1.9h-1.9zM156.3 1694.0h1.4v1.4h-1.4zM147.6 1726.4h1.8v1.8h-1.8zM162.4 1708.3h1.2v1.2h-1.2zM154.2 1687.1h1.4v1.4h-1.4zM158.4 1691.1h1.5v1.5h-1.5zM124.8 1709.4h1.6v1.6h-1.6zM138.5 1727.1h1.5v1.5h-1.5zM158.2 1693.8h1.4v1.4h-1.4zM145.6 1679.8h1.2v1.2h-1.2zM125.9 1691.7h1.6v1.6h-1.6zM151.9 1683.2h2.0v2.0h-2.0zM162.7 1713.6h1.3v1.3h-1.3zM163.0 1714.0h1.8v1.8h-1.8zM129.3 1681.2h1.9v1.9h-1.9zM123.6 1688.0h1.5v1.5h-1.5zM140.3 1664.6h2.2v2.2h-2.2zM143.0 1666.2h2.2v2.2h-2.2zM144.0 1669.4h2.2v2.2h-2.2zM138.8 1669.4h2.2v2.2h-2.2zM135.6 1672.0h2.2v2.2h-2.2zM138.8 1673.6h2.2v2.2h-2.2zM135.1 1675.7h2.2v2.2h-2.2zM150.3 1679.3h2.2v2.2h-2.2zM123.0 1696.1h2.2v2.2h-2.2zM121.5 1702.9h2.2v2.2h-2.2zM123.6 1709.2h2.2v2.2h-2.2zM125.7 1712.4h2.2v2.2h-2.2zM125.7 1718.2h2.2v2.2h-2.2zM135.1 1729.2h2.2v2.2h-2.2zM152.4 1728.1h2.2v2.2h-2.2zM132.0 1723.4h2.2v2.2h-2.2z"/><path fill="#fff" d="M157.8 1709.4h0.9v0.9h-0.9zM156.0 1702.4h0.9v0.9h-0.9zM151.0 1690.5h1.0v1.0h-1.0zM139.3 1683.2h1.4v1.4h-1.4zM152.4 1694.8h0.8v0.8h-0.8zM153.2 1692.9h1.2v1.2h-1.2zM145.7 1721.4h1.2v1.2h-1.2zM132.0 1710.7h1.2v1.2h-1.2zM153.4 1693.3h1.3v1.3h-1.3zM129.8 1704.3h1.4v1.4h-1.4z"/>
<path d="M326.9 1695.5L326.8 1690.2L326.4 1684.9L325.8 1679.6L325 1674.4L323.9 1669.3L322.7 1664.3L321.2 1659.6L319.5 1655L317.6 1650.8L315.6 1646.8L313.3 1643.1L311 1639.8L308.5 1636.9L305.8 1634.4L303.1 1632.3L300.3 1630.6L297.5 1629.4L294.6 1628.6L291.7 1628.3L288.8 1628.5L286 1629.1L283.2 1630.2L280.4 1631.7L277.8 1633.6L275.3 1636L272.9 1638.8L270.7 1642L268.7 1645.5L266.9 1649.4L265.3 1653.6L263.9 1658L262.7 1662.7L261.8 1667.6L261.1 1672.7L260.7 1677.8L260.6 1683.1L260.7 1688.4L261.1 1693.7L261.8 1699L262.7 1704.2L263.9 1709.3L265.3 1714.3L266.9 1719L268.7 1723.6L270.7 1727.8L272.9 1731.8L275.3 1735.5L277.8 1738.8L280.4 1741.7L283.2 1744.2L286 1746.3L288.8 1748L291.7 1749.2L294.6 1750L297.5 1750.3L300.3 1750.1L303.1 1749.5L305.8 1748.4L308.5 1746.9L311 1745L313.3 1742.6L315.6 1739.8L317.6 1736.6L319.5 1733.1L321.2 1729.2L322.7 1725L323.9 1720.6L325 1715.9L325.8 1711L326.4 1705.9L326.8 1700.8Z" fill="#f5ede8"/>
<path d="M323.7 1694.9L323.6 1690.1L323.3 1685.3L322.8 1680.6L322 1675.9L321.1 1671.3L319.9 1666.8L318.6 1662.5L317 1658.5L315.3 1654.6L313.5 1651L311.5 1647.8L309.3 1644.8L307.1 1642.2L304.7 1639.9L302.3 1638L299.8 1636.5L297.2 1635.4L294.6 1634.7L292 1634.4L289.4 1634.5L286.8 1635.1L284.3 1636.1L281.9 1637.4L279.5 1639.2L277.3 1641.4L275.1 1643.9L273.2 1646.7L271.3 1649.9L269.7 1653.4L268.3 1657.2L267 1661.2L266 1665.4L265.1 1669.8L264.6 1674.3L264.2 1679L264.1 1683.7L264.2 1688.5L264.6 1693.3L265.1 1698L266 1702.7L267 1707.3L268.3 1711.8L269.7 1716.1L271.3 1720.1L273.2 1724L275.1 1727.6L277.3 1730.8L279.5 1733.8L281.9 1736.4L284.3 1738.7L286.8 1740.6L289.4 1742.1L292 1743.2L294.6 1743.9L297.2 1744.2L299.8 1744.1L302.3 1743.5L304.7 1742.5L307.1 1741.2L309.3 1739.4L311.5 1737.2L313.5 1734.7L315.3 1731.9L317 1728.7L318.6 1725.2L319.9 1721.4L321.1 1717.4L322 1713.2L322.8 1708.8L323.3 1704.3L323.6 1699.6Z" fill="#ebdbd0"/>
<path d="M320.6 1694.3L320.5 1690L320.2 1685.8L319.7 1681.5L319 1677.4L318.2 1673.3L317.2 1669.3L316 1665.5L314.6 1661.9L313.1 1658.5L311.4 1655.3L309.6 1652.4L307.7 1649.7L305.7 1647.4L303.6 1645.4L301.4 1643.7L299.2 1642.4L296.9 1641.4L294.6 1640.8L292.3 1640.5L290 1640.6L287.7 1641.1L285.5 1642L283.3 1643.2L281.2 1644.8L279.2 1646.7L277.3 1648.9L275.6 1651.5L274 1654.3L272.5 1657.4L271.2 1660.7L270.1 1664.3L269.2 1668L268.5 1671.9L268 1676L267.6 1680.1L267.5 1684.3L267.6 1688.6L268 1692.8L268.5 1697.1L269.2 1701.2L270.1 1705.3L271.2 1709.3L272.5 1713.1L274 1716.7L275.6 1720.1L277.3 1723.3L279.2 1726.2L281.2 1728.9L283.3 1731.2L285.5 1733.2L287.7 1734.9L290 1736.2L292.3 1737.2L294.6 1737.8L296.9 1738.1L299.2 1738L301.4 1737.5L303.6 1736.6L305.7 1735.4L307.7 1733.8L309.6 1731.9L311.4 1729.7L313.1 1727.1L314.6 1724.3L316 1721.2L317.2 1717.9L318.2 1714.3L319 1710.6L319.7 1706.7L320.2 1702.6L320.5 1698.5Z" fill="#e0c9b8"/>
<path d="M317.4 1693.6L317.3 1689.9L317 1686.2L316.6 1682.5L316 1678.8L315.3 1675.3L314.4 1671.8L313.3 1668.5L312.1 1665.3L310.8 1662.3L309.3 1659.5L307.8 1657L306.1 1654.7L304.3 1652.6L302.5 1650.9L300.6 1649.4L298.6 1648.2L296.6 1647.4L294.6 1646.8L292.6 1646.6L290.6 1646.7L288.6 1647.1L286.6 1647.9L284.7 1649L282.9 1650.3L281.2 1652L279.5 1654L278 1656.2L276.6 1658.7L275.3 1661.4L274.2 1664.3L273.2 1667.4L272.4 1670.7L271.8 1674.1L271.3 1677.6L271.1 1681.3L271 1685L271.1 1688.7L271.3 1692.4L271.8 1696.1L272.4 1699.8L273.2 1703.3L274.2 1706.8L275.3 1710.1L276.6 1713.3L278 1716.3L279.5 1719.1L281.2 1721.6L282.9 1723.9L284.7 1726L286.6 1727.7L288.6 1729.2L290.6 1730.4L292.6 1731.2L294.6 1731.8L296.6 1732L298.6 1731.9L300.6 1731.5L302.5 1730.7L304.3 1729.6L306.1 1728.3L307.8 1726.6L309.3 1724.6L310.8 1722.4L312.1 1719.9L313.3 1717.2L314.4 1714.3L315.3 1711.2L316 1707.9L316.6 1704.5L317 1701L317.3 1697.3Z" fill="#d6b7a1"/>
<path d="M314.2 1693L314.1 1689.8L313.9 1686.6L313.5 1683.5L313 1680.3L312.4 1677.3L311.6 1674.3L310.7 1671.5L309.7 1668.7L308.5 1666.2L307.3 1663.8L305.9 1661.6L304.5 1659.6L302.9 1657.9L301.4 1656.4L299.7 1655.1L298 1654.1L296.3 1653.4L294.6 1652.9L292.9 1652.7L291.1 1652.8L289.4 1653.2L287.8 1653.8L286.1 1654.7L284.6 1655.9L283.1 1657.3L281.7 1659L280.4 1660.9L279.2 1663L278.1 1665.4L277.2 1667.9L276.3 1670.5L275.6 1673.4L275.1 1676.3L274.7 1679.3L274.5 1682.4L274.4 1685.6L274.5 1688.8L274.7 1692L275.1 1695.1L275.6 1698.3L276.3 1701.3L277.2 1704.3L278.1 1707.1L279.2 1709.9L280.4 1712.4L281.7 1714.8L283.1 1717L284.6 1719L286.1 1720.7L287.8 1722.2L289.4 1723.5L291.1 1724.5L292.9 1725.2L294.6 1725.7L296.3 1725.9L298 1725.8L299.7 1725.4L301.4 1724.8L302.9 1723.9L304.5 1722.7L305.9 1721.3L307.3 1719.6L308.5 1717.7L309.7 1715.6L310.7 1713.2L311.6 1710.7L312.4 1708.1L313 1705.2L313.5 1702.3L313.9 1699.3L314.1 1696.2Z" fill="#cca68a"/>
<path d="M311 1692.4L310.9 1689.7L310.7 1687.1L310.4 1684.4L310 1681.8L309.4 1679.3L308.8 1676.8L308 1674.4L307.2 1672.2L306.2 1670L305.2 1668L304 1666.2L302.8 1664.6L301.6 1663.1L300.2 1661.8L298.9 1660.8L297.5 1660L296 1659.3L294.6 1659L293.2 1658.8L291.7 1658.9L290.3 1659.2L288.9 1659.7L287.6 1660.5L286.3 1661.5L285 1662.7L283.9 1664.1L282.8 1665.7L281.8 1667.4L280.9 1669.4L280.1 1671.4L279.4 1673.7L278.8 1676L278.4 1678.5L278.1 1681L277.9 1683.6L277.8 1686.2L277.9 1688.9L278.1 1691.5L278.4 1694.2L278.8 1696.8L279.4 1699.3L280.1 1701.8L280.9 1704.2L281.8 1706.4L282.8 1708.6L283.9 1710.6L285 1712.4L286.3 1714L287.6 1715.5L288.9 1716.8L290.3 1717.8L291.7 1718.6L293.2 1719.3L294.6 1719.6L296 1719.8L297.5 1719.7L298.9 1719.4L300.2 1718.9L301.6 1718.1L302.8 1717.1L304 1715.9L305.2 1714.5L306.2 1712.9L307.2 1711.2L308 1709.2L308.8 1707.2L309.4 1704.9L310 1702.6L310.4 1700.1L310.7 1697.6L310.9 1695Z" fill="#c29472"/>
<path d="M307.7 1691.8L307.7 1689.7L307.5 1687.5L307.3 1685.4L306.9 1683.3L306.5 1681.3L306 1679.3L305.4 1677.4L304.7 1675.6L303.9 1673.9L303.1 1672.3L302.2 1670.8L301.2 1669.5L300.2 1668.3L299.1 1667.3L298 1666.5L296.9 1665.8L295.8 1665.3L294.6 1665L293.4 1664.9L292.3 1665L291.2 1665.2L290.1 1665.6L289 1666.3L287.9 1667L287 1668L286 1669.1L285.2 1670.4L284.4 1671.8L283.7 1673.3L283 1675L282.5 1676.8L282 1678.7L281.7 1680.6L281.4 1682.6L281.3 1684.7L281.2 1686.8L281.3 1688.9L281.4 1691.1L281.7 1693.2L282 1695.3L282.5 1697.3L283 1699.3L283.7 1701.2L284.4 1703L285.2 1704.7L286 1706.3L287 1707.8L287.9 1709.1L289 1710.3L290.1 1711.3L291.2 1712.1L292.3 1712.8L293.4 1713.3L294.6 1713.6L295.8 1713.7L296.9 1713.6L298 1713.4L299.1 1713L300.2 1712.3L301.2 1711.6L302.2 1710.6L303.1 1709.5L303.9 1708.2L304.7 1706.8L305.4 1705.3L306 1703.6L306.5 1701.8L306.9 1699.9L307.3 1698L307.5 1696L307.7 1693.9Z" fill="#b8825a"/>
<path d="M304.5 1691.2L304.4 1689.6L304.3 1688L304.1 1686.4L303.9 1684.8L303.5 1683.3L303.2 1681.8L302.7 1680.4L302.2 1679L301.6 1677.7L301 1676.5L300.3 1675.5L299.6 1674.5L298.8 1673.6L298 1672.8L297.2 1672.2L296.3 1671.7L295.5 1671.3L294.6 1671.1L293.7 1671L292.9 1671L292 1671.2L291.2 1671.6L290.4 1672L289.6 1672.6L288.9 1673.3L288.2 1674.2L287.5 1675.1L286.9 1676.2L286.4 1677.3L285.9 1678.6L285.5 1679.9L285.2 1681.3L284.9 1682.8L284.7 1684.3L284.6 1685.9L284.6 1687.4L284.6 1689L284.7 1690.6L284.9 1692.2L285.2 1693.8L285.5 1695.3L285.9 1696.8L286.4 1698.2L286.9 1699.6L287.5 1700.9L288.2 1702.1L288.9 1703.1L289.6 1704.1L290.4 1705L291.2 1705.8L292 1706.4L292.9 1706.9L293.7 1707.3L294.6 1707.5L295.5 1707.6L296.3 1707.6L297.2 1707.4L298 1707L298.8 1706.6L299.6 1706L300.3 1705.3L301 1704.4L301.6 1703.5L302.2 1702.4L302.7 1701.3L303.2 1700L303.5 1698.7L303.9 1697.3L304.1 1695.8L304.3 1694.3L304.4 1692.7Z" fill="#ad7043"/>
<path d="M301.2 1690.5L301.1 1688.4L300.8 1686.3L300.3 1684.3L299.7 1682.4L298.8 1680.8L297.9 1679.4L296.9 1678.3L295.7 1677.6L294.6 1677.2L293.4 1677.1L292.3 1677.5L291.3 1678.2L290.3 1679.2L289.5 1680.5L288.8 1682.2L288.3 1684L288 1686L287.9 1688.1L288 1690.2L288.3 1692.3L288.8 1694.3L289.5 1696.2L290.3 1697.8L291.3 1699.2L292.3 1700.3L293.4 1701L294.6 1701.4L295.7 1701.5L296.9 1701.1L297.9 1700.4L298.8 1699.4L299.7 1698.1L300.3 1696.4L300.8 1694.6L301.1 1692.6Z" fill="#a35e2c"/>
<path d="M297.9 1689.9L297.9 1688.9L297.7 1687.8L297.5 1686.8L297.1 1685.9L296.7 1685L296.3 1684.4L295.7 1683.8L295.2 1683.4L294.6 1683.2L294 1683.2L293.5 1683.4L292.9 1683.7L292.5 1684.3L292.1 1684.9L291.7 1685.7L291.5 1686.6L291.3 1687.6L291.3 1688.7L291.3 1689.7L291.5 1690.8L291.7 1691.8L292.1 1692.7L292.5 1693.6L292.9 1694.2L293.5 1694.8L294 1695.2L294.6 1695.4L295.2 1695.4L295.7 1695.2L296.3 1694.9L296.7 1694.3L297.1 1693.7L297.5 1692.9L297.7 1692L297.9 1691Z" fill="#994c14"/>
<path d="M326.9 1695.5L326.8 1690.2L326.4 1684.9L325.8 1679.6L325 1674.4L323.9 1669.3L322.7 1664.3L321.2 1659.6L319.5 1655L317.6 1650.8L315.6 1646.8L313.3 1643.1L311 1639.8L308.5 1636.9L305.8 1634.4L303.1 1632.3L300.3 1630.6L297.5 1629.4L294.6 1628.6L291.7 1628.3L288.8 1628.5L286 1629.1L283.2 1630.2L280.4 1631.7L277.8 1633.6L275.3 1636L272.9 1638.8L270.7 1642L268.7 1645.5L266.9 1649.4L265.3 1653.6L263.9 1658L262.7 1662.7L261.8 1667.6L261.1 1672.7L260.7 1677.8L260.6 1683.1L260.7 1688.4L261.1 1693.7L261.8 1699L262.7 1704.2L263.9 1709.3L265.3 1714.3L266.9 1719L268.7 1723.6L270.7 1727.8L272.9 1731.8L275.3 1735.5L277.8 1738.8L280.4 1741.7L283.2 1744.2L286 1746.3L288.8 1748L291.7 1749.2L294.6 1750L297.5 1750.3L300.3 1750.1L303.1 1749.5L305.8 1748.4L308.5 1746.9L311 1745L313.3 1742.6L315.6 1739.8L317.6 1736.6L319.5 1733.1L321.2 1729.2L322.7 1725L323.9 1720.6L325 1715.9L325.8 1711L326.4 1705.9L326.8 1700.8Z" fill="none" stroke="#9b4f17" stroke-width="1.4"/>
<path d="M311 1692.4L310.9 1689.7L310.7 1687.1L310.4 1684.4L310 1681.8L309.4 1679.3L308.8 1676.8L308 1674.4L307.2 1672.2L306.2 1670L305.2 1668L304 1666.2L302.8 1664.6L301.6 1663.1L300.2 1661.8L298.9 1660.8L297.5 1660L296 1659.3L294.6 1659L293.2 1658.8L291.7 1658.9L290.3 1659.2L288.9 1659.7L287.6 1660.5L286.3 1661.5L285 1662.7L283.9 1664.1L282.8 1665.7L281.8 1667.4L280.9 1669.4L280.1 1671.4L279.4 1673.7L278.8 1676L278.4 1678.5L278.1 1681L277.9 1683.6L277.8 1686.2L277.9 1688.9L278.1 1691.5L278.4 1694.2L278.8 1696.8L279.4 1699.3L280.1 1701.8L280.9 1704.2L281.8 1706.4L282.8 1708.6L283.9 1710.6L285 1712.4L286.3 1714L287.6 1715.5L288.9 1716.8L290.3 1717.8L291.7 1718.6L293.2 1719.3L294.6 1719.6L296 1719.8L297.5 1719.7L298.9 1719.4L300.2 1718.9L301.6 1718.1L302.8 1717.1L304 1715.9L305.2 1714.5L306.2 1712.9L307.2 1711.2L308 1709.2L308.8 1707.2L309.4 1704.9L310 1702.6L310.4 1700.1L310.7 1697.6L310.9 1695Z" fill="none" stroke="#9b4f17" stroke-width="3.5"/>
<circle cx="325.8" cy="1764.3" r="7.4" fill="#ff0000"/>
<circle cx="283.5" cy="1689" r="7.4" fill="#ff8c0a"/>
<circle cx="297.6" cy="1683" r="7.4" fill="#00ff00"/>
<circle cx="297.6" cy="1718.4" r="7.4" fill="#0064ff"/>
<circle cx="311.7" cy="1630.5" r="7.4" fill="#66c8ff"/>
<circle cx="297.6" cy="1732.7" r="7.4" fill="#8a1fff"/>
<circle cx="311.7" cy="1705.8" r="7.4" fill="#ff00ff"/>
<circle cx="311.7" cy="1713.4" r="7.4" fill="#cc99ff"/>
<circle cx="297.6" cy="1639.9" r="7.4" fill="#c46a28"/>
<circle cx="297.6" cy="1683.2" r="7.4" fill="#aaaaaa"/>
<circle cx="269.4" cy="1713.7" r="7.4" fill="#000000"/>
<path d="M261.7 1700.6L277.1 1700.6L269.4 1685.4Z" fill="#ff0000"/>
<path d="M289.9 1669.6L305.3 1669.6L297.6 1654.4Z" fill="#00ff00"/>
<path d="M261.7 1678L277.1 1678L269.4 1662.8Z" fill="#0064ff"/>
<path d="M261.7 1709.6L277.1 1709.6L269.4 1694.4Z" fill="#66c8ff"/>
<path d="M261.7 1697.3L277.1 1697.3L269.4 1682.1Z" fill="#8a1fff"/>
<path d="M304 1679.2L319.4 1679.2L311.7 1664Z" fill="#ff00ff"/>
<path d="M289.9 1656.2L305.3 1656.2L297.6 1641Z" fill="#ff8c0a"/>
<path d="M275.8 1694.5L291.2 1694.5L283.5 1679.3Z" fill="#cc99ff"/>
<path d="M289.9 1688.6L305.3 1688.6L297.6 1673.4Z" fill="#c46a28"/>
<path d="M289.9 1702.9L305.3 1702.9L297.6 1687.7Z" fill="#000000"/>
<path d="M510.4 1677.7L510.1 1667.3L509.4 1657L508.1 1646.8L506.3 1636.9L504 1627.2L501.3 1617.9L498.1 1609L494.5 1600.7L490.5 1592.9L486.1 1585.7L481.4 1579.2L476.4 1573.5L471.1 1568.5L465.6 1564.3L459.9 1561L454.1 1558.6L448.2 1557L442.3 1556.3L436.4 1556.6L430.5 1557.7L424.7 1559.7L419 1562.6L413.5 1566.4L408.3 1571L403.2 1576.4L398.5 1582.5L394.1 1589.4L390.1 1596.9L386.5 1604.9L383.3 1613.6L380.6 1622.7L378.3 1632.2L376.5 1642L375.2 1652.1L374.5 1662.3L374.2 1672.7L374.5 1683L375.2 1693.3L376.5 1703.5L378.3 1713.4L380.6 1723.1L383.3 1732.4L386.5 1741.3L390.1 1749.6L394.1 1757.4L398.5 1764.6L403.2 1771.1L408.2 1776.8L413.5 1781.8L419 1786L424.7 1789.3L430.5 1791.7L436.4 1793.3L442.3 1794L448.2 1793.7L454.1 1792.6L459.9 1790.6L465.6 1787.7L471.1 1783.9L476.3 1779.3L481.4 1773.9L486.1 1767.8L490.5 1760.9L494.5 1753.4L498.1 1745.4L501.3 1736.7L504 1727.6L506.3 1718.1L508.1 1708.3L509.4 1698.2L510.1 1688Z" fill="#f5ede8"/>
<path d="M503.6 1677.4L503.4 1668.1L502.7 1658.8L501.5 1649.6L499.9 1640.7L497.8 1632L495.4 1623.6L492.5 1615.7L489.3 1608.1L485.6 1601.1L481.7 1594.7L477.5 1588.8L472.9 1583.7L468.2 1579.2L463.3 1575.4L458.2 1572.4L452.9 1570.2L447.6 1568.8L442.3 1568.2L437 1568.4L431.7 1569.4L426.4 1571.3L421.3 1573.9L416.4 1577.3L411.7 1581.4L407.1 1586.3L402.9 1591.8L399 1597.9L395.3 1604.7L392.1 1612L389.2 1619.7L386.8 1627.9L384.7 1636.5L383.1 1645.3L381.9 1654.4L381.2 1663.6L381 1672.9L381.2 1682.2L381.9 1691.5L383.1 1700.7L384.7 1709.6L386.8 1718.3L389.2 1726.7L392.1 1734.6L395.3 1742.2L399 1749.2L402.9 1755.6L407.1 1761.5L411.7 1766.6L416.4 1771.1L421.3 1774.9L426.4 1777.9L431.7 1780.1L437 1781.5L442.3 1782.1L447.6 1781.9L452.9 1780.9L458.2 1779L463.3 1776.4L468.2 1773L472.9 1768.9L477.5 1764L481.7 1758.5L485.6 1752.4L489.3 1745.6L492.5 1738.3L495.4 1730.6L497.8 1722.4L499.9 1713.8L501.5 1705L502.7 1695.9L503.4 1686.7Z" fill="#ebdbd0"/>
<path d="M496.8 1677.2L496.6 1668.9L496 1660.6L494.9 1652.5L493.5 1644.5L491.7 1636.8L489.5 1629.4L486.9 1622.3L484 1615.6L480.8 1609.3L477.3 1603.6L473.5 1598.4L469.5 1593.8L465.3 1589.8L460.9 1586.5L456.4 1583.8L451.8 1581.9L447 1580.6L442.3 1580.1L437.6 1580.3L432.8 1581.2L428.2 1582.8L423.7 1585.1L419.3 1588.2L415.1 1591.8L411.1 1596.1L407.3 1601L403.8 1606.5L400.6 1612.5L397.7 1619L395.1 1625.9L392.9 1633.2L391.1 1640.8L389.7 1648.6L388.6 1656.7L388 1664.9L387.8 1673.2L388 1681.4L388.6 1689.7L389.7 1697.8L391.1 1705.8L392.9 1713.5L395.1 1720.9L397.7 1728L400.6 1734.7L403.8 1741L407.3 1746.7L411.1 1751.9L415.1 1756.5L419.3 1760.5L423.7 1763.8L428.2 1766.5L432.8 1768.4L437.6 1769.7L442.3 1770.2L447 1770L451.8 1769.1L456.4 1767.5L460.9 1765.2L465.3 1762.1L469.5 1758.5L473.5 1754.2L477.3 1749.3L480.8 1743.8L484 1737.8L486.9 1731.3L489.5 1724.4L491.7 1717.1L493.5 1709.5L494.9 1701.7L496 1693.6L496.6 1685.4Z" fill="#e0c9b8"/>
<path d="M490 1676.9L489.8 1669.6L489.2 1662.4L488.3 1655.3L487.1 1648.3L485.5 1641.6L483.6 1635.1L481.3 1628.9L478.8 1623L476 1617.6L472.9 1612.6L469.6 1608L466.1 1604L462.4 1600.5L458.6 1597.6L454.6 1595.3L450.6 1593.5L446.5 1592.4L442.3 1592L438.1 1592.1L434 1592.9L430 1594.4L426 1596.4L422.2 1599L418.5 1602.2L415 1606L411.7 1610.3L408.6 1615.1L405.8 1620.3L403.3 1626L401 1632L399.1 1638.4L397.5 1645.1L396.3 1651.9L395.4 1659L394.8 1666.2L394.6 1673.4L394.8 1680.7L395.4 1687.9L396.3 1695L397.5 1702L399.1 1708.7L401 1715.2L403.3 1721.4L405.8 1727.3L408.6 1732.7L411.7 1737.7L415 1742.3L418.5 1746.3L422.2 1749.8L426 1752.7L430 1755L434 1756.8L438.1 1757.9L442.3 1758.3L446.5 1758.2L450.6 1757.4L454.6 1755.9L458.6 1753.9L462.4 1751.3L466.1 1748.1L469.6 1744.3L472.9 1740L476 1735.2L478.8 1730L481.3 1724.3L483.6 1718.3L485.5 1711.9L487.1 1705.2L488.3 1698.4L489.2 1691.3L489.8 1684.1Z" fill="#d6b7a1"/>
<path d="M483.2 1676.7L483 1670.4L482.5 1664.2L481.8 1658.1L480.7 1652.2L479.3 1646.4L477.7 1640.8L475.8 1635.5L473.6 1630.5L471.2 1625.8L468.6 1621.5L465.7 1617.6L462.7 1614.2L459.6 1611.2L456.3 1608.7L452.9 1606.7L449.4 1605.2L445.9 1604.3L442.3 1603.9L438.7 1604L435.2 1604.7L431.7 1605.9L428.3 1607.6L425 1609.9L421.9 1612.7L418.9 1615.9L416 1619.6L413.4 1623.7L411 1628.2L408.8 1633L406.9 1638.2L405.3 1643.7L403.9 1649.4L402.8 1655.2L402.1 1661.3L401.6 1667.4L401.4 1673.7L401.6 1679.9L402.1 1686.1L402.8 1692.2L403.9 1698.1L405.3 1703.9L406.9 1709.5L408.8 1714.8L411 1719.8L413.4 1724.5L416 1728.8L418.9 1732.7L421.9 1736.1L425 1739.1L428.3 1741.6L431.7 1743.6L435.2 1745.1L438.7 1746L442.3 1746.4L445.9 1746.3L449.4 1745.6L452.9 1744.4L456.3 1742.7L459.6 1740.4L462.7 1737.6L465.7 1734.4L468.6 1730.7L471.2 1726.6L473.6 1722.1L475.8 1717.3L477.7 1712.1L479.3 1706.6L480.7 1700.9L481.8 1695.1L482.5 1689L483 1682.9Z" fill="#cca68a"/>
<path d="M476.4 1676.4L476.2 1671.2L475.8 1666.1L475.2 1661L474.3 1656L473.2 1651.2L471.8 1646.5L470.2 1642.1L468.4 1637.9L466.4 1634L464.2 1630.4L461.8 1627.2L459.3 1624.3L456.7 1621.8L453.9 1619.7L451.1 1618.1L448.2 1616.9L445.3 1616.1L442.3 1615.7L439.3 1615.9L436.4 1616.4L433.5 1617.4L430.7 1618.9L427.9 1620.8L425.3 1623.1L422.8 1625.8L420.4 1628.8L418.2 1632.3L416.2 1636L414.4 1640L412.8 1644.4L411.4 1648.9L410.3 1653.7L409.4 1658.6L408.8 1663.6L408.4 1668.7L408.2 1673.9L408.4 1679.1L408.8 1684.2L409.4 1689.3L410.3 1694.3L411.4 1699.1L412.8 1703.8L414.4 1708.2L416.2 1712.4L418.2 1716.3L420.4 1719.9L422.8 1723.1L425.3 1726L427.9 1728.5L430.7 1730.6L433.5 1732.2L436.4 1733.4L439.3 1734.2L442.3 1734.6L445.3 1734.4L448.2 1733.9L451.1 1732.9L453.9 1731.4L456.7 1729.5L459.3 1727.2L461.8 1724.5L464.2 1721.5L466.4 1718L468.4 1714.3L470.2 1710.3L471.8 1705.9L473.2 1701.4L474.3 1696.6L475.2 1691.7L475.8 1686.7L476.2 1681.6Z" fill="#c29472"/>
<path d="M469.5 1676.2L469.4 1672L469.1 1667.9L468.6 1663.8L467.9 1659.8L467 1656L465.9 1652.3L464.6 1648.7L463.2 1645.4L461.6 1642.2L459.8 1639.4L457.9 1636.8L455.9 1634.5L453.8 1632.5L451.6 1630.8L449.4 1629.5L447 1628.5L444.7 1627.9L442.3 1627.6L439.9 1627.7L437.6 1628.2L435.2 1629L433 1630.1L430.8 1631.7L428.7 1633.5L426.7 1635.6L424.8 1638.1L423 1640.8L421.4 1643.8L420 1647.1L418.7 1650.5L417.6 1654.2L416.7 1658L416 1661.9L415.5 1665.9L415.2 1670L415.1 1674.2L415.2 1678.3L415.5 1682.4L416 1686.5L416.7 1690.5L417.6 1694.3L418.7 1698L420 1701.6L421.4 1704.9L423 1708.1L424.8 1710.9L426.7 1713.5L428.7 1715.8L430.8 1717.8L433 1719.5L435.2 1720.8L437.6 1721.8L439.9 1722.4L442.3 1722.7L444.7 1722.6L447 1722.1L449.4 1721.3L451.6 1720.2L453.8 1718.6L455.9 1716.8L457.9 1714.7L459.8 1712.2L461.6 1709.5L463.2 1706.5L464.6 1703.2L465.9 1699.8L467 1696.1L467.9 1692.3L468.6 1688.4L469.1 1684.4L469.4 1680.3Z" fill="#b8825a"/>
<path d="M462.7 1675.9L462.7 1672.8L462.4 1669.7L462 1666.6L461.5 1663.7L460.8 1660.8L460 1658L459 1655.3L458 1652.8L456.7 1650.5L455.4 1648.3L454 1646.4L452.5 1644.7L450.9 1643.2L449.3 1641.9L447.6 1640.9L445.8 1640.2L444.1 1639.7L442.3 1639.5L440.5 1639.6L438.8 1639.9L437 1640.5L435.3 1641.4L433.7 1642.5L432.1 1643.9L430.6 1645.5L429.2 1647.4L427.9 1649.4L426.6 1651.7L425.6 1654.1L424.6 1656.7L423.8 1659.4L423.1 1662.3L422.6 1665.2L422.2 1668.2L421.9 1671.3L421.9 1674.4L421.9 1677.5L422.2 1680.6L422.6 1683.7L423.1 1686.6L423.8 1689.5L424.6 1692.3L425.6 1695L426.6 1697.5L427.9 1699.8L429.2 1702L430.6 1703.9L432.1 1705.6L433.7 1707.1L435.3 1708.4L437 1709.4L438.8 1710.1L440.5 1710.6L442.3 1710.8L444.1 1710.7L445.8 1710.4L447.6 1709.8L449.3 1708.9L450.9 1707.8L452.5 1706.4L454 1704.8L455.4 1702.9L456.7 1700.9L458 1698.6L459 1696.2L460 1693.6L460.8 1690.9L461.5 1688L462 1685.1L462.4 1682.1L462.7 1679Z" fill="#ad7043"/>
<path d="M455.9 1675.7L455.7 1671.5L455.1 1667.5L454.1 1663.7L452.7 1660.3L451.1 1657.3L449.1 1654.8L447 1653L444.7 1651.8L442.3 1651.4L439.9 1651.7L437.6 1652.6L435.5 1654.3L433.5 1656.6L431.9 1659.5L430.5 1662.8L429.5 1666.6L428.9 1670.5L428.7 1674.7L428.9 1678.8L429.5 1682.8L430.5 1686.6L431.9 1690L433.5 1693L435.5 1695.5L437.6 1697.3L439.9 1698.5L442.3 1698.9L444.7 1698.6L447 1697.7L449.1 1696L451.1 1693.7L452.7 1690.8L454.1 1687.5L455.1 1683.7L455.7 1679.8Z" fill="#a35e2c"/>
<path d="M449.1 1675.4L449 1673.3L448.7 1671.3L448.2 1669.4L447.5 1667.7L446.7 1666.2L445.7 1665L444.6 1664.1L443.5 1663.5L442.3 1663.3L441.1 1663.4L440 1663.9L438.9 1664.7L437.9 1665.9L437.1 1667.3L436.4 1669L435.9 1670.9L435.6 1672.8L435.5 1674.9L435.6 1677L435.9 1679L436.4 1680.9L437.1 1682.6L437.9 1684.1L438.9 1685.3L440 1686.2L441.1 1686.8L442.3 1687L443.5 1686.9L444.6 1686.4L445.7 1685.6L446.7 1684.4L447.5 1683L448.2 1681.3L448.7 1679.4L449 1677.5Z" fill="#994c14"/>
<path d="M510.4 1677.7L510.1 1667.3L509.4 1657L508.1 1646.8L506.3 1636.9L504 1627.2L501.3 1617.9L498.1 1609L494.5 1600.7L490.5 1592.9L486.1 1585.7L481.4 1579.2L476.4 1573.5L471.1 1568.5L465.6 1564.3L459.9 1561L454.1 1558.6L448.2 1557L442.3 1556.3L436.4 1556.6L430.5 1557.7L424.7 1559.7L419 1562.6L413.5 1566.4L408.3 1571L403.2 1576.4L398.5 1582.5L394.1 1589.4L390.1 1596.9L386.5 1604.9L383.3 1613.6L380.6 1622.7L378.3 1632.2L376.5 1642L375.2 1652.1L374.5 1662.3L374.2 1672.7L374.5 1683L375.2 1693.3L376.5 1703.5L378.3 1713.4L380.6 1723.1L383.3 1732.4L386.5 1741.3L390.1 1749.6L394.1 1757.4L398.5 1764.6L403.2 1771.1L408.2 1776.8L413.5 1781.8L419 1786L424.7 1789.3L430.5 1791.7L436.4 1793.3L442.3 1794L448.2 1793.7L454.1 1792.6L459.9 1790.6L465.6 1787.7L471.1 1783.9L476.3 1779.3L481.4 1773.9L486.1 1767.8L490.5 1760.9L494.5 1753.4L498.1 1745.4L501.3 1736.7L504 1727.6L506.3 1718.1L508.1 1708.3L509.4 1698.2L510.1 1688Z" fill="none" stroke="#9b4f17" stroke-width="1.4"/>
<path d="M476.4 1676.4L476.2 1671.2L475.8 1666.1L475.2 1661L474.3 1656L473.2 1651.2L471.8 1646.5L470.2 1642.1L468.4 1637.9L466.4 1634L464.2 1630.4L461.8 1627.2L459.3 1624.3L456.7 1621.8L453.9 1619.7L451.1 1618.1L448.2 1616.9L445.3 1616.1L442.3 1615.7L439.3 1615.9L436.4 1616.4L433.5 1617.4L430.7 1618.9L427.9 1620.8L425.3 1623.1L422.8 1625.8L420.4 1628.8L418.2 1632.3L416.2 1636L414.4 1640L412.8 1644.4L411.4 1648.9L410.3 1653.7L409.4 1658.6L408.8 1663.6L408.4 1668.7L408.2 1673.9L408.4 1679.1L408.8 1684.2L409.4 1689.3L410.3 1694.3L411.4 1699.1L412.8 1703.8L414.4 1708.2L416.2 1712.4L418.2 1716.3L420.4 1719.9L422.8 1723.1L425.3 1726L427.9 1728.5L430.7 1730.6L433.5 1732.2L436.4 1733.4L439.3 1734.2L442.3 1734.6L445.3 1734.4L448.2 1733.9L451.1 1732.9L453.9 1731.4L456.7 1729.5L459.3 1727.2L461.8 1724.5L464.2 1721.5L466.4 1718L468.4 1714.3L470.2 1710.3L471.8 1705.9L473.2 1701.4L474.3 1696.6L475.2 1691.7L475.8 1686.7L476.2 1681.6Z" fill="none" stroke="#9b4f17" stroke-width="3.5"/>
<circle cx="509.3" cy="1819.2" r="7.4" fill="#ff0000"/>
<circle cx="424.6" cy="1674.2" r="7.4" fill="#ff8c0a"/>
<circle cx="452.9" cy="1665" r="7.4" fill="#00ff00"/>
<circle cx="452.9" cy="1732.9" r="7.4" fill="#0064ff"/>
<circle cx="495.2" cy="1557.6" r="7.4" fill="#66c8ff"/>
<circle cx="438.8" cy="1759.8" r="7.4" fill="#8a1fff"/>
<circle cx="481.1" cy="1710.8" r="7.4" fill="#ff00ff"/>
<circle cx="467" cy="1723.5" r="7.4" fill="#cc99ff"/>
<circle cx="452.9" cy="1577.1" r="7.4" fill="#c46a28"/>
<circle cx="452.9" cy="1665.4" r="7.4" fill="#aaaaaa"/>
<circle cx="382.3" cy="1724.5" r="7.4" fill="#000000"/>
<path d="M374.6 1691.3L390 1691.3L382.3 1676.1Z" fill="#ff0000"/>
<path d="M431.1 1628.9L446.5 1628.9L438.8 1613.7Z" fill="#00ff00"/>
<path d="M388.7 1646L404.1 1646L396.4 1630.8Z" fill="#0064ff"/>
<path d="M388.7 1707.1L404.1 1707.1L396.4 1691.9Z" fill="#66c8ff"/>
<path d="M402.8 1685.3L418.2 1685.3L410.5 1670.1Z" fill="#8a1fff"/>
<path d="M459.3 1647.7L474.7 1647.7L467 1632.5Z" fill="#ff00ff"/>
<path d="M445.2 1602.4L460.6 1602.4L452.9 1587.2Z" fill="#ff8c0a"/>
<path d="M416.9 1677.6L432.3 1677.6L424.6 1662.4Z" fill="#cc99ff"/>
<path d="M459.3 1667.2L474.7 1667.2L467 1652Z" fill="#c46a28"/>
<path d="M445.2 1695.4L460.6 1695.4L452.9 1680.2Z" fill="#000000"/>
<path d="M694.5 1665.5L694.1 1650.3L693 1635.2L691.1 1620.2L688.4 1605.6L685.1 1591.4L681 1577.7L676.3 1564.6L671 1552.3L665.1 1540.8L658.6 1530.2L651.7 1520.6L644.3 1512L636.5 1504.6L628.4 1498.4L620.1 1493.4L611.5 1489.7L602.9 1487.3L594.1 1486.2L585.3 1486.4L576.7 1488L568.1 1490.8L559.8 1495L551.7 1500.4L543.9 1507L536.5 1514.8L529.6 1523.8L523.1 1533.7L517.2 1544.6L511.9 1556.4L507.2 1569L503.1 1582.3L499.8 1596.2L497.1 1610.6L495.2 1625.3L494.1 1640.4L493.7 1655.5L494.1 1670.8L495.2 1685.9L497.1 1700.9L499.8 1715.5L503.1 1729.7L507.2 1743.4L511.9 1756.5L517.2 1768.8L523.1 1780.3L529.6 1790.9L536.5 1800.5L543.9 1809.1L551.7 1816.5L559.8 1822.7L568.1 1827.7L576.7 1831.4L585.3 1833.8L594.1 1834.9L602.9 1834.7L611.5 1833.1L620.1 1830.3L628.4 1826.1L636.5 1820.7L644.3 1814.1L651.7 1806.3L658.6 1797.3L665.1 1787.4L671 1776.5L676.3 1764.7L681 1752.1L685.1 1738.8L688.4 1724.9L691.1 1710.5L693 1695.8L694.1 1680.7Z" fill="#f5ede8"/>
<path d="M684.5 1665L684.1 1651.4L683.1 1637.7L681.4 1624.3L679 1611.1L676 1598.3L672.4 1586L668.1 1574.2L663.3 1563.1L658 1552.8L652.2 1543.2L645.9 1534.6L639.3 1526.9L632.3 1520.2L625 1514.6L617.5 1510.1L609.8 1506.8L602 1504.6L594.1 1503.6L586.2 1503.8L578.4 1505.2L570.7 1507.8L563.2 1511.5L555.9 1516.4L548.9 1522.4L542.3 1529.4L536 1537.4L530.2 1546.4L524.9 1556.2L520.1 1566.8L515.8 1578.2L512.2 1590.1L509.2 1602.6L506.8 1615.6L505.1 1628.9L504.1 1642.4L503.7 1656L504.1 1669.7L505.1 1683.4L506.8 1696.8L509.2 1710L512.2 1722.8L515.8 1735.1L520.1 1746.9L524.9 1758L530.2 1768.3L536 1777.9L542.3 1786.5L548.9 1794.2L555.9 1800.9L563.2 1806.5L570.7 1811L578.4 1814.3L586.2 1816.5L594.1 1817.5L602 1817.3L609.8 1815.9L617.5 1813.3L625 1809.6L632.3 1804.7L639.3 1798.7L645.9 1791.7L652.2 1783.7L658 1774.7L663.3 1764.9L668.1 1754.3L672.4 1742.9L676 1731L679 1718.5L681.4 1705.5L683.1 1692.2L684.1 1678.7Z" fill="#ebdbd0"/>
<path d="M674.4 1664.5L674.1 1652.4L673.2 1640.3L671.7 1628.3L669.6 1616.6L666.9 1605.2L663.7 1594.3L659.9 1583.8L655.6 1573.9L650.9 1564.7L645.7 1556.3L640.2 1548.6L634.3 1541.7L628 1535.8L621.6 1530.8L614.9 1526.8L608 1523.9L601.1 1521.9L594.1 1521L587.1 1521.2L580.2 1522.5L573.3 1524.8L566.6 1528.1L560.2 1532.4L553.9 1537.7L548 1544L542.5 1551.1L537.3 1559.1L532.6 1567.8L528.3 1577.3L524.5 1587.3L521.3 1598L518.6 1609.1L516.5 1620.6L515 1632.4L514.1 1644.4L513.8 1656.5L514.1 1668.7L515 1680.8L516.5 1692.8L518.6 1704.5L521.3 1715.9L524.5 1726.8L528.3 1737.3L532.6 1747.2L537.3 1756.4L542.5 1764.8L548 1772.5L553.9 1779.4L560.2 1785.3L566.6 1790.3L573.3 1794.3L580.2 1797.2L587.1 1799.2L594.1 1800.1L601.1 1799.9L608 1798.6L614.9 1796.3L621.6 1793L628 1788.7L634.3 1783.4L640.2 1777.1L645.7 1770L650.9 1762L655.6 1753.3L659.9 1743.8L663.7 1733.8L666.9 1723.1L669.6 1712L671.7 1700.5L673.2 1688.7L674.1 1676.7Z" fill="#e0c9b8"/>
<path d="M664.4 1664L664.1 1653.4L663.3 1642.8L662 1632.3L660.1 1622.1L657.8 1612.1L655 1602.5L651.7 1593.4L647.9 1584.8L643.8 1576.7L639.3 1569.3L634.4 1562.6L629.2 1556.6L623.8 1551.4L618.1 1547L612.3 1543.6L606.3 1540.9L600.2 1539.3L594.1 1538.5L588 1538.6L581.9 1539.7L575.9 1541.7L570.1 1544.6L564.4 1548.4L559 1553.1L553.8 1558.6L548.9 1564.8L544.4 1571.8L540.3 1579.4L536.5 1587.7L533.2 1596.5L530.4 1605.8L528.1 1615.5L526.2 1625.6L524.9 1635.9L524.1 1646.4L523.8 1657L524.1 1667.7L524.9 1678.3L526.2 1688.8L528.1 1699L530.4 1709L533.2 1718.6L536.5 1727.7L540.3 1736.3L544.4 1744.4L548.9 1751.8L553.8 1758.5L559 1764.5L564.4 1769.7L570.1 1774.1L575.9 1777.5L581.9 1780.2L588 1781.8L594.1 1782.6L600.2 1782.5L606.3 1781.4L612.3 1779.4L618.1 1776.5L623.8 1772.7L629.2 1768L634.4 1762.5L639.3 1756.3L643.8 1749.3L647.9 1741.7L651.7 1733.4L655 1724.6L657.8 1715.3L660.1 1705.6L662 1695.5L663.3 1685.2L664.1 1674.7Z" fill="#d6b7a1"/>
<path d="M654.3 1663.5L654.1 1654.4L653.4 1645.3L652.3 1636.4L650.7 1627.6L648.7 1619.1L646.3 1610.8L643.4 1603L640.2 1595.6L636.7 1588.7L632.8 1582.3L628.7 1576.6L624.2 1571.4L619.6 1567L614.7 1563.3L609.7 1560.3L604.6 1558L599.4 1556.6L594.1 1555.9L588.8 1556.1L583.6 1557L578.5 1558.7L573.5 1561.2L568.6 1564.5L564 1568.4L559.5 1573.1L555.4 1578.5L551.5 1584.4L548 1591L544.8 1598.1L541.9 1605.6L539.5 1613.6L537.5 1621.9L535.9 1630.6L534.8 1639.4L534.1 1648.4L533.9 1657.5L534.1 1666.7L534.8 1675.8L535.9 1684.7L537.5 1693.5L539.5 1702L541.9 1710.3L544.8 1718.1L548 1725.5L551.5 1732.4L555.4 1738.8L559.5 1744.5L564 1749.7L568.6 1754.1L573.5 1757.8L578.5 1760.8L583.6 1763.1L588.8 1764.5L594.1 1765.2L599.4 1765L604.6 1764.1L609.7 1762.4L614.7 1759.9L619.6 1756.6L624.2 1752.7L628.7 1748L632.8 1742.6L636.7 1736.7L640.2 1730.1L643.4 1723L646.3 1715.5L648.7 1707.5L650.7 1699.2L652.3 1690.5L653.4 1681.7L654.1 1672.7Z" fill="#cca68a"/>
<path d="M644.3 1663L644.1 1655.4L643.5 1647.9L642.6 1640.4L641.3 1633.1L639.6 1626L637.6 1619.1L635.2 1612.6L632.6 1606.4L629.6 1600.7L626.4 1595.4L622.9 1590.6L619.2 1586.3L615.3 1582.6L611.3 1579.5L607.1 1577L602.8 1575.1L598.5 1573.9L594.1 1573.4L589.7 1573.5L585.4 1574.3L581.1 1575.7L576.9 1577.8L572.9 1580.5L569 1583.8L565.3 1587.7L561.8 1592.2L558.6 1597.1L555.6 1602.6L553 1608.5L550.6 1614.8L548.6 1621.4L546.9 1628.4L545.6 1635.6L544.7 1642.9L544.1 1650.5L543.9 1658L544.1 1665.7L544.7 1673.2L545.6 1680.7L546.9 1688L548.6 1695.1L550.6 1702L553 1708.5L555.6 1714.7L558.6 1720.4L561.8 1725.7L565.3 1730.5L569 1734.8L572.9 1738.5L576.9 1741.6L581.1 1744.1L585.4 1746L589.7 1747.2L594.1 1747.7L598.5 1747.6L602.8 1746.8L607.1 1745.4L611.3 1743.3L615.3 1740.6L619.2 1737.3L622.9 1733.4L626.4 1728.9L629.6 1724L632.6 1718.5L635.2 1712.6L637.6 1706.3L639.6 1699.7L641.3 1692.7L642.6 1685.5L643.5 1678.2L644.1 1670.6Z" fill="#c29472"/>
<path d="M634.3 1662.5L634.1 1656.5L633.6 1650.4L632.9 1644.4L631.8 1638.6L630.5 1632.9L628.9 1627.4L627 1622.2L624.9 1617.2L622.5 1612.6L619.9 1608.4L617.1 1604.6L614.2 1601.1L611.1 1598.2L607.8 1595.7L604.5 1593.7L601.1 1592.2L597.6 1591.2L594.1 1590.8L590.6 1590.9L587.1 1591.5L583.7 1592.7L580.4 1594.3L577.1 1596.5L574 1599.1L571.1 1602.3L568.3 1605.8L565.7 1609.8L563.3 1614.2L561.2 1618.9L559.3 1623.9L557.7 1629.3L556.4 1634.8L555.3 1640.6L554.6 1646.5L554.1 1652.5L553.9 1658.5L554.1 1664.6L554.6 1670.7L555.3 1676.7L556.4 1682.5L557.7 1688.2L559.3 1693.7L561.2 1698.9L563.3 1703.9L565.7 1708.5L568.3 1712.7L571.1 1716.5L574 1720L577.1 1722.9L580.4 1725.4L583.7 1727.4L587.1 1728.9L590.6 1729.9L594.1 1730.3L597.6 1730.2L601.1 1729.6L604.5 1728.4L607.8 1726.8L611.1 1724.6L614.2 1722L617.1 1718.8L619.9 1715.3L622.5 1711.3L624.9 1706.9L627 1702.2L628.9 1697.2L630.5 1691.8L631.8 1686.3L632.9 1680.5L633.6 1674.6L634.1 1668.6Z" fill="#b8825a"/>
<path d="M624.2 1662L624.1 1657.5L623.8 1652.9L623.2 1648.5L622.4 1644.1L621.4 1639.8L620.2 1635.7L618.8 1631.8L617.2 1628.1L615.4 1624.6L613.5 1621.4L611.4 1618.6L609.2 1616L606.8 1613.8L604.4 1611.9L601.9 1610.4L599.3 1609.3L596.7 1608.6L594.1 1608.2L591.5 1608.3L588.9 1608.8L586.3 1609.6L583.8 1610.9L581.4 1612.5L579 1614.5L576.8 1616.8L574.7 1619.5L572.8 1622.5L571 1625.8L569.4 1629.3L568 1633.1L566.8 1637.1L565.8 1641.2L565 1645.6L564.4 1650L564.1 1654.5L564 1659L564.1 1663.6L564.4 1668.2L565 1672.6L565.8 1677L566.8 1681.3L568 1685.4L569.4 1689.3L571 1693L572.8 1696.5L574.7 1699.7L576.8 1702.5L579 1705.1L581.4 1707.3L583.8 1709.2L586.3 1710.7L588.9 1711.8L591.5 1712.5L594.1 1712.9L596.7 1712.8L599.3 1712.3L601.9 1711.5L604.4 1710.2L606.8 1708.6L609.2 1706.6L611.4 1704.3L613.5 1701.6L615.4 1698.6L617.2 1695.3L618.8 1691.8L620.2 1688L621.4 1684L622.4 1679.9L623.2 1675.5L623.8 1671.1L624.1 1666.6Z" fill="#ad7043"/>
<path d="M614.2 1661.5L613.9 1655.5L613 1649.6L611.5 1644L609.5 1638.9L607 1634.5L604.1 1630.8L601 1628.1L597.6 1626.4L594.1 1625.7L590.6 1626L587.2 1627.4L584.1 1629.8L581.2 1633.2L578.7 1637.4L576.7 1642.2L575.2 1647.7L574.3 1653.5L574 1659.5L574.3 1665.6L575.2 1671.5L576.7 1677.1L578.7 1682.2L581.2 1686.6L584.1 1690.3L587.2 1693L590.6 1694.7L594.1 1695.4L597.6 1695.1L601 1693.7L604.1 1691.3L607 1687.9L609.5 1683.7L611.5 1678.9L613 1673.4L613.9 1667.6Z" fill="#a35e2c"/>
<path d="M604.1 1661L604 1658L603.5 1655.1L602.8 1652.3L601.8 1649.7L600.6 1647.5L599.1 1645.7L597.5 1644.3L595.8 1643.5L594.1 1643.1L592.4 1643.3L590.7 1644L589.1 1645.2L587.6 1646.9L586.4 1649L585.4 1651.4L584.7 1654.1L584.2 1657L584.1 1660L584.2 1663.1L584.7 1666L585.4 1668.8L586.4 1671.4L587.6 1673.6L589.1 1675.4L590.7 1676.8L592.4 1677.6L594.1 1678L595.8 1677.8L597.5 1677.1L599.1 1675.9L600.6 1674.2L601.8 1672.1L602.8 1669.7L603.5 1667L604 1664.1Z" fill="#994c14"/>
<path d="M694.5 1665.5L694.1 1650.3L693 1635.2L691.1 1620.2L688.4 1605.6L685.1 1591.4L681 1577.7L676.3 1564.6L671 1552.3L665.1 1540.8L658.6 1530.2L651.7 1520.6L644.3 1512L636.5 1504.6L628.4 1498.4L620.1 1493.4L611.5 1489.7L602.9 1487.3L594.1 1486.2L585.3 1486.4L576.7 1488L568.1 1490.8L559.8 1495L551.7 1500.4L543.9 1507L536.5 1514.8L529.6 1523.8L523.1 1533.7L517.2 1544.6L511.9 1556.4L507.2 1569L503.1 1582.3L499.8 1596.2L497.1 1610.6L495.2 1625.3L494.1 1640.4L493.7 1655.5L494.1 1670.8L495.2 1685.9L497.1 1700.9L499.8 1715.5L503.1 1729.7L507.2 1743.4L511.9 1756.5L517.2 1768.8L523.1 1780.3L529.6 1790.9L536.5 1800.5L543.9 1809.1L551.7 1816.5L559.8 1822.7L568.1 1827.7L576.7 1831.4L585.3 1833.8L594.1 1834.9L602.9 1834.7L611.5 1833.1L620.1 1830.3L628.4 1826.1L636.5 1820.7L644.3 1814.1L651.7 1806.3L658.6 1797.3L665.1 1787.4L671 1776.5L676.3 1764.7L681 1752.1L685.1 1738.8L688.4 1724.9L691.1 1710.5L693 1695.8L694.1 1680.7Z" fill="none" stroke="#9b4f17" stroke-width="1.4"/>
<path d="M644.3 1663L644.1 1655.4L643.5 1647.9L642.6 1640.4L641.3 1633.1L639.6 1626L637.6 1619.1L635.2 1612.6L632.6 1606.4L629.6 1600.7L626.4 1595.4L622.9 1590.6L619.2 1586.3L615.3 1582.6L611.3 1579.5L607.1 1577L602.8 1575.1L598.5 1573.9L594.1 1573.4L589.7 1573.5L585.4 1574.3L581.1 1575.7L576.9 1577.8L572.9 1580.5L569 1583.8L565.3 1587.7L561.8 1592.2L558.6 1597.1L555.6 1602.6L553 1608.5L550.6 1614.8L548.6 1621.4L546.9 1628.4L545.6 1635.6L544.7 1642.9L544.1 1650.5L543.9 1658L544.1 1665.7L544.7 1673.2L545.6 1680.7L546.9 1688L548.6 1695.1L550.6 1702L553 1708.5L555.6 1714.7L558.6 1720.4L561.8 1725.7L565.3 1730.5L569 1734.8L572.9 1738.5L576.9 1741.6L581.1 1744.1L585.4 1746L589.7 1747.2L594.1 1747.7L598.5 1747.6L602.8 1746.8L607.1 1745.4L611.3 1743.3L615.3 1740.6L619.2 1737.3L622.9 1733.4L626.4 1728.9L629.6 1724L632.6 1718.5L635.2 1712.6L637.6 1706.3L639.6 1699.7L641.3 1692.7L642.6 1685.5L643.5 1678.2L644.1 1670.6Z" fill="none" stroke="#9b4f17" stroke-width="3.5"/>
<circle cx="692.9" cy="1867.3" r="7.4" fill="#ff0000"/>
<circle cx="565.8" cy="1660.7" r="7.4" fill="#ff8c0a"/>
<circle cx="594" cy="1647" r="7.4" fill="#00ff00"/>
<circle cx="608.2" cy="1745.4" r="7.4" fill="#0064ff"/>
<circle cx="594" cy="1784.6" r="7.4" fill="#8a1fff"/>
<circle cx="608.2" cy="1513.3" r="7.4" fill="#c46a28"/>
<circle cx="608.2" cy="1647" r="7.4" fill="#aaaaaa"/>
<circle cx="509.3" cy="1733.6" r="7.4" fill="#000000"/>
<path d="M501.6 1682.3L517 1682.3L509.3 1667.1Z" fill="#ff0000"/>
<path d="M586.3 1587.9L601.7 1587.9L594 1572.7Z" fill="#00ff00"/>
<path d="M515.8 1614.4L531.2 1614.4L523.5 1599.2Z" fill="#0064ff"/>
<path d="M515.8 1705.4L531.2 1705.4L523.5 1690.2Z" fill="#66c8ff"/>
<path d="M529.9 1672.2L545.3 1672.2L537.6 1657Z" fill="#8a1fff"/>
<path d="M600.5 1548.6L615.9 1548.6L608.2 1533.4Z" fill="#ff8c0a"/>
<path d="M558.1 1662.5L573.5 1662.5L565.8 1647.3Z" fill="#cc99ff"/>
<path d="M880.4 1646.6L879.9 1627L878.3 1607.5L875.7 1588.4L872.1 1569.6L867.5 1551.5L862 1534.1L855.6 1517.5L848.3 1502L840.2 1487.5L831.4 1474.2L821.9 1462.3L811.8 1451.7L801.3 1442.7L790.2 1435.2L778.9 1429.3L767.3 1425L755.5 1422.5L743.6 1421.6L731.7 1422.5L720 1425L708.4 1429.3L697.1 1435.2L686.2 1442.7L675.7 1451.7L665.7 1462.3L656.4 1474.2L647.7 1487.5L639.7 1502L632.5 1517.5L626.2 1534.1L620.7 1551.5L616.2 1569.6L612.7 1588.4L610.1 1607.5L608.6 1627L608.1 1646.6L608.6 1666.2L610.1 1685.7L612.7 1704.8L616.2 1723.6L620.7 1741.7L626.2 1759.1L632.5 1775.7L639.7 1791.2L647.7 1805.7L656.4 1819L665.7 1830.9L675.7 1841.5L686.2 1850.5L697.1 1858L708.4 1863.9L720 1868.2L731.7 1870.7L743.6 1871.6L755.5 1870.7L767.3 1868.2L778.9 1863.9L790.2 1858L801.3 1850.5L811.8 1841.5L821.9 1830.9L831.4 1819L840.2 1805.7L848.3 1791.2L855.6 1775.7L862 1759.1L867.5 1741.7L872.1 1723.6L875.7 1704.8L878.3 1685.7L879.9 1666.2Z" fill="#f5ede8"/>
<path d="M866.7 1646.6L866.2 1629L864.8 1611.4L862.5 1594.2L859.2 1577.3L855.1 1561L850.1 1545.3L844.3 1530.5L837.8 1516.4L830.5 1503.4L822.6 1491.5L814.1 1480.7L805 1471.2L795.5 1463.1L785.6 1456.3L775.3 1451L764.9 1447.2L754.3 1444.9L743.6 1444.1L732.9 1444.9L722.3 1447.2L711.9 1451L701.8 1456.3L691.9 1463.1L682.5 1471.2L673.5 1480.7L665.1 1491.5L657.2 1503.4L650 1516.4L643.6 1530.5L637.9 1545.3L633 1561L628.9 1577.3L625.7 1594.2L623.4 1611.4L622.1 1629L621.6 1646.6L622.1 1664.2L623.4 1681.8L625.7 1699L628.9 1715.9L633 1732.2L637.9 1747.8L643.6 1762.7L650 1776.8L657.2 1789.8L665.1 1801.7L673.5 1812.5L682.5 1822L691.9 1830.1L701.8 1836.9L711.9 1842.2L722.3 1846L732.9 1848.3L743.6 1849.1L754.3 1848.3L764.9 1846L775.3 1842.2L785.6 1836.9L795.5 1830.1L805 1822L814.1 1812.5L822.6 1801.7L830.5 1789.8L837.8 1776.8L844.3 1762.7L850.1 1747.8L855.1 1732.2L859.2 1715.9L862.5 1699L864.8 1681.8L866.2 1664.2Z" fill="#ebdbd0"/>
<path d="M852.9 1646.6L852.5 1630.9L851.3 1615.3L849.2 1600L846.3 1585L842.7 1570.5L838.2 1556.6L833.1 1543.4L827.3 1530.9L820.8 1519.3L813.8 1508.7L806.2 1499.2L798.2 1490.7L789.7 1483.5L780.9 1477.5L771.8 1472.7L762.5 1469.3L753.1 1467.3L743.6 1466.6L734.1 1467.3L724.7 1469.3L715.4 1472.7L706.4 1477.5L697.6 1483.5L689.2 1490.7L681.3 1499.2L673.8 1508.7L666.8 1519.3L660.4 1530.9L654.7 1543.4L649.6 1556.6L645.2 1570.5L641.6 1585L638.8 1600L636.7 1615.3L635.5 1630.9L635.1 1646.6L635.5 1662.3L636.7 1677.9L638.8 1693.2L641.6 1708.2L645.2 1722.7L649.6 1736.6L654.7 1749.8L660.4 1762.3L666.8 1773.9L673.8 1784.5L681.3 1794L689.2 1802.5L697.6 1809.7L706.4 1815.7L715.4 1820.5L724.7 1823.9L734.1 1825.9L743.6 1826.6L753.1 1825.9L762.5 1823.9L771.8 1820.5L780.9 1815.7L789.7 1809.7L798.2 1802.5L806.2 1794L813.8 1784.5L820.8 1773.9L827.3 1762.3L833.1 1749.8L838.2 1736.6L842.7 1722.7L846.3 1708.2L849.2 1693.2L851.3 1677.9L852.5 1662.3Z" fill="#e0c9b8"/>
<path d="M839.2 1646.6L838.9 1632.9L837.8 1619.3L836 1605.8L833.4 1592.7L830.2 1580L826.4 1567.8L821.9 1556.3L816.8 1545.4L811.1 1535.2L805 1525.9L798.4 1517.6L791.3 1510.2L783.9 1503.9L776.2 1498.6L768.3 1494.5L760.2 1491.5L751.9 1489.7L743.6 1489.1L735.3 1489.7L727.1 1491.5L719 1494.5L711 1498.6L703.4 1503.9L696 1510.2L689 1517.6L682.5 1525.9L676.4 1535.2L670.8 1545.4L665.7 1556.3L661.3 1567.8L657.5 1580L654.3 1592.7L651.8 1605.8L650.1 1619.3L649 1632.9L648.6 1646.6L649 1660.3L650.1 1673.9L651.8 1687.4L654.3 1700.5L657.5 1713.2L661.3 1725.3L665.7 1736.9L670.8 1747.8L676.4 1758L682.5 1767.3L689 1775.6L696 1783L703.4 1789.3L711 1794.6L719 1798.7L727.1 1801.7L735.3 1803.5L743.6 1804.1L751.9 1803.5L760.2 1801.7L768.3 1798.7L776.2 1794.6L783.9 1789.3L791.3 1783L798.4 1775.6L805 1767.3L811.1 1758L816.8 1747.8L821.9 1736.9L826.4 1725.3L830.2 1713.2L833.4 1700.5L836 1687.4L837.8 1673.9L838.9 1660.3Z" fill="#d6b7a1"/>
<path d="M825.5 1646.6L825.2 1634.8L824.3 1623.2L822.7 1611.7L820.6 1600.4L817.8 1589.5L814.5 1579.1L810.7 1569.2L806.3 1559.8L801.5 1551.1L796.2 1543.2L790.5 1536L784.5 1529.7L778.2 1524.2L771.6 1519.7L764.8 1516.2L757.8 1513.7L750.7 1512.1L743.6 1511.6L736.5 1512.1L729.4 1513.7L722.5 1516.2L715.7 1519.7L709.1 1524.2L702.8 1529.7L696.8 1536L691.2 1543.2L686 1551.1L681.2 1559.8L676.8 1569.2L673 1579.1L669.8 1589.5L667 1600.4L664.9 1611.7L663.4 1623.2L662.5 1634.8L662.1 1646.6L662.5 1658.4L663.4 1670L664.9 1681.5L667 1692.8L669.8 1703.7L673 1714.1L676.8 1724L681.2 1733.4L686 1742.1L691.2 1750L696.8 1757.2L702.8 1763.5L709.1 1769L715.7 1773.5L722.5 1777L729.4 1779.5L736.5 1781.1L743.6 1781.6L750.7 1781.1L757.8 1779.5L764.8 1777L771.6 1773.5L778.2 1769L784.5 1763.5L790.5 1757.2L796.2 1750L801.5 1742.1L806.3 1733.4L810.7 1724L814.5 1714.1L817.8 1703.7L820.6 1692.8L822.7 1681.5L824.3 1670L825.2 1658.4Z" fill="#cca68a"/>
<path d="M811.8 1646.6L811.6 1636.8L810.8 1627.1L809.5 1617.5L807.7 1608.1L805.4 1599.1L802.7 1590.3L799.5 1582.1L795.8 1574.3L791.8 1567.1L787.4 1560.4L782.7 1554.4L777.7 1549.2L772.4 1544.6L766.9 1540.9L761.2 1537.9L755.4 1535.8L749.5 1534.5L743.6 1534.1L737.7 1534.5L731.8 1535.8L726 1537.9L720.3 1540.9L714.9 1544.6L709.6 1549.2L704.6 1554.4L699.9 1560.4L695.5 1567.1L691.5 1574.3L687.9 1582.1L684.8 1590.3L682 1599.1L679.8 1608.1L678 1617.5L676.7 1627.1L675.9 1636.8L675.7 1646.6L675.9 1656.4L676.7 1666.1L678 1675.7L679.8 1685.1L682 1694.1L684.8 1702.8L687.9 1711.1L691.5 1718.9L695.5 1726.1L699.9 1732.8L704.6 1738.8L709.6 1744L714.9 1748.6L720.3 1752.3L726 1755.3L731.8 1757.4L737.7 1758.7L743.6 1759.1L749.5 1758.7L755.4 1757.4L761.2 1755.3L766.9 1752.3L772.4 1748.6L777.7 1744L782.7 1738.8L787.4 1732.8L791.8 1726.1L795.8 1718.9L799.5 1711.1L802.7 1702.8L805.4 1694.1L807.7 1685.1L809.5 1675.7L810.8 1666.1L811.6 1656.4Z" fill="#c29472"/>
<path d="M798.2 1646.6L798 1638.8L797.3 1631L796.3 1623.3L794.9 1615.8L793 1608.6L790.8 1601.6L788.3 1595L785.4 1588.7L782.2 1583L778.6 1577.7L774.9 1572.9L770.9 1568.7L766.6 1565L762.2 1562L757.7 1559.7L753.1 1558L748.3 1556.9L743.6 1556.6L738.9 1556.9L734.1 1558L729.5 1559.7L725 1562L720.6 1565L716.4 1568.7L712.4 1572.9L708.6 1577.7L705.1 1583L701.9 1588.7L699.1 1595L696.5 1601.6L694.3 1608.6L692.5 1615.8L691.1 1623.3L690.1 1631L689.5 1638.8L689.2 1646.6L689.5 1654.4L690.1 1662.2L691.1 1669.9L692.5 1677.4L694.3 1684.6L696.5 1691.6L699.1 1698.2L701.9 1704.5L705.1 1710.2L708.6 1715.5L712.4 1720.3L716.4 1724.5L720.6 1728.2L725 1731.2L729.5 1733.5L734.1 1735.2L738.9 1736.3L743.6 1736.6L748.3 1736.3L753.1 1735.2L757.7 1733.5L762.2 1731.2L766.6 1728.2L770.9 1724.5L774.9 1720.3L778.6 1715.5L782.2 1710.2L785.4 1704.5L788.3 1698.2L790.8 1691.6L793 1684.6L794.9 1677.4L796.3 1669.9L797.3 1662.2L798 1654.4Z" fill="#b8825a"/>
<path d="M784.5 1646.6L784.3 1640.7L783.9 1634.9L783.1 1629.1L782 1623.5L780.7 1618.1L779 1612.8L777.1 1607.9L774.9 1603.2L772.5 1598.9L769.9 1594.9L767 1591.3L764 1588.1L760.9 1585.4L757.6 1583.2L754.2 1581.4L750.7 1580.1L747.2 1579.4L743.6 1579.1L740 1579.4L736.5 1580.1L733 1581.4L729.6 1583.2L726.3 1585.4L723.2 1588.1L720.2 1591.3L717.4 1594.9L714.7 1598.9L712.3 1603.2L710.2 1607.9L708.3 1612.8L706.6 1618.1L705.3 1623.5L704.2 1629.1L703.4 1634.9L703 1640.7L702.8 1646.6L703 1652.5L703.4 1658.3L704.2 1664.1L705.3 1669.7L706.6 1675.1L708.3 1680.3L710.2 1685.3L712.3 1690L714.7 1694.3L717.4 1698.3L720.2 1701.9L723.2 1705.1L726.3 1707.8L729.6 1710L733 1711.8L736.5 1713.1L740 1713.8L743.6 1714.1L747.2 1713.8L750.7 1713.1L754.2 1711.8L757.6 1710L760.9 1707.8L764 1705.1L767 1701.9L769.9 1698.3L772.5 1694.3L774.9 1690L777.1 1685.3L779 1680.3L780.7 1675.1L782 1669.7L783.1 1664.1L783.9 1658.3L784.3 1652.5Z" fill="#ad7043"/>
<path d="M770.9 1646.6L770.4 1638.8L769.2 1631.2L767.2 1624.1L764.5 1617.7L761.1 1612.1L757.2 1607.6L752.9 1604.3L748.3 1602.3L743.6 1601.6L738.9 1602.3L734.3 1604.3L730 1607.6L726.1 1612.1L722.8 1617.7L720 1624.1L718 1631.2L716.8 1638.8L716.4 1646.6L716.8 1654.4L718 1662L720 1669.1L722.8 1675.5L726.1 1681.1L730 1685.6L734.3 1688.9L738.9 1690.9L743.6 1691.6L748.3 1690.9L752.9 1688.9L757.2 1685.6L761.1 1681.1L764.5 1675.5L767.2 1669.1L769.2 1662L770.4 1654.4Z" fill="#a35e2c"/>
<path d="M757.2 1646.6L757 1642.7L756.4 1638.9L755.4 1635.3L754 1632.1L752.4 1629.4L750.4 1627.1L748.3 1625.5L746 1624.4L743.6 1624.1L741.2 1624.4L738.9 1625.5L736.8 1627.1L734.9 1629.4L733.2 1632.1L731.8 1635.3L730.8 1638.9L730.2 1642.7L730 1646.6L730.2 1650.5L730.8 1654.3L731.8 1657.8L733.2 1661.1L734.9 1663.8L736.8 1666.1L738.9 1667.7L741.2 1668.8L743.6 1669.1L746 1668.8L748.3 1667.7L750.4 1666.1L752.4 1663.8L754 1661.1L755.4 1657.8L756.4 1654.3L757 1650.5Z" fill="#994c14"/>
<path d="M880.4 1646.6L879.9 1627L878.3 1607.5L875.7 1588.4L872.1 1569.6L867.5 1551.5L862 1534.1L855.6 1517.5L848.3 1502L840.2 1487.5L831.4 1474.2L821.9 1462.3L811.8 1451.7L801.3 1442.7L790.2 1435.2L778.9 1429.3L767.3 1425L755.5 1422.5L743.6 1421.6L731.7 1422.5L720 1425L708.4 1429.3L697.1 1435.2L686.2 1442.7L675.7 1451.7L665.7 1462.3L656.4 1474.2L647.7 1487.5L639.7 1502L632.5 1517.5L626.2 1534.1L620.7 1551.5L616.2 1569.6L612.7 1588.4L610.1 1607.5L608.6 1627L608.1 1646.6L608.6 1666.2L610.1 1685.7L612.7 1704.8L616.2 1723.6L620.7 1741.7L626.2 1759.1L632.5 1775.7L639.7 1791.2L647.7 1805.7L656.4 1819L665.7 1830.9L675.7 1841.5L686.2 1850.5L697.1 1858L708.4 1863.9L720 1868.2L731.7 1870.7L743.6 1871.6L755.5 1870.7L767.3 1868.2L778.9 1863.9L790.2 1858L801.3 1850.5L811.8 1841.5L821.9 1830.9L831.4 1819L840.2 1805.7L848.3 1791.2L855.6 1775.7L862 1759.1L867.5 1741.7L872.1 1723.6L875.7 1704.8L878.3 1685.7L879.9 1666.2Z" fill="none" stroke="#9b4f17" stroke-width="1.4"/>
<path d="M811.8 1646.6L811.6 1636.8L810.8 1627.1L809.5 1617.5L807.7 1608.1L805.4 1599.1L802.7 1590.3L799.5 1582.1L795.8 1574.3L791.8 1567.1L787.4 1560.4L782.7 1554.4L777.7 1549.2L772.4 1544.6L766.9 1540.9L761.2 1537.9L755.4 1535.8L749.5 1534.5L743.6 1534.1L737.7 1534.5L731.8 1535.8L726 1537.9L720.3 1540.9L714.9 1544.6L709.6 1549.2L704.6 1554.4L699.9 1560.4L695.5 1567.1L691.5 1574.3L687.9 1582.1L684.8 1590.3L682 1599.1L679.8 1608.1L678 1617.5L676.7 1627.1L675.9 1636.8L675.7 1646.6L675.9 1656.4L676.7 1666.1L678 1675.7L679.8 1685.1L682 1694.1L684.8 1702.8L687.9 1711.1L691.5 1718.9L695.5 1726.1L699.9 1732.8L704.6 1738.8L709.6 1744L714.9 1748.6L720.3 1752.3L726 1755.3L731.8 1757.4L737.7 1758.7L743.6 1759.1L749.5 1758.7L755.4 1757.4L761.2 1755.3L766.9 1752.3L772.4 1748.6L777.7 1744L782.7 1738.8L787.4 1732.8L791.8 1726.1L795.8 1718.9L799.5 1711.1L802.7 1702.8L805.4 1694.1L807.7 1685.1L809.5 1675.7L810.8 1666.1L811.6 1656.4Z" fill="none" stroke="#9b4f17" stroke-width="3.5"/>
<circle cx="876.4" cy="1910.3" r="7.4" fill="#ff0000"/>
<circle cx="707" cy="1647.5" r="7.4" fill="#ff8c0a"/>
<circle cx="749.3" cy="1628.6" r="7.4" fill="#00ff00"/>
<circle cx="749.3" cy="1756.8" r="7.4" fill="#0064ff"/>
<circle cx="848.1" cy="1436.2" r="7.4" fill="#66c8ff"/>
<circle cx="749.3" cy="1805.8" r="7.4" fill="#8a1fff"/>
<circle cx="819.9" cy="1715.5" r="7.4" fill="#ff00ff"/>
<circle cx="791.7" cy="1740.8" r="7.4" fill="#cc99ff"/>
<circle cx="763.4" cy="1449.6" r="7.4" fill="#c46a28"/>
<circle cx="763.4" cy="1628.1" r="7.4" fill="#aaaaaa"/>
<circle cx="622.3" cy="1743.3" r="7.4" fill="#000000"/>
<path d="M628.7 1673.5L644.1 1673.5L636.4 1658.3Z" fill="#ff0000"/>
<path d="M727.5 1546.2L742.9 1546.2L735.2 1531Z" fill="#00ff00"/>
<path d="M642.8 1582.7L658.2 1582.7L650.5 1567.5Z" fill="#0064ff"/>
<path d="M642.8 1703.6L658.2 1703.6L650.5 1688.4Z" fill="#66c8ff"/>
<path d="M656.9 1660.2L672.3 1660.2L664.6 1645Z" fill="#8a1fff"/>
<path d="M798.1 1585.7L813.5 1585.7L805.8 1570.5Z" fill="#ff00ff"/>
<path d="M769.9 1495L785.3 1495L777.6 1479.8Z" fill="#ff8c0a"/>
<path d="M699.3 1645.1L714.7 1645.1L707 1629.9Z" fill="#cc99ff"/>
<path d="M769.9 1624.9L785.3 1624.9L777.6 1609.7Z" fill="#c46a28"/>
<path d="M769.9 1679.1L785.3 1679.1L777.6 1663.9Z" fill="#000000"/>
</g>
<rect x="114.1" y="1418.9" width="875.2" height="509.3" fill="none" stroke="#000" stroke-width="1.6"/>
<path d="M114.1 1418.9v5.1M114.1 1928.2v-5.1M128.2 1418.9v5.1M128.2 1928.2v-5.1M142.3 1418.9v10.2M142.3 1928.2v-10.2M156.4 1418.9v5.1M156.4 1928.2v-5.1M170.5 1418.9v5.1M170.5 1928.2v-5.1M184.7 1418.9v5.1M184.7 1928.2v-5.1M198.8 1418.9v5.1M198.8 1928.2v-5.1M212.9 1418.9v5.1M212.9 1928.2v-5.1M227 1418.9v5.1M227 1928.2v-5.1M241.1 1418.9v5.1M241.1 1928.2v-5.1M255.2 1418.9v5.1M255.2 1928.2v-5.1M269.4 1418.9v5.1M269.4 1928.2v-5.1M283.5 1418.9v10.2M283.5 1928.2v-10.2M297.6 1418.9v5.1M297.6 1928.2v-5.1M311.7 1418.9v5.1M311.7 1928.2v-5.1M325.8 1418.9v5.1M325.8 1928.2v-5.1M339.9 1418.9v5.1M339.9 1928.2v-5.1M354.1 1418.9v5.1M354.1 1928.2v-5.1M368.2 1418.9v5.1M368.2 1928.2v-5.1M382.3 1418.9v5.1M382.3 1928.2v-5.1M396.4 1418.9v5.1M396.4 1928.2v-5.1M410.5 1418.9v5.1M410.5 1928.2v-5.1M424.6 1418.9v10.2M424.6 1928.2v-10.2M438.8 1418.9v5.1M438.8 1928.2v-5.1M452.9 1418.9v5.1M452.9 1928.2v-5.1M467 1418.9v5.1M467 1928.2v-5.1M481.1 1418.9v5.1M481.1 1928.2v-5.1M495.2 1418.9v5.1M495.2 1928.2v-5.1M509.3 1418.9v5.1M509.3 1928.2v-5.1M523.5 1418.9v5.1M523.5 1928.2v-5.1M537.6 1418.9v5.1M537.6 1928.2v-5.1M551.7 1418.9v5.1M551.7 1928.2v-5.1M565.8 1418.9v10.2M565.8 1928.2v-10.2M579.9 1418.9v5.1M579.9 1928.2v-5.1M594 1418.9v5.1M594 1928.2v-5.1M608.2 1418.9v5.1M608.2 1928.2v-5.1M622.3 1418.9v5.1M622.3 1928.2v-5.1M636.4 1418.9v5.1M636.4 1928.2v-5.1M650.5 1418.9v5.1M650.5 1928.2v-5.1M664.6 1418.9v5.1M664.6 1928.2v-5.1M678.7 1418.9v5.1M678.7 1928.2v-5.1M692.9 1418.9v5.1M692.9 1928.2v-5.1M707 1418.9v10.2M707 1928.2v-10.2M721.1 1418.9v5.1M721.1 1928.2v-5.1M735.2 1418.9v5.1M735.2 1928.2v-5.1M749.3 1418.9v5.1M749.3 1928.2v-5.1M763.4 1418.9v5.1M763.4 1928.2v-5.1M777.6 1418.9v5.1M777.6 1928.2v-5.1M791.7 1418.9v5.1M791.7 1928.2v-5.1M805.8 1418.9v5.1M805.8 1928.2v-5.1M819.9 1418.9v5.1M819.9 1928.2v-5.1M834 1418.9v5.1M834 1928.2v-5.1M848.1 1418.9v10.2M848.1 1928.2v-10.2M862.3 1418.9v5.1M862.3 1928.2v-5.1M876.4 1418.9v5.1M876.4 1928.2v-5.1M890.5 1418.9v5.1M890.5 1928.2v-5.1M904.6 1418.9v5.1M904.6 1928.2v-5.1M918.7 1418.9v5.1M918.7 1928.2v-5.1M932.9 1418.9v5.1M932.9 1928.2v-5.1M947 1418.9v5.1M947 1928.2v-5.1M961.1 1418.9v5.1M961.1 1928.2v-5.1M975.2 1418.9v5.1M975.2 1928.2v-5.1M989.3 1418.9v10.2M989.3 1928.2v-10.2M114.1 1923.7h8.8M989.3 1923.7h-8.8M114.1 1914.8h8.8M989.3 1914.8h-8.8M114.1 1906h8.8M989.3 1906h-8.8M114.1 1897.1h8.8M989.3 1897.1h-8.8M114.1 1888.2h8.8M989.3 1888.2h-8.8M114.1 1879.4h17.5M989.3 1879.4h-17.5M114.1 1870.6h8.8M989.3 1870.6h-8.8M114.1 1861.7h8.8M989.3 1861.7h-8.8M114.1 1852.9h8.8M989.3 1852.9h-8.8M114.1 1844h8.8M989.3 1844h-8.8M114.1 1835.2h8.8M989.3 1835.2h-8.8M114.1 1826.3h8.8M989.3 1826.3h-8.8M114.1 1817.5h8.8M989.3 1817.5h-8.8M114.1 1808.6h8.8M989.3 1808.6h-8.8M114.1 1799.8h8.8M989.3 1799.8h-8.8M114.1 1790.9h17.5M989.3 1790.9h-17.5M114.1 1782.1h8.8M989.3 1782.1h-8.8M114.1 1773.2h8.8M989.3 1773.2h-8.8M114.1 1764.4h8.8M989.3 1764.4h-8.8M114.1 1755.5h8.8M989.3 1755.5h-8.8M114.1 1746.7h8.8M989.3 1746.7h-8.8M114.1 1737.8h8.8M989.3 1737.8h-8.8M114.1 1729h8.8M989.3 1729h-8.8M114.1 1720.1h8.8M989.3 1720.1h-8.8M114.1 1711.2h8.8M989.3 1711.2h-8.8M114.1 1702.4h17.5M989.3 1702.4h-17.5M114.1 1693.6h8.8M989.3 1693.6h-8.8M114.1 1684.7h8.8M989.3 1684.7h-8.8M114.1 1675.9h8.8M989.3 1675.9h-8.8M114.1 1667h8.8M989.3 1667h-8.8M114.1 1658.2h8.8M989.3 1658.2h-8.8M114.1 1649.3h8.8M989.3 1649.3h-8.8M114.1 1640.5h8.8M989.3 1640.5h-8.8M114.1 1631.6h8.8M989.3 1631.6h-8.8M114.1 1622.8h8.8M989.3 1622.8h-8.8M114.1 1613.9h17.5M989.3 1613.9h-17.5M114.1 1605.1h8.8M989.3 1605.1h-8.8M114.1 1596.2h8.8M989.3 1596.2h-8.8M114.1 1587.4h8.8M989.3 1587.4h-8.8M114.1 1578.5h8.8M989.3 1578.5h-8.8M114.1 1569.7h8.8M989.3 1569.7h-8.8M114.1 1560.8h8.8M989.3 1560.8h-8.8M114.1 1552h8.8M989.3 1552h-8.8M114.1 1543.1h8.8M989.3 1543.1h-8.8M114.1 1534.2h8.8M989.3 1534.2h-8.8M114.1 1525.4h17.5M989.3 1525.4h-17.5M114.1 1516.6h8.8M989.3 1516.6h-8.8M114.1 1507.7h8.8M989.3 1507.7h-8.8M114.1 1498.9h8.8M989.3 1498.9h-8.8M114.1 1490h8.8M989.3 1490h-8.8M114.1 1481.2h8.8M989.3 1481.2h-8.8M114.1 1472.3h8.8M989.3 1472.3h-8.8M114.1 1463.5h8.8M989.3 1463.5h-8.8M114.1 1454.6h8.8M989.3 1454.6h-8.8M114.1 1445.8h8.8M989.3 1445.8h-8.8M114.1 1436.9h17.5M989.3 1436.9h-17.5M114.1 1428.1h8.8M989.3 1428.1h-8.8M114.1 1419.2h8.8M989.3 1419.2h-8.8" stroke="#000" stroke-width="1.5" fill="none"/>
<text transform="translate(142.3 1972) scale(1 1.045)" font-size="34.7" text-anchor="middle">0</text>
<text transform="translate(283.5 1972) scale(1 1.045)" font-size="34.7" text-anchor="middle">1</text>
<text transform="translate(424.6 1972) scale(1 1.045)" font-size="34.7" text-anchor="middle">2</text>
<text transform="translate(565.8 1972) scale(1 1.045)" font-size="34.7" text-anchor="middle">3</text>
<text transform="translate(707 1972) scale(1 1.045)" font-size="34.7" text-anchor="middle">4</text>
<text transform="translate(848.1 1972) scale(1 1.045)" font-size="34.7" text-anchor="middle">5</text>
<text transform="translate(989.3 1972) scale(1 1.045)" font-size="34.7" text-anchor="middle">6</text>
<text transform="translate(105.4 1891.8) scale(1 1.045)" font-size="34.7" text-anchor="end">-20</text>
<text transform="translate(105.4 1803.3) scale(1 1.045)" font-size="34.7" text-anchor="end">-10</text>
<text transform="translate(105.4 1714.8) scale(1 1.045)" font-size="34.7" text-anchor="end">0</text>
<text transform="translate(105.4 1626.3) scale(1 1.045)" font-size="34.7" text-anchor="end">10</text>
<text transform="translate(105.4 1537.8) scale(1 1.045)" font-size="34.7" text-anchor="end">20</text>
<text transform="translate(105.4 1449.3) scale(1 1.045)" font-size="34.7" text-anchor="end">30</text>
<text transform="translate(551.7 1401.4) scale(1 1.045)" font-size="43.4" text-anchor="middle">Congo SON</text>
<text transform="translate(551.7 2009.2) scale(1 1.045)" font-size="34.7" text-anchor="middle">Mean temperature change (<tspan font-size="20.8" dy="-13.6">o</tspan><tspan dy="13.6">C)</tspan></text>
<text transform="translate(27.8 1673) rotate(-90) scale(1 1.045)" font-size="34.7" text-anchor="middle">Precipitation change (%)</text>
</g>
<g id="p3">
<clipPath id="cl3"><rect x="114.1" y="2101.6" width="875.2" height="510"/></clipPath>
<g clip-path="url(#cl3)">
<path d="M142.5 2101.6V2611.6" stroke="#000" stroke-width="2.8" stroke-dasharray="4.8 10.5" stroke-dashoffset="0" fill="none"/>
<path d="M114.1 2489.2H989.3" stroke="#000" stroke-width="2.8" stroke-dasharray="4.8 10.5" stroke-dashoffset="0" fill="none"/>
<ellipse transform="translate(142.5 2490.8) rotate(7)" rx="18.4" ry="50.6" fill="#000"/><path fill="#000" d="M121.9 2517.2h1.3v1.3h-1.3zM138.7 2539.3h1.2v1.2h-1.2zM147.0 2536.4h1.8v1.8h-1.8zM123.5 2524.7h1.5v1.5h-1.5zM156.0 2515.5h1.3v1.3h-1.3zM156.8 2515.4h1.3v1.3h-1.3zM132.5 2449.7h1.5v1.5h-1.5zM120.7 2495.6h1.4v1.4h-1.4zM135.4 2542.3h1.9v1.9h-1.9zM121.5 2508.2h1.8v1.8h-1.8zM136.0 2444.8h1.7v1.7h-1.7zM129.7 2461.3h1.6v1.6h-1.6zM152.6 2441.8h1.9v1.9h-1.9zM156.6 2449.3h1.4v1.4h-1.4zM160.0 2497.1h1.6v1.6h-1.6zM160.2 2490.7h1.3v1.3h-1.3zM126.3 2532.9h1.2v1.2h-1.2zM121.9 2509.3h1.3v1.3h-1.3zM144.1 2539.1h1.7v1.7h-1.7zM131.0 2537.9h1.2v1.2h-1.2zM132.6 2541.4h1.4v1.4h-1.4zM156.6 2448.7h2.0v2.0h-2.0zM133.8 2541.1h1.9v1.9h-1.9zM130.3 2458.1h1.4v1.4h-1.4zM129.7 2538.3h2.0v2.0h-2.0zM156.3 2515.9h1.7v1.7h-1.7zM155.6 2515.5h1.9v1.9h-1.9zM157.1 2523.1h1.4v1.4h-1.4zM125.1 2477.3h1.8v1.8h-1.8zM127.0 2469.4h1.5v1.5h-1.5zM149.6 2535.1h1.4v1.4h-1.4zM130.3 2459.3h1.5v1.5h-1.5zM121.4 2488.6h1.9v1.9h-1.9zM162.1 2472.1h1.5v1.5h-1.5zM161.8 2480.1h1.6v1.6h-1.6zM139.0 2542.5h1.2v1.2h-1.2zM129.4 2535.6h1.3v1.3h-1.3zM143.0 2536.6h1.5v1.5h-1.5zM123.6 2487.4h1.3v1.3h-1.3zM161.5 2466.8h1.8v1.8h-1.8zM128.1 2534.4h1.7v1.7h-1.7zM155.8 2442.8h1.3v1.3h-1.3zM159.7 2497.4h1.9v1.9h-1.9zM160.9 2468.8h2.0v2.0h-2.0zM159.6 2459.3h1.4v1.4h-1.4zM147.5 2532.3h1.8v1.8h-1.8zM137.2 2446.9h1.6v1.6h-1.6zM160.7 2458.0h1.8v1.8h-1.8zM159.3 2456.4h1.6v1.6h-1.6zM153.2 2443.4h1.9v1.9h-1.9zM123.2 2494.1h1.2v1.2h-1.2zM138.6 2538.7h1.4v1.4h-1.4zM160.3 2474.8h1.8v1.8h-1.8zM129.5 2538.7h1.7v1.7h-1.7zM127.1 2536.8h1.5v1.5h-1.5zM122.8 2488.7h1.4v1.4h-1.4zM136.1 2447.3h1.7v1.7h-1.7zM162.1 2473.5h1.6v1.6h-1.6zM161.3 2474.6h1.3v1.3h-1.3zM133.3 2548.6h1.5v1.5h-1.5zM160.3 2480.7h1.8v1.8h-1.8zM126.3 2469.4h2.0v2.0h-2.0zM126.4 2535.5h1.6v1.6h-1.6zM157.9 2501.2h1.8v1.8h-1.8zM134.1 2447.7h1.8v1.8h-1.8zM133.6 2450.9h1.8v1.8h-1.8zM120.4 2526.0h1.7v1.7h-1.7zM164.2 2466.0h1.3v1.3h-1.3zM122.8 2478.8h1.4v1.4h-1.4zM132.2 2542.2h1.6v1.6h-1.6zM155.0 2519.1h1.2v1.2h-1.2zM142.0 2540.4h1.5v1.5h-1.5zM159.2 2496.5h1.7v1.7h-1.7zM122.7 2510.6h1.2v1.2h-1.2zM127.4 2534.7h1.7v1.7h-1.7zM146.5 2535.7h1.8v1.8h-1.8zM136.2 2440.9h1.8v1.8h-1.8zM130.6 2541.6h1.6v1.6h-1.6zM130.6 2449.5h1.4v1.4h-1.4zM161.2 2478.0h1.4v1.4h-1.4zM160.2 2499.9h1.6v1.6h-1.6zM151.5 2437.8h1.8v1.8h-1.8zM160.2 2453.6h1.7v1.7h-1.7zM148.8 2536.1h1.9v1.9h-1.9zM125.8 2472.1h1.5v1.5h-1.5zM154.5 2514.9h1.9v1.9h-1.9zM125.8 2530.1h1.7v1.7h-1.7zM132.9 2445.4h2.0v2.0h-2.0zM159.8 2496.0h1.7v1.7h-1.7zM122.4 2513.8h1.2v1.2h-1.2zM123.8 2520.3h1.3v1.3h-1.3zM134.5 2445.8h2.0v2.0h-2.0zM129.6 2535.7h1.5v1.5h-1.5zM123.1 2510.8h1.4v1.4h-1.4zM123.2 2514.5h1.7v1.7h-1.7zM123.5 2524.5h1.4v1.4h-1.4zM142.9 2438.3h1.2v1.2h-1.2zM129.0 2535.6h1.5v1.5h-1.5zM127.6 2463.2h1.4v1.4h-1.4zM140.5 2437.7h1.9v1.9h-1.9zM144.2 2534.9h1.9v1.9h-1.9zM128.4 2539.5h1.3v1.3h-1.3zM154.7 2515.2h1.3v1.3h-1.3zM135.1 2540.7h1.2v1.2h-1.2zM160.3 2471.5h1.8v1.8h-1.8zM136.6 2544.7h1.3v1.3h-1.3zM123.2 2527.1h2.0v2.0h-2.0zM140.5 2541.9h1.8v1.8h-1.8zM160.5 2474.1h1.5v1.5h-1.5zM157.1 2448.7h1.7v1.7h-1.7zM122.3 2505.1h1.8v1.8h-1.8zM147.3 2532.6h1.5v1.5h-1.5zM133.7 2538.7h1.7v1.7h-1.7zM137.7 2444.7h1.7v1.7h-1.7zM154.2 2435.3h1.8v1.8h-1.8zM155.0 2442.4h1.4v1.4h-1.4zM154.9 2441.9h1.8v1.8h-1.8zM140.5 2541.7h1.7v1.7h-1.7zM159.4 2497.6h1.7v1.7h-1.7zM150.5 2526.9h1.7v1.7h-1.7zM133.1 2538.6h1.7v1.7h-1.7zM132.9 2453.9h1.9v1.9h-1.9zM132.4 2552.1h1.8v1.8h-1.8zM149.2 2532.3h1.5v1.5h-1.5zM158.5 2502.5h1.4v1.4h-1.4zM157.8 2503.4h1.4v1.4h-1.4zM141.8 2439.0h1.4v1.4h-1.4zM145.2 2537.7h1.8v1.8h-1.8zM146.9 2437.1h1.9v1.9h-1.9zM131.8 2452.9h1.2v1.2h-1.2zM159.5 2495.5h2.0v2.0h-2.0zM146.4 2438.1h1.5v1.5h-1.5zM160.1 2461.7h1.9v1.9h-1.9zM155.8 2441.6h1.2v1.2h-1.2zM159.3 2455.3h1.9v1.9h-1.9zM122.7 2511.4h1.7v1.7h-1.7zM143.8 2440.9h1.9v1.9h-1.9zM123.4 2490.6h1.3v1.3h-1.3zM148.5 2532.8h1.8v1.8h-1.8zM164.2 2481.7h1.9v1.9h-1.9zM161.6 2464.0h1.7v1.7h-1.7zM149.0 2436.4h1.6v1.6h-1.6zM155.3 2517.4h1.7v1.7h-1.7zM157.8 2447.2h2.0v2.0h-2.0zM122.1 2494.3h1.3v1.3h-1.3zM152.7 2441.6h1.9v1.9h-1.9zM124.2 2523.5h1.8v1.8h-1.8zM151.8 2524.1h1.9v1.9h-1.9zM155.7 2445.3h1.9v1.9h-1.9zM160.2 2485.9h1.8v1.8h-1.8zM134.1 2427.8h2.2v2.2h-2.2zM135.6 2431.5h2.2v2.2h-2.2zM132.0 2436.7h2.2v2.2h-2.2zM127.8 2433.6h2.2v2.2h-2.2zM137.7 2430.9h2.2v2.2h-2.2zM133.5 2434.6h2.2v2.2h-2.2zM126.7 2452.4h2.2v2.2h-2.2zM124.1 2456.6h2.2v2.2h-2.2zM122.0 2461.4h2.2v2.2h-2.2zM123.0 2468.2h2.2v2.2h-2.2zM124.6 2471.9h2.2v2.2h-2.2zM122.5 2481.3h2.2v2.2h-2.2zM161.3 2466.6h2.2v2.2h-2.2zM160.8 2478.2h2.2v2.2h-2.2zM161.9 2487.6h2.2v2.2h-2.2zM157.7 2507.5h2.2v2.2h-2.2zM154.5 2517.0h2.2v2.2h-2.2zM153.5 2522.2h2.2v2.2h-2.2zM151.9 2528.0h2.2v2.2h-2.2zM120.4 2529.6h2.2v2.2h-2.2zM124.1 2535.9h2.2v2.2h-2.2zM127.2 2538.0h2.2v2.2h-2.2zM132.5 2542.2h2.2v2.2h-2.2zM128.8 2545.3h2.2v2.2h-2.2zM138.8 2545.3h2.2v2.2h-2.2zM140.9 2547.9h2.2v2.2h-2.2zM145.1 2437.8h2.2v2.2h-2.2zM140.9 2438.8h2.2v2.2h-2.2z"/><path fill="#fff" d="M142.6 2525.2h0.8v0.8h-0.8zM154.6 2497.1h1.0v1.0h-1.0zM153.1 2502.0h1.3v1.3h-1.3zM128.9 2488.6h1.2v1.2h-1.2zM154.4 2464.1h0.8v0.8h-0.8zM140.2 2453.3h1.5v1.5h-1.5zM131.1 2521.7h1.5v1.5h-1.5zM152.7 2505.8h0.9v0.9h-0.9zM128.0 2508.7h0.8v0.8h-0.8zM137.4 2461.5h0.8v0.8h-0.8zM130.7 2523.5h0.7v0.7h-0.7zM138.5 2527.6h0.9v0.9h-0.9zM144.0 2524.5h1.2v1.2h-1.2zM130.6 2477.1h1.4v1.4h-1.4zM130.1 2523.0h1.2v1.2h-1.2zM154.3 2500.0h1.1v1.1h-1.1zM146.3 2523.3h1.3v1.3h-1.3zM136.1 2461.3h1.2v1.2h-1.2zM154.4 2460.4h1.2v1.2h-1.2zM131.1 2522.6h1.4v1.4h-1.4zM133.6 2525.4h1.1v1.1h-1.1zM153.5 2463.6h1.5v1.5h-1.5zM155.9 2487.6h0.8v0.8h-0.8zM149.4 2452.0h1.2v1.2h-1.2zM128.5 2492.2h0.9v0.9h-0.9zM127.5 2498.9h1.3v1.3h-1.3zM151.7 2509.7h1.3v1.3h-1.3zM127.4 2490.7h1.4v1.4h-1.4zM128.2 2512.0h0.7v0.7h-0.7zM127.7 2490.0h1.1v1.1h-1.1zM128.6 2510.2h1.0v1.0h-1.0zM141.3 2456.3h0.8v0.8h-0.8zM138.8 2458.9h1.4v1.4h-1.4zM127.5 2492.3h0.8v0.8h-0.8zM137.6 2458.6h0.9v0.9h-0.9zM150.2 2454.5h1.0v1.0h-1.0zM143.0 2455.6h0.7v0.7h-0.7zM156.4 2477.0h1.1v1.1h-1.1zM151.0 2508.3h1.1v1.1h-1.1zM137.5 2460.5h0.8v0.8h-0.8zM144.5 2523.8h1.2v1.2h-1.2zM155.6 2493.2h1.1v1.1h-1.1zM140.0 2452.7h1.2v1.2h-1.2zM147.1 2448.3h1.3v1.3h-1.3zM131.6 2474.3h1.3v1.3h-1.3zM129.2 2518.7h0.7v0.7h-0.7zM156.0 2476.8h1.5v1.5h-1.5zM154.4 2504.6h1.4v1.4h-1.4zM129.9 2521.7h0.9v0.9h-0.9zM149.9 2456.5h0.8v0.8h-0.8zM154.5 2471.9h1.1v1.1h-1.1zM142.6 2455.9h0.9v0.9h-0.9zM134.8 2529.4h1.5v1.5h-1.5zM127.7 2508.0h0.7v0.7h-0.7zM152.0 2510.2h0.9v0.9h-0.9zM126.5 2497.4h1.4v1.4h-1.4zM139.9 2452.5h1.3v1.3h-1.3zM145.6 2524.0h0.7v0.7h-0.7zM155.4 2467.6h0.9v0.9h-0.9zM145.9 2450.8h1.0v1.0h-1.0zM139.8 2455.5h1.0v1.0h-1.0zM144.7 2452.9h1.4v1.4h-1.4zM153.7 2463.7h1.2v1.2h-1.2zM154.6 2460.6h0.8v0.8h-0.8zM152.1 2509.1h1.3v1.3h-1.3zM134.6 2463.4h0.9v0.9h-0.9zM152.9 2501.7h0.8v0.8h-0.8zM156.9 2470.4h1.0v1.0h-1.0zM134.7 2466.3h1.3v1.3h-1.3zM139.2 2453.9h1.1v1.1h-1.1zM132.2 2469.6h1.4v1.4h-1.4zM152.8 2509.3h1.1v1.1h-1.1zM129.7 2489.9h1.2v1.2h-1.2zM128.0 2498.4h0.8v0.8h-0.8zM133.3 2527.3h1.3v1.3h-1.3zM155.5 2474.2h1.4v1.4h-1.4zM156.6 2465.5h1.3v1.3h-1.3zM129.1 2485.1h0.7v0.7h-0.7zM155.9 2478.0h1.0v1.0h-1.0zM146.8 2452.3h1.3v1.3h-1.3zM133.9 2527.1h0.8v0.8h-0.8zM133.7 2464.5h1.4v1.4h-1.4zM127.4 2511.5h0.8v0.8h-0.8zM143.2 2528.2h1.1v1.1h-1.1zM140.3 2456.1h0.9v0.9h-0.9zM155.0 2464.5h1.5v1.5h-1.5zM137.8 2526.9h1.4v1.4h-1.4zM154.6 2494.7h0.7v0.7h-0.7zM151.0 2510.1h1.4v1.4h-1.4zM137.6 2527.6h1.1v1.1h-1.1zM147.8 2520.4h0.9v0.9h-0.9zM133.5 2525.0h0.9v0.9h-0.9zM151.6 2510.9h0.9v0.9h-0.9zM154.6 2497.5h1.1v1.1h-1.1zM128.1 2487.3h1.5v1.5h-1.5zM148.3 2518.2h1.0v1.0h-1.0zM157.1 2472.3h0.8v0.8h-0.8zM146.0 2519.7h1.0v1.0h-1.0zM131.2 2521.7h1.2v1.2h-1.2zM155.5 2492.8h1.0v1.0h-1.0zM130.3 2477.0h1.3v1.3h-1.3zM134.9 2461.2h1.1v1.1h-1.1zM128.7 2507.1h1.5v1.5h-1.5zM140.0 2527.1h1.4v1.4h-1.4zM146.5 2454.1h1.3v1.3h-1.3zM156.0 2486.7h1.1v1.1h-1.1zM154.6 2498.2h0.8v0.8h-0.8zM132.5 2470.9h0.9v0.9h-0.9zM148.5 2456.0h0.7v0.7h-0.7zM157.0 2481.5h1.2v1.2h-1.2zM153.7 2501.4h1.3v1.3h-1.3zM153.9 2507.0h1.3v1.3h-1.3zM128.7 2504.4h0.8v0.8h-0.8zM135.7 2461.2h0.9v0.9h-0.9zM155.2 2459.5h0.8v0.8h-0.8zM151.8 2507.7h1.0v1.0h-1.0zM148.0 2518.8h1.3v1.3h-1.3zM131.0 2471.0h1.5v1.5h-1.5zM146.7 2450.6h1.0v1.0h-1.0zM156.2 2482.3h1.2v1.2h-1.2zM135.8 2462.1h0.7v0.7h-0.7zM148.1 2519.5h0.9v0.9h-0.9zM129.5 2516.7h1.0v1.0h-1.0zM128.0 2501.8h1.2v1.2h-1.2zM153.9 2459.3h1.0v1.0h-1.0zM127.7 2506.5h1.2v1.2h-1.2zM129.7 2520.3h1.0v1.0h-1.0zM146.1 2449.4h1.2v1.2h-1.2zM154.1 2500.0h1.3v1.3h-1.3zM157.0 2486.0h0.9v0.9h-0.9zM153.5 2506.7h0.8v0.8h-0.8zM129.4 2509.9h0.9v0.9h-0.9zM134.6 2525.8h1.0v1.0h-1.0zM137.3 2529.4h0.9v0.9h-0.9zM132.9 2471.2h0.8v0.8h-0.8zM127.5 2493.8h1.4v1.4h-1.4zM139.9 2528.6h0.8v0.8h-0.8zM138.8 2529.3h0.9v0.9h-0.9zM156.0 2480.1h1.2v1.2h-1.2zM128.0 2500.3h1.2v1.2h-1.2zM137.3 2459.2h1.5v1.5h-1.5zM149.0 2452.1h1.1v1.1h-1.1zM139.2 2456.8h1.3v1.3h-1.3zM131.6 2524.3h1.1v1.1h-1.1zM154.1 2464.2h1.1v1.1h-1.1zM133.9 2524.7h1.3v1.3h-1.3zM133.4 2525.5h1.2v1.2h-1.2zM137.1 2462.7h0.8v0.8h-0.8zM155.1 2478.5h1.0v1.0h-1.0zM153.9 2459.3h1.0v1.0h-1.0zM128.4 2510.5h1.1v1.1h-1.1zM133.0 2528.2h0.7v0.7h-0.7zM155.1 2462.2h0.9v0.9h-0.9zM143.0 2453.5h0.9v0.9h-0.9zM151.0 2454.3h1.2v1.2h-1.2zM130.5 2479.0h1.1v1.1h-1.1zM127.3 2502.4h1.2v1.2h-1.2zM149.9 2515.1h1.2v1.2h-1.2zM137.2 2458.8h1.0v1.0h-1.0zM132.1 2522.0h1.1v1.1h-1.1zM140.3 2454.5h1.4v1.4h-1.4zM155.1 2467.9h1.1v1.1h-1.1zM128.9 2481.4h0.8v0.8h-0.8zM153.7 2461.9h1.0v1.0h-1.0zM143.7 2524.6h1.4v1.4h-1.4zM128.9 2511.4h0.9v0.9h-0.9zM142.9 2526.1h0.8v0.8h-0.8zM129.0 2513.5h1.3v1.3h-1.3zM156.5 2491.1h1.4v1.4h-1.4zM130.3 2477.5h1.1v1.1h-1.1zM132.1 2527.1h0.7v0.7h-0.7zM145.9 2521.0h1.4v1.4h-1.4zM156.2 2468.9h1.1v1.1h-1.1zM151.6 2456.3h0.9v0.9h-0.9zM129.8 2478.8h1.0v1.0h-1.0zM145.6 2452.2h0.7v0.7h-0.7zM127.2 2493.3h1.4v1.4h-1.4zM156.1 2491.4h0.8v0.8h-0.8zM138.4 2528.4h0.9v0.9h-0.9zM151.8 2510.9h1.2v1.2h-1.2zM128.7 2510.0h1.5v1.5h-1.5zM154.9 2469.6h0.7v0.7h-0.7zM155.3 2463.3h1.3v1.3h-1.3zM128.4 2516.0h1.3v1.3h-1.3zM132.8 2467.3h1.1v1.1h-1.1zM128.7 2487.5h0.9v0.9h-0.9zM143.1 2451.1h1.1v1.1h-1.1zM128.8 2512.2h0.9v0.9h-0.9zM156.5 2487.4h0.7v0.7h-0.7zM127.7 2505.4h1.4v1.4h-1.4zM140.1 2527.3h1.0v1.0h-1.0zM136.3 2464.0h1.2v1.2h-1.2zM150.5 2513.5h0.7v0.7h-0.7zM137.1 2526.6h1.5v1.5h-1.5zM152.5 2508.7h0.8v0.8h-0.8zM136.2 2458.7h1.3v1.3h-1.3zM128.7 2487.4h1.2v1.2h-1.2zM155.4 2487.3h0.9v0.9h-0.9zM153.5 2502.0h1.0v1.0h-1.0zM126.7 2488.9h1.2v1.2h-1.2zM139.2 2455.2h0.7v0.7h-0.7zM128.2 2491.0h0.7v0.7h-0.7zM148.5 2516.6h0.9v0.9h-0.9zM151.4 2456.8h0.9v0.9h-0.9zM147.3 2520.6h1.1v1.1h-1.1zM155.0 2462.4h0.9v0.9h-0.9zM147.7 2453.5h0.9v0.9h-0.9zM142.3 2524.0h1.4v1.4h-1.4zM127.6 2508.1h1.4v1.4h-1.4zM151.3 2510.4h0.9v0.9h-0.9zM130.3 2474.8h0.8v0.8h-0.8zM152.2 2504.2h1.0v1.0h-1.0zM129.7 2483.2h1.4v1.4h-1.4zM141.7 2455.7h1.5v1.5h-1.5zM154.6 2460.8h0.7v0.7h-0.7zM137.4 2528.3h1.1v1.1h-1.1zM127.8 2490.2h1.2v1.2h-1.2zM129.0 2495.0h0.8v0.8h-0.8zM138.7 2530.9h1.4v1.4h-1.4zM150.2 2456.5h1.3v1.3h-1.3zM147.3 2519.5h1.3v1.3h-1.3zM149.9 2454.2h1.4v1.4h-1.4zM136.6 2461.4h0.7v0.7h-0.7zM136.1 2529.2h1.3v1.3h-1.3zM127.0 2503.1h1.0v1.0h-1.0zM126.7 2497.8h0.8v0.8h-0.8zM127.3 2508.3h0.8v0.8h-0.8zM155.5 2469.0h1.3v1.3h-1.3zM154.3 2502.5h1.0v1.0h-1.0zM151.4 2455.7h0.7v0.7h-0.7zM148.2 2460.1h1.0v1.0h-1.0zM152.5 2455.3h1.0v1.0h-1.0zM157.4 2471.6h1.5v1.5h-1.5zM146.9 2462.0h0.9v0.9h-0.9zM148.9 2458.9h1.4v1.4h-1.4zM148.0 2454.3h1.7v1.7h-1.7zM149.7 2462.8h1.3v1.3h-1.3zM151.0 2455.3h0.8v0.8h-0.8zM149.9 2467.5h1.5v1.5h-1.5zM151.2 2447.2h1.8v1.8h-1.8zM153.1 2458.4h1.0v1.0h-1.0zM148.1 2454.1h1.5v1.5h-1.5zM147.2 2461.1h1.2v1.2h-1.2zM147.8 2454.8h1.7v1.7h-1.7zM147.1 2459.4h1.5v1.5h-1.5zM150.6 2458.4h1.2v1.2h-1.2zM150.2 2451.9h1.7v1.7h-1.7zM147.7 2454.8h1.3v1.3h-1.3zM143.2 2450.9h1.7v1.7h-1.7zM148.7 2457.9h1.7v1.7h-1.7zM151.0 2461.0h1.0v1.0h-1.0zM145.7 2451.3h1.6v1.6h-1.6zM127.4 2518.7h1.0v1.0h-1.0zM133.2 2528.8h1.8v1.8h-1.8zM134.0 2528.3h0.9v0.9h-0.9zM130.7 2523.8h1.6v1.6h-1.6zM127.6 2522.3h1.6v1.6h-1.6zM136.0 2529.2h1.0v1.0h-1.0zM133.1 2520.2h1.3v1.3h-1.3zM134.6 2528.3h1.0v1.0h-1.0zM135.5 2536.2h1.4v1.4h-1.4zM132.9 2525.1h1.7v1.7h-1.7zM135.2 2527.2h1.0v1.0h-1.0zM129.7 2521.7h1.1v1.1h-1.1zM133.4 2517.9h1.4v1.4h-1.4zM131.2 2524.0h1.7v1.7h-1.7zM140.0 2527.8h1.7v1.7h-1.7zM136.5 2530.2h1.0v1.0h-1.0zM129.0 2529.5h1.3v1.3h-1.3zM138.6 2534.0h1.0v1.0h-1.0zM142.8 2450.2h1.3v1.3h-1.3zM142.9 2453.7h1.0v1.0h-1.0zM138.8 2457.4h1.8v1.8h-1.8zM139.2 2452.7h1.0v1.0h-1.0zM141.2 2448.8h1.2v1.2h-1.2zM135.4 2459.2h1.6v1.6h-1.6zM138.5 2455.0h0.9v0.9h-0.9zM140.5 2449.9h1.7v1.7h-1.7zM135.9 2458.7h1.0v1.0h-1.0zM140.3 2452.8h1.0v1.0h-1.0zM136.8 2509.5h0.9v0.9h-0.9zM133.1 2505.4h0.7v0.7h-0.7zM144.7 2479.3h0.7v0.7h-0.7zM152.9 2474.8h0.8v0.8h-0.8zM141.7 2474.5h0.7v0.7h-0.7zM141.7 2492.9h0.7v0.7h-0.7zM140.3 2486.9h1.0v1.0h-1.0zM145.5 2502.8h0.8v0.8h-0.8zM139.2 2480.0h0.6v0.6h-0.6zM138.9 2514.8h1.0v1.0h-1.0zM136.2 2517.1h0.7v0.7h-0.7zM143.0 2485.0h0.7v0.7h-0.7zM140.9 2473.8h0.9v0.9h-0.9zM138.4 2488.8h0.9v0.9h-0.9zM140.3 2486.3h0.7v0.7h-0.7zM140.7 2487.4h1.0v1.0h-1.0zM133.5 2507.4h0.8v0.8h-0.8zM139.9 2495.6h1.0v1.0h-1.0zM142.3 2507.4h0.8v0.8h-0.8zM146.9 2489.2h0.7v0.7h-0.7zM136.6 2493.7h0.7v0.7h-0.7zM142.0 2490.0h0.6v0.6h-0.6zM132.5 2490.3h1.0v1.0h-1.0zM134.7 2501.2h0.7v0.7h-0.7zM145.9 2508.5h0.8v0.8h-0.8z"/>
<path d="M335 2476.9L334.8 2472.3L334.4 2467.7L333.6 2463.2L332.5 2458.7L331.2 2454.3L329.6 2450L327.7 2446L325.6 2442.1L323.3 2438.4L320.8 2435L318.1 2431.9L315.4 2429.1L312.5 2426.6L309.5 2424.4L306.5 2422.6L303.5 2421.2L300.4 2420.2L297.4 2419.5L294.4 2419.3L291.5 2419.5L288.7 2420L286 2421L283.4 2422.3L281 2424.1L278.7 2426.1L276.6 2428.6L274.6 2431.3L272.8 2434.4L271.3 2437.8L269.9 2441.4L268.7 2445.2L267.7 2449.3L267 2453.5L266.4 2457.9L266.1 2462.4L266 2466.9L266.1 2471.5L266.4 2476.1L267 2480.6L267.7 2485.1L268.7 2489.5L269.9 2493.8L271.3 2497.8L272.8 2501.7L274.6 2505.4L276.6 2508.8L278.7 2511.9L281 2514.7L283.4 2517.2L286 2519.4L288.7 2521.2L291.5 2522.6L294.4 2523.6L297.4 2524.3L300.4 2524.5L303.5 2524.3L306.5 2523.8L309.5 2522.8L312.5 2521.5L315.4 2519.7L318.1 2517.7L320.8 2515.2L323.3 2512.5L325.6 2509.4L327.7 2506L329.6 2502.4L331.2 2498.6L332.5 2494.5L333.6 2490.3L334.4 2485.9L334.8 2481.4Z" fill="#f5ede8"/>
<path d="M330.9 2476.4L330.8 2472.3L330.4 2468.1L329.7 2464L328.7 2460L327.6 2456.1L326.1 2452.2L324.5 2448.6L322.6 2445.1L320.5 2441.8L318.3 2438.7L316 2435.9L313.5 2433.3L310.9 2431.1L308.3 2429.2L305.6 2427.5L302.8 2426.3L300.1 2425.3L297.4 2424.8L294.7 2424.6L292.1 2424.7L289.6 2425.2L287.1 2426.1L284.8 2427.3L282.6 2428.8L280.5 2430.7L278.5 2432.9L276.8 2435.4L275.2 2438.2L273.7 2441.2L272.4 2444.4L271.4 2447.9L270.5 2451.6L269.8 2455.4L269.3 2459.3L269 2463.3L268.9 2467.4L269 2471.5L269.3 2475.7L269.8 2479.8L270.5 2483.8L271.4 2487.7L272.4 2491.6L273.7 2495.2L275.2 2498.7L276.8 2502L278.5 2505.1L280.5 2507.9L282.6 2510.5L284.8 2512.7L287.1 2514.6L289.6 2516.3L292.1 2517.5L294.7 2518.5L297.4 2519L300.1 2519.2L302.8 2519.1L305.6 2518.6L308.3 2517.7L310.9 2516.5L313.5 2515L316 2513.1L318.3 2510.9L320.5 2508.4L322.6 2505.6L324.5 2502.6L326.1 2499.4L327.6 2495.9L328.7 2492.2L329.7 2488.4L330.4 2484.5L330.8 2480.5Z" fill="#ebdbd0"/>
<path d="M326.9 2475.9L326.8 2472.2L326.4 2468.6L325.9 2464.9L325 2461.3L324 2457.8L322.7 2454.4L321.3 2451.1L319.6 2448L317.8 2445.1L315.9 2442.4L313.8 2439.9L311.6 2437.6L309.4 2435.6L307 2433.9L304.6 2432.5L302.2 2431.3L299.8 2430.5L297.4 2430L295 2429.8L292.7 2430L290.4 2430.4L288.2 2431.2L286.1 2432.2L284.2 2433.6L282.3 2435.3L280.5 2437.2L278.9 2439.5L277.5 2441.9L276.2 2444.6L275.1 2447.5L274.1 2450.6L273.3 2453.8L272.6 2457.2L272.2 2460.7L271.9 2464.3L271.8 2467.9L271.9 2471.6L272.2 2475.2L272.6 2478.9L273.3 2482.5L274.1 2486L275.1 2489.4L276.2 2492.7L277.5 2495.8L278.9 2498.7L280.5 2501.4L282.3 2503.9L284.2 2506.2L286.1 2508.2L288.2 2509.9L290.4 2511.3L292.7 2512.5L295 2513.3L297.4 2513.8L299.8 2514L302.2 2513.8L304.6 2513.4L307 2512.6L309.4 2511.6L311.6 2510.2L313.8 2508.5L315.9 2506.6L317.8 2504.3L319.6 2501.9L321.3 2499.2L322.7 2496.3L324 2493.2L325 2490L325.9 2486.6L326.4 2483.1L326.8 2479.5Z" fill="#e0c9b8"/>
<path d="M323 2475.4L322.9 2472.2L322.6 2469L322.1 2465.8L321.4 2462.7L320.5 2459.6L319.4 2456.6L318.1 2453.7L316.7 2451L315.2 2448.5L313.5 2446.1L311.7 2443.9L309.8 2441.9L307.8 2440.2L305.8 2438.7L303.7 2437.4L301.6 2436.4L299.5 2435.7L297.4 2435.2L295.3 2435.1L293.3 2435.2L291.3 2435.6L289.4 2436.3L287.5 2437.2L285.8 2438.4L284.1 2439.9L282.6 2441.6L281.2 2443.5L279.9 2445.7L278.7 2448L277.7 2450.5L276.8 2453.2L276.1 2456.1L275.6 2459L275.2 2462.1L274.9 2465.2L274.8 2468.4L274.9 2471.6L275.2 2474.8L275.6 2478L276.1 2481.1L276.8 2484.2L277.7 2487.2L278.7 2490.1L279.9 2492.8L281.2 2495.3L282.6 2497.7L284.1 2499.9L285.8 2501.9L287.5 2503.6L289.4 2505.1L291.3 2506.4L293.3 2507.4L295.3 2508.1L297.4 2508.6L299.5 2508.7L301.6 2508.6L303.7 2508.2L305.8 2507.5L307.8 2506.6L309.8 2505.4L311.7 2503.9L313.5 2502.2L315.2 2500.3L316.7 2498.1L318.1 2495.8L319.4 2493.3L320.5 2490.6L321.4 2487.7L322.1 2484.8L322.6 2481.7L322.9 2478.6Z" fill="#d6b7a1"/>
<path d="M319.1 2474.9L319.1 2472.2L318.8 2469.4L318.4 2466.7L317.8 2464L317 2461.3L316.1 2458.8L315 2456.3L313.8 2454L312.5 2451.8L311.1 2449.8L309.6 2447.9L308 2446.2L306.3 2444.7L304.6 2443.4L302.8 2442.3L301 2441.5L299.2 2440.9L297.4 2440.5L295.6 2440.3L293.9 2440.4L292.1 2440.8L290.5 2441.4L288.9 2442.2L287.4 2443.2L285.9 2444.4L284.6 2445.9L283.4 2447.6L282.3 2449.4L281.3 2451.4L280.4 2453.6L279.6 2455.9L279 2458.3L278.5 2460.9L278.2 2463.5L278 2466.2L277.9 2468.9L278 2471.6L278.2 2474.4L278.5 2477.1L279 2479.8L279.6 2482.5L280.4 2485L281.3 2487.5L282.3 2489.8L283.4 2492L284.6 2494L285.9 2495.9L287.4 2497.6L288.9 2499.1L290.5 2500.4L292.1 2501.5L293.9 2502.3L295.6 2502.9L297.4 2503.3L299.2 2503.5L301 2503.4L302.8 2503L304.6 2502.4L306.3 2501.6L308 2500.6L309.6 2499.4L311.1 2497.9L312.5 2496.2L313.8 2494.4L315 2492.4L316.1 2490.2L317 2487.9L317.8 2485.5L318.4 2482.9L318.8 2480.3L319.1 2477.6Z" fill="#cca68a"/>
<path d="M315.4 2474.4L315.3 2472.1L315.1 2469.8L314.7 2467.5L314.2 2465.3L313.6 2463.1L312.9 2461L312 2458.9L311 2457L309.9 2455.2L308.8 2453.5L307.5 2451.9L306.2 2450.5L304.8 2449.2L303.4 2448.2L301.9 2447.3L300.4 2446.6L298.9 2446L297.4 2445.7L295.9 2445.6L294.4 2445.7L293 2446L291.6 2446.4L290.3 2447.1L289 2448L287.8 2449L286.7 2450.2L285.6 2451.6L284.7 2453.2L283.9 2454.8L283.1 2456.6L282.5 2458.6L281.9 2460.6L281.5 2462.7L281.2 2464.9L281.1 2467.1L281 2469.4L281.1 2471.7L281.2 2474L281.5 2476.3L281.9 2478.5L282.5 2480.7L283.1 2482.8L283.9 2484.9L284.7 2486.8L285.6 2488.6L286.7 2490.3L287.8 2491.9L289 2493.3L290.3 2494.6L291.6 2495.6L293 2496.5L294.4 2497.2L295.9 2497.8L297.4 2498.1L298.9 2498.2L300.4 2498.1L301.9 2497.8L303.4 2497.4L304.8 2496.7L306.2 2495.8L307.5 2494.8L308.8 2493.6L309.9 2492.2L311 2490.6L312 2489L312.9 2487.2L313.6 2485.2L314.2 2483.2L314.7 2481.1L315.1 2478.9L315.3 2476.7Z" fill="#c29472"/>
<path d="M311.6 2473.9L311.6 2472.1L311.4 2470.2L311.1 2468.4L310.7 2466.6L310.3 2464.9L309.7 2463.2L309 2461.5L308.2 2460L307.4 2458.5L306.4 2457.1L305.4 2455.9L304.4 2454.8L303.3 2453.8L302.2 2452.9L301 2452.2L299.8 2451.6L298.6 2451.2L297.4 2451L296.2 2450.9L295 2450.9L293.9 2451.2L292.8 2451.5L291.7 2452.1L290.7 2452.8L289.7 2453.6L288.8 2454.6L287.9 2455.7L287.2 2456.9L286.5 2458.2L285.9 2459.7L285.4 2461.2L284.9 2462.9L284.6 2464.5L284.4 2466.3L284.2 2468.1L284.2 2469.9L284.2 2471.7L284.4 2473.6L284.6 2475.4L284.9 2477.2L285.4 2478.9L285.9 2480.6L286.5 2482.3L287.2 2483.8L287.9 2485.3L288.8 2486.7L289.7 2487.9L290.7 2489L291.7 2490L292.8 2490.9L293.9 2491.6L295 2492.2L296.2 2492.6L297.4 2492.8L298.6 2492.9L299.8 2492.9L301 2492.6L302.2 2492.3L303.3 2491.7L304.4 2491L305.4 2490.2L306.4 2489.2L307.4 2488.1L308.2 2486.9L309 2485.6L309.7 2484.1L310.3 2482.6L310.7 2480.9L311.1 2479.3L311.4 2477.5L311.6 2475.7Z" fill="#b8825a"/>
<path d="M308 2473.4L307.9 2472L307.8 2470.6L307.6 2469.3L307.3 2467.9L307 2466.6L306.5 2465.3L306 2464.1L305.5 2463L304.8 2461.9L304.1 2460.8L303.4 2459.9L302.6 2459L301.8 2458.3L301 2457.7L300.1 2457.1L299.2 2456.7L298.3 2456.4L297.4 2456.2L296.5 2456.1L295.6 2456.2L294.8 2456.3L293.9 2456.6L293.1 2457L292.3 2457.5L291.6 2458.2L290.9 2458.9L290.3 2459.7L289.7 2460.7L289.2 2461.7L288.7 2462.7L288.3 2463.9L288 2465.1L287.7 2466.4L287.5 2467.7L287.4 2469L287.4 2470.4L287.4 2471.8L287.5 2473.2L287.7 2474.5L288 2475.9L288.3 2477.2L288.7 2478.5L289.2 2479.7L289.7 2480.8L290.3 2481.9L290.9 2483L291.6 2483.9L292.3 2484.8L293.1 2485.5L293.9 2486.1L294.8 2486.7L295.6 2487.1L296.5 2487.4L297.4 2487.6L298.3 2487.7L299.2 2487.6L300.1 2487.5L301 2487.2L301.8 2486.8L302.6 2486.3L303.4 2485.6L304.1 2484.9L304.8 2484.1L305.5 2483.1L306 2482.1L306.5 2481.1L307 2479.9L307.3 2478.7L307.6 2477.4L307.8 2476.1L307.9 2474.8Z" fill="#ad7043"/>
<path d="M304.4 2472.9L304.3 2471.1L304 2469.3L303.4 2467.5L302.7 2465.9L301.9 2464.5L300.9 2463.3L299.8 2462.4L298.6 2461.8L297.4 2461.4L296.2 2461.4L295.1 2461.7L294 2462.3L293 2463.2L292.2 2464.4L291.5 2465.8L291.1 2467.4L290.8 2469.1L290.7 2470.9L290.8 2472.7L291.1 2474.5L291.5 2476.3L292.2 2477.9L293 2479.3L294 2480.5L295.1 2481.4L296.2 2482L297.4 2482.4L298.6 2482.4L299.8 2482.1L300.9 2481.5L301.9 2480.6L302.7 2479.4L303.4 2478L304 2476.4L304.3 2474.7Z" fill="#a35e2c"/>
<path d="M300.9 2472.4L300.8 2471.5L300.7 2470.6L300.4 2469.7L300 2468.9L299.6 2468.2L299.1 2467.6L298.6 2467.2L298 2466.8L297.4 2466.7L296.8 2466.7L296.2 2466.8L295.7 2467.1L295.2 2467.6L294.8 2468.2L294.5 2468.8L294.2 2469.6L294.1 2470.5L294 2471.4L294.1 2472.3L294.2 2473.2L294.5 2474.1L294.8 2474.9L295.2 2475.6L295.7 2476.2L296.2 2476.6L296.8 2477L297.4 2477.1L298 2477.1L298.6 2477L299.1 2476.7L299.6 2476.2L300 2475.6L300.4 2475L300.7 2474.2L300.8 2473.3Z" fill="#994c14"/>
<path d="M335 2476.9L334.8 2472.3L334.4 2467.7L333.6 2463.2L332.5 2458.7L331.2 2454.3L329.6 2450L327.7 2446L325.6 2442.1L323.3 2438.4L320.8 2435L318.1 2431.9L315.4 2429.1L312.5 2426.6L309.5 2424.4L306.5 2422.6L303.5 2421.2L300.4 2420.2L297.4 2419.5L294.4 2419.3L291.5 2419.5L288.7 2420L286 2421L283.4 2422.3L281 2424.1L278.7 2426.1L276.6 2428.6L274.6 2431.3L272.8 2434.4L271.3 2437.8L269.9 2441.4L268.7 2445.2L267.7 2449.3L267 2453.5L266.4 2457.9L266.1 2462.4L266 2466.9L266.1 2471.5L266.4 2476.1L267 2480.6L267.7 2485.1L268.7 2489.5L269.9 2493.8L271.3 2497.8L272.8 2501.7L274.6 2505.4L276.6 2508.8L278.7 2511.9L281 2514.7L283.4 2517.2L286 2519.4L288.7 2521.2L291.5 2522.6L294.4 2523.6L297.4 2524.3L300.4 2524.5L303.5 2524.3L306.5 2523.8L309.5 2522.8L312.5 2521.5L315.4 2519.7L318.1 2517.7L320.8 2515.2L323.3 2512.5L325.6 2509.4L327.7 2506L329.6 2502.4L331.2 2498.6L332.5 2494.5L333.6 2490.3L334.4 2485.9L334.8 2481.4Z" fill="none" stroke="#9b4f17" stroke-width="1.4"/>
<path d="M315.4 2474.4L315.3 2472.1L315.1 2469.8L314.7 2467.5L314.2 2465.3L313.6 2463.1L312.9 2461L312 2458.9L311 2457L309.9 2455.2L308.8 2453.5L307.5 2451.9L306.2 2450.5L304.8 2449.2L303.4 2448.2L301.9 2447.3L300.4 2446.6L298.9 2446L297.4 2445.7L295.9 2445.6L294.4 2445.7L293 2446L291.6 2446.4L290.3 2447.1L289 2448L287.8 2449L286.7 2450.2L285.6 2451.6L284.7 2453.2L283.9 2454.8L283.1 2456.6L282.5 2458.6L281.9 2460.6L281.5 2462.7L281.2 2464.9L281.1 2467.1L281 2469.4L281.1 2471.7L281.2 2474L281.5 2476.3L281.9 2478.5L282.5 2480.7L283.1 2482.8L283.9 2484.9L284.7 2486.8L285.6 2488.6L286.7 2490.3L287.8 2491.9L289 2493.3L290.3 2494.6L291.6 2495.6L293 2496.5L294.4 2497.2L295.9 2497.8L297.4 2498.1L298.9 2498.2L300.4 2498.1L301.9 2497.8L303.4 2497.4L304.8 2496.7L306.2 2495.8L307.5 2494.8L308.8 2493.6L309.9 2492.2L311 2490.6L312 2489L312.9 2487.2L313.6 2485.2L314.2 2483.2L314.7 2481.1L315.1 2478.9L315.3 2476.7Z" fill="none" stroke="#9b4f17" stroke-width="3.5"/>
<circle cx="326" cy="2515.4" r="7.4" fill="#ff0000"/>
<circle cx="283.6" cy="2479.5" r="7.4" fill="#ff8c0a"/>
<circle cx="283.6" cy="2434" r="7.4" fill="#00ff00"/>
<circle cx="297.7" cy="2453.3" r="7.4" fill="#0064ff"/>
<circle cx="340.1" cy="2460.4" r="7.4" fill="#66c8ff"/>
<circle cx="297.7" cy="2486.9" r="7.4" fill="#8a1fff"/>
<circle cx="297.7" cy="2505.1" r="7.4" fill="#ff00ff"/>
<circle cx="297.7" cy="2466.5" r="7.4" fill="#cc99ff"/>
<circle cx="311.9" cy="2456.3" r="7.4" fill="#c46a28"/>
<circle cx="297.7" cy="2472.2" r="7.4" fill="#aaaaaa"/>
<circle cx="283.6" cy="2494.8" r="7.4" fill="#000000"/>
<path d="M261.8 2492.1L277.2 2492.1L269.5 2476.9Z" fill="#ff0000"/>
<path d="M275.9 2467.1L291.3 2467.1L283.6 2451.9Z" fill="#00ff00"/>
<path d="M275.9 2468.1L291.3 2468.1L283.6 2452.9Z" fill="#0064ff"/>
<path d="M275.9 2485.2L291.3 2485.2L283.6 2470Z" fill="#66c8ff"/>
<path d="M261.8 2485.8L277.2 2485.8L269.5 2470.6Z" fill="#8a1fff"/>
<path d="M304.2 2499.3L319.6 2499.3L311.9 2484.1Z" fill="#ff00ff"/>
<path d="M304.2 2510.1L319.6 2510.1L311.9 2494.9Z" fill="#ff8c0a"/>
<path d="M290 2399.4L305.4 2399.4L297.7 2384.2Z" fill="#cc99ff"/>
<path d="M304.2 2473.4L319.6 2473.4L311.9 2458.2Z" fill="#c46a28"/>
<path d="M304.2 2487.2L319.6 2487.2L311.9 2472Z" fill="#000000"/>
<path d="M521.2 2458.6L520.9 2449.5L520.1 2440.5L518.6 2431.5L516.7 2422.8L514.2 2414.3L511.2 2406.1L507.8 2398.2L503.9 2390.8L499.7 2383.9L495.1 2377.5L490.1 2371.7L485 2366.5L479.6 2362L474.1 2358.2L468.4 2355.2L462.7 2352.9L457 2351.3L451.3 2350.6L445.7 2350.6L440.2 2351.5L434.8 2353.1L429.6 2355.5L424.7 2358.6L420 2362.5L415.6 2367.1L411.5 2372.3L407.7 2378.2L404.3 2384.7L401.2 2391.7L398.5 2399.1L396.2 2407L394.3 2415.3L392.8 2423.8L391.8 2432.6L391.1 2441.5L390.9 2450.6L391.1 2459.7L391.8 2468.7L392.8 2477.7L394.3 2486.4L396.2 2494.9L398.5 2503.1L401.2 2511L404.3 2518.4L407.7 2525.3L411.5 2531.7L415.6 2537.5L420 2542.7L424.7 2547.2L429.6 2551L434.8 2554L440.2 2556.3L445.7 2557.9L451.3 2558.6L457 2558.6L462.7 2557.7L468.4 2556.1L474.1 2553.7L479.6 2550.6L485 2546.7L490.1 2542.1L495.1 2536.9L499.7 2531L503.9 2524.5L507.8 2517.5L511.2 2510.1L514.2 2502.2L516.7 2493.9L518.6 2485.4L520.1 2476.6L520.9 2467.7Z" fill="#f5ede8"/>
<path d="M513.7 2458.2L513.5 2450L512.7 2441.9L511.5 2433.8L509.7 2426L507.5 2418.3L504.9 2410.9L501.8 2403.9L498.4 2397.2L494.6 2390.9L490.5 2385.2L486.1 2380L481.5 2375.3L476.7 2371.3L471.7 2367.9L466.7 2365.1L461.6 2363L456.4 2361.6L451.3 2361L446.2 2361L441.3 2361.8L436.4 2363.2L431.8 2365.4L427.3 2368.2L423 2371.7L419 2375.8L415.3 2380.6L411.8 2385.9L408.7 2391.7L405.9 2398L403.5 2404.7L401.4 2411.8L399.7 2419.2L398.3 2426.9L397.3 2434.8L396.7 2442.9L396.6 2451L396.7 2459.2L397.3 2467.3L398.3 2475.4L399.7 2483.2L401.4 2490.9L403.5 2498.3L405.9 2505.3L408.7 2512L411.8 2518.3L415.3 2524L419 2529.2L423 2533.9L427.3 2537.9L431.8 2541.3L436.4 2544.1L441.3 2546.2L446.2 2547.6L451.3 2548.2L456.4 2548.2L461.6 2547.4L466.7 2546L471.7 2543.8L476.7 2541L481.5 2537.5L486.1 2533.4L490.5 2528.6L494.6 2523.3L498.4 2517.5L501.8 2511.2L504.9 2504.5L507.5 2497.4L509.7 2490L511.5 2482.3L512.7 2474.4L513.5 2466.3Z" fill="#ebdbd0"/>
<path d="M506.4 2457.8L506.2 2450.5L505.5 2443.3L504.4 2436.2L502.9 2429.1L501 2422.3L498.6 2415.8L495.9 2409.5L492.9 2403.6L489.6 2398L486 2392.9L482.1 2388.3L478 2384.1L473.8 2380.5L469.4 2377.5L464.9 2375L460.4 2373.2L455.8 2372L451.3 2371.4L446.8 2371.4L442.4 2372.1L438.1 2373.4L433.9 2375.3L429.9 2377.8L426.1 2380.9L422.5 2384.6L419.1 2388.8L416.1 2393.5L413.2 2398.7L410.7 2404.2L408.5 2410.2L406.6 2416.5L405.1 2423.1L403.9 2430L403 2437L402.5 2444.2L402.3 2451.4L402.5 2458.7L403 2465.9L403.9 2473L405.1 2480.1L406.6 2486.9L408.5 2493.4L410.7 2499.7L413.2 2505.6L416.1 2511.2L419.1 2516.3L422.5 2520.9L426.1 2525.1L429.9 2528.7L433.9 2531.7L438.1 2534.2L442.4 2536L446.8 2537.2L451.3 2537.8L455.8 2537.8L460.4 2537.1L464.9 2535.8L469.4 2533.9L473.8 2531.4L478 2528.3L482.1 2524.6L486 2520.4L489.6 2515.7L492.9 2510.5L495.9 2505L498.6 2499L501 2492.7L502.9 2486.1L504.4 2479.2L505.5 2472.2L506.2 2465Z" fill="#e0c9b8"/>
<path d="M499.1 2457.4L499 2451L498.4 2444.7L497.4 2438.5L496.1 2432.3L494.5 2426.4L492.5 2420.6L490.1 2415.1L487.5 2409.9L484.6 2405.1L481.5 2400.6L478.1 2396.6L474.6 2392.9L470.9 2389.8L467.1 2387.1L463.2 2385L459.3 2383.4L455.3 2382.3L451.3 2381.8L447.4 2381.8L443.5 2382.4L439.7 2383.5L436 2385.2L432.5 2387.4L429.1 2390.1L426 2393.3L423 2397L420.3 2401.1L417.8 2405.6L415.6 2410.5L413.6 2415.8L412 2421.3L410.6 2427.1L409.5 2433L408.7 2439.2L408.3 2445.5L408.1 2451.8L408.3 2458.2L408.7 2464.5L409.5 2470.7L410.6 2476.9L412 2482.8L413.6 2488.6L415.6 2494.1L417.8 2499.3L420.3 2504.1L423 2508.6L426 2512.6L429.1 2516.3L432.5 2519.4L436 2522.1L439.7 2524.2L443.5 2525.8L447.4 2526.9L451.3 2527.4L455.3 2527.4L459.3 2526.8L463.2 2525.7L467.1 2524L470.9 2521.8L474.6 2519.1L478.1 2515.9L481.5 2512.2L484.6 2508.1L487.5 2503.6L490.1 2498.7L492.5 2493.4L494.5 2487.9L496.1 2482.1L497.4 2476.2L498.4 2470L499 2463.7Z" fill="#d6b7a1"/>
<path d="M492 2457L491.8 2451.6L491.4 2446.1L490.6 2440.8L489.5 2435.5L488 2430.4L486.3 2425.5L484.4 2420.8L482.2 2416.3L479.7 2412.2L477.1 2408.3L474.2 2404.9L471.2 2401.7L468.1 2399L464.8 2396.8L461.5 2394.9L458.1 2393.6L454.7 2392.6L451.3 2392.2L447.9 2392.2L444.6 2392.7L441.3 2393.7L438.2 2395.1L435.1 2397L432.2 2399.3L429.5 2402.1L427 2405.2L424.6 2408.8L422.4 2412.6L420.5 2416.8L418.8 2421.3L417.4 2426L416.2 2431L415.2 2436.1L414.5 2441.4L414.1 2446.8L414 2452.2L414.1 2457.6L414.5 2463.1L415.2 2468.4L416.2 2473.7L417.4 2478.8L418.8 2483.7L420.5 2488.4L422.4 2492.9L424.6 2497L427 2500.9L429.5 2504.3L432.2 2507.5L435.1 2510.2L438.2 2512.4L441.3 2514.3L444.6 2515.6L447.9 2516.6L451.3 2517L454.7 2517L458.1 2516.5L461.5 2515.5L464.8 2514.1L468.1 2512.2L471.2 2509.9L474.2 2507.1L477.1 2504L479.7 2500.4L482.2 2496.6L484.4 2492.4L486.3 2487.9L488 2483.2L489.5 2478.2L490.6 2473.1L491.4 2467.8L491.8 2462.4Z" fill="#cca68a"/>
<path d="M485 2456.6L484.8 2452.1L484.4 2447.5L483.8 2443.1L482.9 2438.7L481.7 2434.4L480.3 2430.3L478.7 2426.4L476.9 2422.7L474.9 2419.2L472.7 2416L470.3 2413.1L467.8 2410.6L465.2 2408.3L462.5 2406.4L459.8 2404.9L457 2403.7L454.1 2403L451.3 2402.6L448.5 2402.6L445.7 2403L443 2403.8L440.3 2405L437.8 2406.6L435.4 2408.6L433.1 2410.8L430.9 2413.5L428.9 2416.4L427.1 2419.6L425.5 2423.1L424.1 2426.9L422.8 2430.8L421.8 2434.9L421 2439.2L420.5 2443.6L420.1 2448.1L420 2452.6L420.1 2457.1L420.5 2461.7L421 2466.1L421.8 2470.5L422.8 2474.8L424.1 2478.9L425.5 2482.8L427.1 2486.5L428.9 2490L430.9 2493.2L433.1 2496.1L435.4 2498.6L437.8 2500.9L440.3 2502.8L443 2504.3L445.7 2505.5L448.5 2506.2L451.3 2506.6L454.1 2506.6L457 2506.2L459.8 2505.4L462.5 2504.2L465.2 2502.6L467.8 2500.6L470.3 2498.4L472.7 2495.7L474.9 2492.8L476.9 2489.6L478.7 2486.1L480.3 2482.3L481.7 2478.4L482.9 2474.3L483.8 2470L484.4 2465.6L484.8 2461.1Z" fill="#c29472"/>
<path d="M478 2456.2L477.9 2452.6L477.6 2449L477.1 2445.4L476.4 2441.9L475.5 2438.5L474.4 2435.2L473.1 2432L471.6 2429.1L470 2426.3L468.3 2423.8L466.4 2421.4L464.5 2419.4L462.4 2417.6L460.3 2416L458.1 2414.8L455.8 2413.9L453.6 2413.3L451.3 2413L449 2413L446.8 2413.3L444.6 2414L442.5 2415L440.5 2416.2L438.5 2417.8L436.7 2419.6L434.9 2421.7L433.3 2424L431.8 2426.6L430.5 2429.4L429.4 2432.4L428.4 2435.6L427.6 2438.9L426.9 2442.3L426.4 2445.8L426.2 2449.4L426.1 2453L426.2 2456.6L426.4 2460.2L426.9 2463.8L427.6 2467.3L428.4 2470.7L429.4 2474L430.5 2477.2L431.8 2480.1L433.3 2482.9L434.9 2485.4L436.7 2487.8L438.5 2489.8L440.5 2491.6L442.5 2493.2L444.6 2494.4L446.8 2495.3L449 2495.9L451.3 2496.2L453.6 2496.2L455.8 2495.9L458.1 2495.2L460.3 2494.2L462.4 2493L464.5 2491.4L466.4 2489.6L468.3 2487.5L470 2485.2L471.6 2482.6L473.1 2479.8L474.4 2476.8L475.5 2473.6L476.4 2470.3L477.1 2466.9L477.6 2463.4L477.9 2459.8Z" fill="#b8825a"/>
<path d="M471.2 2455.8L471.1 2453.1L470.9 2450.4L470.5 2447.7L470 2445.1L469.3 2442.5L468.5 2440L467.5 2437.7L466.5 2435.5L465.3 2433.4L464 2431.5L462.6 2429.7L461.1 2428.2L459.6 2426.8L458 2425.7L456.4 2424.8L454.7 2424.1L453 2423.6L451.3 2423.4L449.6 2423.4L447.9 2423.7L446.3 2424.1L444.7 2424.9L443.1 2425.8L441.7 2427L440.3 2428.3L439 2429.9L437.7 2431.7L436.6 2433.6L435.6 2435.7L434.7 2438L434 2440.3L433.4 2442.8L432.9 2445.4L432.5 2448L432.3 2450.7L432.2 2453.4L432.3 2456.1L432.5 2458.8L432.9 2461.5L433.4 2464.1L434 2466.7L434.7 2469.2L435.6 2471.5L436.6 2473.7L437.7 2475.8L439 2477.7L440.3 2479.5L441.7 2481L443.1 2482.4L444.7 2483.5L446.3 2484.4L447.9 2485.1L449.6 2485.6L451.3 2485.8L453 2485.8L454.7 2485.5L456.4 2485.1L458 2484.3L459.6 2483.4L461.1 2482.2L462.6 2480.9L464 2479.3L465.3 2477.5L466.5 2475.6L467.5 2473.5L468.5 2471.2L469.3 2468.9L470 2466.4L470.5 2463.8L470.9 2461.2L471.1 2458.5Z" fill="#ad7043"/>
<path d="M464.5 2455.4L464.3 2451.8L463.7 2448.2L462.7 2444.9L461.4 2441.8L459.7 2439.2L457.8 2437L455.8 2435.3L453.6 2434.3L451.3 2433.8L449.1 2434L446.9 2434.8L444.9 2436.2L443 2438.1L441.5 2440.6L440.2 2443.5L439.3 2446.7L438.7 2450.2L438.5 2453.8L438.7 2457.4L439.3 2461L440.2 2464.3L441.5 2467.4L443 2470L444.9 2472.2L446.9 2473.9L449.1 2474.9L451.3 2475.4L453.6 2475.2L455.8 2474.4L457.8 2473L459.7 2471.1L461.4 2468.6L462.7 2465.7L463.7 2462.5L464.3 2459Z" fill="#a35e2c"/>
<path d="M457.8 2455L457.7 2453.2L457.4 2451.4L457 2449.7L456.3 2448.2L455.5 2446.9L454.6 2445.8L453.5 2445L452.4 2444.4L451.3 2444.2L450.2 2444.3L449.1 2444.7L448.1 2445.4L447.1 2446.4L446.4 2447.6L445.7 2449.1L445.2 2450.7L445 2452.4L444.9 2454.2L445 2456L445.2 2457.8L445.7 2459.5L446.4 2461L447.1 2462.3L448.1 2463.4L449.1 2464.2L450.2 2464.8L451.3 2465L452.4 2464.9L453.5 2464.5L454.6 2463.8L455.5 2462.8L456.3 2461.6L457 2460.1L457.4 2458.5L457.7 2456.8Z" fill="#994c14"/>
<path d="M521.2 2458.6L520.9 2449.5L520.1 2440.5L518.6 2431.5L516.7 2422.8L514.2 2414.3L511.2 2406.1L507.8 2398.2L503.9 2390.8L499.7 2383.9L495.1 2377.5L490.1 2371.7L485 2366.5L479.6 2362L474.1 2358.2L468.4 2355.2L462.7 2352.9L457 2351.3L451.3 2350.6L445.7 2350.6L440.2 2351.5L434.8 2353.1L429.6 2355.5L424.7 2358.6L420 2362.5L415.6 2367.1L411.5 2372.3L407.7 2378.2L404.3 2384.7L401.2 2391.7L398.5 2399.1L396.2 2407L394.3 2415.3L392.8 2423.8L391.8 2432.6L391.1 2441.5L390.9 2450.6L391.1 2459.7L391.8 2468.7L392.8 2477.7L394.3 2486.4L396.2 2494.9L398.5 2503.1L401.2 2511L404.3 2518.4L407.7 2525.3L411.5 2531.7L415.6 2537.5L420 2542.7L424.7 2547.2L429.6 2551L434.8 2554L440.2 2556.3L445.7 2557.9L451.3 2558.6L457 2558.6L462.7 2557.7L468.4 2556.1L474.1 2553.7L479.6 2550.6L485 2546.7L490.1 2542.1L495.1 2536.9L499.7 2531L503.9 2524.5L507.8 2517.5L511.2 2510.1L514.2 2502.2L516.7 2493.9L518.6 2485.4L520.1 2476.6L520.9 2467.7Z" fill="none" stroke="#9b4f17" stroke-width="1.4"/>
<path d="M485 2456.6L484.8 2452.1L484.4 2447.5L483.8 2443.1L482.9 2438.7L481.7 2434.4L480.3 2430.3L478.7 2426.4L476.9 2422.7L474.9 2419.2L472.7 2416L470.3 2413.1L467.8 2410.6L465.2 2408.3L462.5 2406.4L459.8 2404.9L457 2403.7L454.1 2403L451.3 2402.6L448.5 2402.6L445.7 2403L443 2403.8L440.3 2405L437.8 2406.6L435.4 2408.6L433.1 2410.8L430.9 2413.5L428.9 2416.4L427.1 2419.6L425.5 2423.1L424.1 2426.9L422.8 2430.8L421.8 2434.9L421 2439.2L420.5 2443.6L420.1 2448.1L420 2452.6L420.1 2457.1L420.5 2461.7L421 2466.1L421.8 2470.5L422.8 2474.8L424.1 2478.9L425.5 2482.8L427.1 2486.5L428.9 2490L430.9 2493.2L433.1 2496.1L435.4 2498.6L437.8 2500.9L440.3 2502.8L443 2504.3L445.7 2505.5L448.5 2506.2L451.3 2506.6L454.1 2506.6L457 2506.2L459.8 2505.4L462.5 2504.2L465.2 2502.6L467.8 2500.6L470.3 2498.4L472.7 2495.7L474.9 2492.8L476.9 2489.6L478.7 2486.1L480.3 2482.3L481.7 2478.4L482.9 2474.3L483.8 2470L484.4 2465.6L484.8 2461.1Z" fill="none" stroke="#9b4f17" stroke-width="3.5"/>
<circle cx="509.4" cy="2539.6" r="7.4" fill="#ff0000"/>
<circle cx="424.8" cy="2470.7" r="7.4" fill="#ff8c0a"/>
<circle cx="438.9" cy="2378.7" r="7.4" fill="#00ff00"/>
<circle cx="453" cy="2416" r="7.4" fill="#0064ff"/>
<circle cx="438.9" cy="2483.8" r="7.4" fill="#8a1fff"/>
<circle cx="453" cy="2519.8" r="7.4" fill="#ff00ff"/>
<circle cx="453" cy="2444.9" r="7.4" fill="#cc99ff"/>
<circle cx="467.1" cy="2422.7" r="7.4" fill="#c46a28"/>
<circle cx="453" cy="2454.6" r="7.4" fill="#aaaaaa"/>
<circle cx="438.9" cy="2500.6" r="7.4" fill="#000000"/>
<path d="M374.7 2487.9L390.1 2487.9L382.4 2472.7Z" fill="#ff0000"/>
<path d="M431.2 2436.5L446.6 2436.5L438.9 2421.3Z" fill="#00ff00"/>
<path d="M402.9 2439.9L418.3 2439.9L410.6 2424.7Z" fill="#0064ff"/>
<path d="M417.1 2474.5L432.5 2474.5L424.8 2459.3Z" fill="#66c8ff"/>
<path d="M402.9 2474.5L418.3 2474.5L410.6 2459.3Z" fill="#8a1fff"/>
<path d="M473.5 2499L488.9 2499L481.2 2483.8Z" fill="#ff00ff"/>
<path d="M473.5 2518.5L488.9 2518.5L481.2 2503.3Z" fill="#ff8c0a"/>
<path d="M459.4 2300.9L474.8 2300.9L467.1 2285.7Z" fill="#cc99ff"/>
<path d="M459.4 2447.6L474.8 2447.6L467.1 2432.4Z" fill="#c46a28"/>
<path d="M459.4 2477.8L474.8 2477.8L467.1 2462.6Z" fill="#000000"/>
<path d="M713.7 2442.3L713.2 2428.9L711.9 2415.6L709.6 2402.4L706.5 2389.5L702.5 2376.9L697.8 2364.8L692.3 2353.2L686.2 2342.3L679.4 2332L672.2 2322.6L664.5 2314L656.4 2306.4L648 2299.7L639.4 2294.1L630.7 2289.6L621.9 2286.2L613.2 2283.9L604.5 2282.8L596 2282.9L587.7 2284.1L579.6 2286.5L571.9 2290L564.5 2294.7L557.6 2300.4L551 2307.1L545 2314.9L539.5 2323.5L534.4 2333.1L530 2343.4L526.1 2354.4L522.7 2366L520 2378.2L517.9 2390.8L516.3 2403.8L515.4 2417L515.1 2430.3L515.4 2443.8L516.3 2457.1L517.9 2470.3L520 2483.2L522.7 2495.8L526.1 2507.9L530 2519.5L534.4 2530.4L539.5 2540.7L545 2550.1L551 2558.7L557.6 2566.3L564.5 2573L571.9 2578.6L579.6 2583.1L587.7 2586.5L596 2588.8L604.5 2589.9L613.2 2589.8L621.9 2588.6L630.7 2586.2L639.4 2582.7L648 2578L656.4 2572.3L664.5 2565.6L672.2 2557.8L679.4 2549.2L686.2 2539.6L692.3 2529.3L697.8 2518.3L702.5 2506.7L706.5 2494.5L709.6 2481.9L711.9 2468.9L713.2 2455.7Z" fill="#f5ede8"/>
<path d="M701.8 2441.8L701.4 2429.7L700.2 2417.7L698.2 2405.8L695.4 2394.2L691.9 2382.8L687.7 2371.9L682.9 2361.5L677.4 2351.7L671.4 2342.5L665 2334L658.1 2326.3L650.9 2319.4L643.5 2313.4L635.8 2308.4L628 2304.3L620.2 2301.2L612.3 2299.2L604.5 2298.2L596.8 2298.2L589.3 2299.3L582.1 2301.5L575.1 2304.7L568.4 2308.8L562.1 2314L556.1 2320.1L550.6 2327L545.6 2334.8L541 2343.4L536.9 2352.7L533.3 2362.6L530.3 2373.1L527.8 2384L525.8 2395.4L524.4 2407L523.5 2418.9L523.3 2430.9L523.5 2443L524.4 2455L525.8 2466.9L527.8 2478.5L530.3 2489.9L533.3 2500.8L536.9 2511.2L541 2521L545.6 2530.2L550.6 2538.7L556.1 2546.4L562.1 2553.3L568.4 2559.3L575.1 2564.3L582.1 2568.4L589.3 2571.5L596.8 2573.5L604.5 2574.5L612.3 2574.5L620.2 2573.4L628 2571.2L635.8 2568L643.5 2563.9L650.9 2558.7L658.1 2552.6L665 2545.7L671.4 2537.9L677.4 2529.3L682.9 2520L687.7 2510.1L691.9 2499.6L695.4 2488.7L698.2 2477.3L700.2 2465.7L701.4 2453.8Z" fill="#ebdbd0"/>
<path d="M690.1 2441.2L689.7 2430.4L688.7 2419.7L686.9 2409.2L684.5 2398.9L681.5 2388.8L677.8 2379.1L673.6 2369.8L668.8 2361.1L663.6 2352.9L657.9 2345.3L651.9 2338.5L645.6 2332.4L639 2327.1L632.2 2322.6L625.4 2319L618.4 2316.2L611.4 2314.4L604.5 2313.5L597.7 2313.6L591 2314.6L584.5 2316.5L578.2 2319.3L572.3 2323L566.6 2327.6L561.3 2333L556.3 2339.2L551.7 2346.1L547.6 2353.7L543.9 2362L540.7 2370.8L537.9 2380.1L535.7 2389.8L533.9 2399.9L532.6 2410.3L531.8 2420.9L531.6 2431.5L531.8 2442.3L532.6 2453L533.9 2463.5L535.7 2473.8L537.9 2483.9L540.7 2493.6L543.9 2502.9L547.6 2511.6L551.7 2519.8L556.3 2527.4L561.3 2534.2L566.6 2540.3L572.3 2545.6L578.2 2550.1L584.5 2553.7L591 2556.5L597.7 2558.3L604.5 2559.2L611.4 2559.1L618.4 2558.1L625.4 2556.2L632.2 2553.4L639 2549.7L645.6 2545.1L651.9 2539.7L657.9 2533.5L663.6 2526.6L668.8 2519L673.6 2510.7L677.8 2501.9L681.5 2492.6L684.5 2482.9L686.9 2472.8L688.7 2462.4L689.7 2451.8Z" fill="#e0c9b8"/>
<path d="M678.6 2440.5L678.3 2431.2L677.4 2421.8L675.9 2412.6L673.8 2403.5L671.2 2394.7L668.1 2386.3L664.4 2378.1L660.3 2370.5L655.8 2363.3L650.9 2356.7L645.7 2350.7L640.3 2345.4L634.6 2340.7L628.7 2336.8L622.7 2333.6L616.6 2331.2L610.6 2329.7L604.5 2328.9L598.5 2328.9L592.7 2329.8L586.9 2331.5L581.4 2333.9L576.2 2337.2L571.2 2341.2L566.4 2345.9L562.1 2351.3L558 2357.4L554.3 2364.1L551.1 2371.3L548.2 2379L545.7 2387.1L543.7 2395.6L542.1 2404.5L541 2413.6L540.3 2422.8L540.1 2432.2L540.3 2441.5L541 2450.9L542.1 2460.1L543.7 2469.2L545.7 2478L548.2 2486.4L551.1 2494.6L554.3 2502.2L558 2509.4L562.1 2516L566.4 2522L571.2 2527.3L576.2 2532L581.4 2535.9L586.9 2539.1L592.7 2541.5L598.5 2543L604.5 2543.8L610.6 2543.8L616.6 2542.9L622.7 2541.2L628.7 2538.8L634.6 2535.5L640.3 2531.5L645.7 2526.8L650.9 2521.4L655.8 2515.3L660.3 2508.6L664.4 2501.4L668.1 2493.7L671.2 2485.6L673.8 2477.1L675.9 2468.2L677.4 2459.1L678.3 2449.9Z" fill="#d6b7a1"/>
<path d="M667.4 2439.9L667.1 2431.9L666.4 2423.9L665.1 2416L663.4 2408.2L661.2 2400.7L658.5 2393.4L655.4 2386.5L652 2379.9L648.2 2373.8L644 2368.1L639.6 2363L635 2358.4L630.2 2354.4L625.2 2351L620.1 2348.3L614.9 2346.3L609.7 2344.9L604.5 2344.2L599.4 2344.3L594.3 2345L589.4 2346.4L584.7 2348.6L580.1 2351.3L575.8 2354.8L571.7 2358.8L567.9 2363.5L564.4 2368.7L561.2 2374.4L558.3 2380.6L555.8 2387.2L553.7 2394.2L551.9 2401.5L550.5 2409L549.5 2416.8L548.9 2424.7L548.7 2432.8L548.9 2440.8L549.5 2448.8L550.5 2456.7L551.9 2464.5L553.7 2472L555.8 2479.3L558.3 2486.2L561.2 2492.8L564.4 2498.9L567.9 2504.6L571.7 2509.7L575.8 2514.3L580.1 2518.3L584.7 2521.7L589.4 2524.4L594.3 2526.4L599.4 2527.8L604.5 2528.5L609.7 2528.4L614.9 2527.7L620.1 2526.3L625.2 2524.1L630.2 2521.4L635 2517.9L639.6 2513.9L644 2509.2L648.2 2504L652 2498.3L655.4 2492.1L658.5 2485.5L661.2 2478.5L663.4 2471.2L665.1 2463.7L666.4 2455.9L667.1 2448Z" fill="#cca68a"/>
<path d="M656.4 2439.3L656.2 2432.6L655.5 2426L654.5 2419.4L653.1 2412.9L651.3 2406.6L649.1 2400.6L646.6 2394.8L643.8 2389.3L640.6 2384.2L637.2 2379.5L633.6 2375.2L629.8 2371.4L625.8 2368L621.7 2365.2L617.4 2363L613.1 2361.3L608.8 2360.1L604.5 2359.6L600.2 2359.6L596 2360.2L591.9 2361.4L587.9 2363.2L584.1 2365.5L580.4 2368.4L577 2371.7L573.8 2375.6L570.8 2379.9L568.1 2384.7L565.7 2389.9L563.6 2395.4L561.8 2401.2L560.3 2407.3L559.1 2413.6L558.2 2420.1L557.7 2426.7L557.6 2433.3L557.7 2440.1L558.2 2446.7L559.1 2453.3L560.3 2459.8L561.8 2466.1L563.6 2472.1L565.7 2477.9L568.1 2483.4L570.8 2488.5L573.8 2493.2L577 2497.5L580.4 2501.3L584.1 2504.7L587.9 2507.5L591.9 2509.7L596 2511.4L600.2 2512.6L604.5 2513.1L608.8 2513.1L613.1 2512.5L617.4 2511.3L621.7 2509.5L625.8 2507.2L629.8 2504.3L633.6 2501L637.2 2497.1L640.6 2492.8L643.8 2488L646.6 2482.8L649.1 2477.3L651.3 2471.5L653.1 2465.4L654.5 2459.1L655.5 2452.6L656.2 2446Z" fill="#c29472"/>
<path d="M645.6 2438.8L645.4 2433.4L644.9 2428L644.1 2422.8L643 2417.6L641.6 2412.6L639.9 2407.7L637.9 2403.1L635.7 2398.7L633.2 2394.6L630.5 2390.8L627.7 2387.4L624.6 2384.4L621.5 2381.7L618.2 2379.5L614.8 2377.7L611.4 2376.3L608 2375.4L604.5 2374.9L601.1 2375L597.7 2375.5L594.4 2376.4L591.2 2377.8L588.1 2379.7L585.2 2382L582.4 2384.7L579.8 2387.8L577.4 2391.2L575.2 2395L573.2 2399.2L571.5 2403.6L570 2408.2L568.8 2413.1L567.8 2418.1L567.1 2423.3L566.7 2428.6L566.6 2433.9L566.7 2439.3L567.1 2444.7L567.8 2449.9L568.8 2455.1L570 2460.1L571.5 2465L573.2 2469.6L575.2 2474L577.4 2478.1L579.8 2481.9L582.4 2485.3L585.2 2488.3L588.1 2491L591.2 2493.2L594.4 2495L597.7 2496.4L601.1 2497.3L604.5 2497.8L608 2497.7L611.4 2497.2L614.8 2496.3L618.2 2494.9L621.5 2493L624.6 2490.7L627.7 2488L630.5 2484.9L633.2 2481.5L635.7 2477.7L637.9 2473.5L639.9 2469.1L641.6 2464.5L643 2459.6L644.1 2454.6L644.9 2449.4L645.4 2444.1Z" fill="#b8825a"/>
<path d="M635 2438.2L634.9 2434.1L634.5 2430.1L633.9 2426.2L633.1 2422.3L632.1 2418.5L630.8 2414.9L629.3 2411.4L627.7 2408.1L625.9 2405.1L623.9 2402.2L621.8 2399.7L619.5 2397.4L617.2 2395.4L614.7 2393.7L612.2 2392.3L609.7 2391.3L607.1 2390.6L604.5 2390.3L601.9 2390.3L599.4 2390.7L596.9 2391.4L594.5 2392.5L592.2 2393.8L589.9 2395.6L587.8 2397.6L585.8 2399.9L584 2402.5L582.3 2405.4L580.8 2408.5L579.5 2411.8L578.4 2415.3L577.5 2418.9L576.7 2422.7L576.2 2426.6L575.9 2430.5L575.8 2434.5L575.9 2438.6L576.2 2442.6L576.7 2446.5L577.5 2450.4L578.4 2454.2L579.5 2457.8L580.8 2461.3L582.3 2464.6L584 2467.6L585.8 2470.5L587.8 2473L589.9 2475.3L592.2 2477.3L594.5 2479L596.9 2480.4L599.4 2481.4L601.9 2482.1L604.5 2482.4L607.1 2482.4L609.7 2482L612.2 2481.3L614.7 2480.2L617.2 2478.9L619.5 2477.1L621.8 2475.1L623.9 2472.8L625.9 2470.2L627.7 2467.3L629.3 2464.2L630.8 2460.9L632.1 2457.4L633.1 2453.8L633.9 2450L634.5 2446.1L634.9 2442.2Z" fill="#ad7043"/>
<path d="M624.6 2437.5L624.3 2432.2L623.4 2427L621.9 2422L619.8 2417.5L617.3 2413.6L614.5 2410.4L611.3 2407.9L607.9 2406.3L604.5 2405.6L601.1 2405.9L597.8 2407.1L594.7 2409.2L592 2412.1L589.6 2415.7L587.7 2420L586.3 2424.7L585.4 2429.8L585.2 2435.2L585.4 2440.5L586.3 2445.7L587.7 2450.7L589.6 2455.2L592 2459.1L594.7 2462.3L597.8 2464.8L601.1 2466.4L604.5 2467.1L607.9 2466.8L611.3 2465.6L614.5 2463.5L617.3 2460.6L619.8 2457L621.9 2452.7L623.4 2448L624.3 2442.9Z" fill="#a35e2c"/>
<path d="M614.5 2436.9L614.3 2434.3L613.9 2431.7L613.1 2429.2L612.1 2426.9L610.9 2425L609.5 2423.4L607.9 2422.1L606.2 2421.3L604.5 2421L602.8 2421.1L601.1 2421.7L599.6 2422.8L598.2 2424.2L597 2426L596 2428.2L595.3 2430.5L594.9 2433.1L594.7 2435.8L594.9 2438.4L595.3 2441L596 2443.5L597 2445.8L598.2 2447.7L599.6 2449.3L601.1 2450.6L602.8 2451.4L604.5 2451.7L606.2 2451.6L607.9 2451L609.5 2449.9L610.9 2448.5L612.1 2446.7L613.1 2444.5L613.9 2442.2L614.3 2439.6Z" fill="#994c14"/>
<path d="M713.7 2442.3L713.2 2428.9L711.9 2415.6L709.6 2402.4L706.5 2389.5L702.5 2376.9L697.8 2364.8L692.3 2353.2L686.2 2342.3L679.4 2332L672.2 2322.6L664.5 2314L656.4 2306.4L648 2299.7L639.4 2294.1L630.7 2289.6L621.9 2286.2L613.2 2283.9L604.5 2282.8L596 2282.9L587.7 2284.1L579.6 2286.5L571.9 2290L564.5 2294.7L557.6 2300.4L551 2307.1L545 2314.9L539.5 2323.5L534.4 2333.1L530 2343.4L526.1 2354.4L522.7 2366L520 2378.2L517.9 2390.8L516.3 2403.8L515.4 2417L515.1 2430.3L515.4 2443.8L516.3 2457.1L517.9 2470.3L520 2483.2L522.7 2495.8L526.1 2507.9L530 2519.5L534.4 2530.4L539.5 2540.7L545 2550.1L551 2558.7L557.6 2566.3L564.5 2573L571.9 2578.6L579.6 2583.1L587.7 2586.5L596 2588.8L604.5 2589.9L613.2 2589.8L621.9 2588.6L630.7 2586.2L639.4 2582.7L648 2578L656.4 2572.3L664.5 2565.6L672.2 2557.8L679.4 2549.2L686.2 2539.6L692.3 2529.3L697.8 2518.3L702.5 2506.7L706.5 2494.5L709.6 2481.9L711.9 2468.9L713.2 2455.7Z" fill="none" stroke="#9b4f17" stroke-width="1.4"/>
<path d="M656.4 2439.3L656.2 2432.6L655.5 2426L654.5 2419.4L653.1 2412.9L651.3 2406.6L649.1 2400.6L646.6 2394.8L643.8 2389.3L640.6 2384.2L637.2 2379.5L633.6 2375.2L629.8 2371.4L625.8 2368L621.7 2365.2L617.4 2363L613.1 2361.3L608.8 2360.1L604.5 2359.6L600.2 2359.6L596 2360.2L591.9 2361.4L587.9 2363.2L584.1 2365.5L580.4 2368.4L577 2371.7L573.8 2375.6L570.8 2379.9L568.1 2384.7L565.7 2389.9L563.6 2395.4L561.8 2401.2L560.3 2407.3L559.1 2413.6L558.2 2420.1L557.7 2426.7L557.6 2433.3L557.7 2440.1L558.2 2446.7L559.1 2453.3L560.3 2459.8L561.8 2466.1L563.6 2472.1L565.7 2477.9L568.1 2483.4L570.8 2488.5L573.8 2493.2L577 2497.5L580.4 2501.3L584.1 2504.7L587.9 2507.5L591.9 2509.7L596 2511.4L600.2 2512.6L604.5 2513.1L608.8 2513.1L613.1 2512.5L617.4 2511.3L621.7 2509.5L625.8 2507.2L629.8 2504.3L633.6 2501L637.2 2497.1L640.6 2492.8L643.8 2488L646.6 2482.8L649.1 2477.3L651.3 2471.5L653.1 2465.4L654.5 2459.1L655.5 2452.6L656.2 2446Z" fill="none" stroke="#9b4f17" stroke-width="3.5"/>
<circle cx="580" cy="2460" r="7.4" fill="#ff8c0a"/>
<circle cx="580" cy="2323.7" r="7.4" fill="#00ff00"/>
<circle cx="608.2" cy="2379.4" r="7.4" fill="#0064ff"/>
<circle cx="594.1" cy="2480.2" r="7.4" fill="#8a1fff"/>
<circle cx="594.1" cy="2532.9" r="7.4" fill="#ff00ff"/>
<circle cx="608.2" cy="2423.1" r="7.4" fill="#cc99ff"/>
<circle cx="636.5" cy="2388.5" r="7.4" fill="#c46a28"/>
<circle cx="608.2" cy="2437.9" r="7.4" fill="#aaaaaa"/>
<circle cx="580" cy="2506" r="7.4" fill="#000000"/>
<path d="M501.7 2483.9L517.1 2483.9L509.4 2468.7Z" fill="#ff0000"/>
<path d="M572.3 2405L587.7 2405L580 2389.8Z" fill="#00ff00"/>
<path d="M544.1 2411.7L559.5 2411.7L551.8 2396.5Z" fill="#0064ff"/>
<path d="M544.1 2462.7L559.5 2462.7L551.8 2447.5Z" fill="#66c8ff"/>
<path d="M530 2463.4L545.4 2463.4L537.7 2448.2Z" fill="#8a1fff"/>
<path d="M642.9 2501.4L658.3 2501.4L650.6 2486.2Z" fill="#ff00ff"/>
<path d="M642.9 2523.2L658.3 2523.2L650.6 2508Z" fill="#ff8c0a"/>
<path d="M614.6 2206.2L630 2206.2L622.3 2191Z" fill="#cc99ff"/>
<path d="M628.8 2424.1L644.2 2424.1L636.5 2408.9Z" fill="#c46a28"/>
<path d="M628.8 2466.8L644.2 2466.8L636.5 2451.6Z" fill="#000000"/>
<path d="M904.3 2423.2L903.7 2405.8L901.8 2388.5L898.6 2371.4L894.3 2354.7L888.8 2338.5L882.3 2322.9L874.8 2308L866.3 2293.9L857.1 2280.8L847.1 2268.7L836.6 2257.8L825.5 2248.1L814.1 2239.7L802.5 2232.6L790.6 2226.9L778.8 2222.8L767 2220.1L755.3 2218.9L743.9 2219.2L732.7 2221L722 2224.4L711.7 2229.2L701.9 2235.4L692.7 2243.1L684.1 2252L676.1 2262.3L668.8 2273.7L662.2 2286.2L656.3 2299.8L651.2 2314.2L646.9 2329.4L643.3 2345.3L640.5 2361.8L638.5 2378.7L637.3 2395.8L636.9 2413.2L637.3 2430.6L638.5 2447.9L640.5 2465L643.3 2481.7L646.9 2497.9L651.2 2513.5L656.3 2528.4L662.2 2542.5L668.8 2555.6L676.1 2567.7L684.1 2578.6L692.7 2588.3L701.9 2596.7L711.7 2603.8L722 2609.5L732.7 2613.6L743.9 2616.3L755.3 2617.5L767 2617.2L778.8 2615.4L790.6 2612L802.5 2607.2L814.1 2601L825.5 2593.3L836.6 2584.4L847.1 2574.1L857.1 2562.7L866.3 2550.2L874.8 2536.6L882.3 2522.2L888.8 2507L894.3 2491.1L898.6 2474.6L901.8 2457.7L903.7 2440.6Z" fill="#f5ede8"/>
<path d="M887.8 2422.7L887.3 2407L885.6 2391.5L882.8 2376.1L879 2361.1L874.2 2346.5L868.4 2332.4L861.8 2319L854.3 2306.3L846.1 2294.5L837.3 2283.7L827.9 2273.8L818.1 2265.1L808 2257.5L797.6 2251.2L787 2246.1L776.4 2242.3L765.8 2239.9L755.3 2238.8L745 2239.1L735 2240.7L725.2 2243.7L715.9 2248.1L707 2253.7L698.6 2260.6L690.8 2268.7L683.5 2277.9L676.8 2288.2L670.8 2299.4L665.4 2311.6L660.7 2324.6L656.7 2338.3L653.4 2352.6L650.9 2367.4L649 2382.6L647.9 2398.1L647.6 2413.7L647.9 2429.4L649 2444.9L650.9 2460.3L653.4 2475.3L656.7 2489.9L660.7 2504L665.4 2517.4L670.8 2530.1L676.8 2541.9L683.5 2552.7L690.8 2562.6L698.6 2571.3L707 2578.9L715.9 2585.2L725.2 2590.3L735 2594.1L745 2596.5L755.3 2597.6L765.8 2597.3L776.4 2595.7L787 2592.7L797.6 2588.3L808 2582.7L818.1 2575.8L827.9 2567.7L837.3 2558.5L846.1 2548.2L854.3 2537L861.8 2524.8L868.4 2511.8L874.2 2498.1L879 2483.8L882.8 2469L885.6 2453.8L887.3 2438.3Z" fill="#ebdbd0"/>
<path d="M871.7 2422.2L871.2 2408.3L869.8 2394.4L867.4 2380.8L864.1 2367.4L859.9 2354.4L854.8 2341.9L849 2330L842.5 2318.8L835.4 2308.3L827.6 2298.6L819.4 2289.9L810.8 2282.1L801.9 2275.4L792.7 2269.7L783.4 2265.2L774 2261.8L764.6 2259.7L755.3 2258.7L746.1 2259L737.2 2260.5L728.5 2263.1L720.2 2267L712.2 2272L704.7 2278.1L697.6 2285.3L691 2293.5L685 2302.6L679.5 2312.6L674.7 2323.5L670.4 2335L666.8 2347.2L663.8 2359.9L661.5 2373.1L659.8 2386.6L658.8 2400.3L658.5 2414.2L658.8 2428.1L659.8 2442L661.5 2455.6L663.8 2469L666.8 2482L670.4 2494.5L674.7 2506.4L679.5 2517.6L685 2528.1L691 2537.8L697.6 2546.5L704.7 2554.3L712.2 2561L720.2 2566.7L728.5 2571.2L737.2 2574.6L746.1 2576.7L755.3 2577.7L764.6 2577.4L774 2575.9L783.4 2573.3L792.7 2569.4L801.9 2564.4L810.8 2558.3L819.4 2551.1L827.6 2542.9L835.4 2533.8L842.5 2523.8L849 2512.9L854.8 2501.4L859.9 2489.2L864.1 2476.5L867.4 2463.3L869.8 2449.8L871.2 2436.1Z" fill="#e0c9b8"/>
<path d="M856 2421.7L855.5 2409.5L854.3 2397.4L852.2 2385.5L849.4 2373.8L845.8 2362.4L841.5 2351.5L836.5 2341L830.9 2331.2L824.8 2322L818.1 2313.6L811 2305.9L803.6 2299.1L795.9 2293.2L787.9 2288.3L779.8 2284.3L771.6 2281.4L763.4 2279.5L755.3 2278.7L747.3 2278.9L739.4 2280.2L731.8 2282.5L724.4 2285.9L717.4 2290.3L710.7 2295.6L704.5 2301.9L698.6 2309.1L693.3 2317.1L688.4 2325.8L684.1 2335.3L680.3 2345.4L677.1 2356.1L674.4 2367.2L672.3 2378.7L670.8 2390.5L669.9 2402.6L669.6 2414.7L669.9 2426.9L670.8 2439L672.3 2450.9L674.4 2462.6L677.1 2474L680.3 2484.9L684.1 2495.4L688.4 2505.2L693.3 2514.4L698.6 2522.8L704.5 2530.5L710.7 2537.3L717.4 2543.2L724.4 2548.1L731.8 2552.1L739.4 2555L747.3 2556.9L755.3 2557.7L763.4 2557.5L771.6 2556.2L779.8 2553.9L787.9 2550.5L795.9 2546.1L803.6 2540.8L811 2534.5L818.1 2527.3L824.8 2519.3L830.9 2510.6L836.5 2501.1L841.5 2491L845.8 2480.3L849.4 2469.2L852.2 2457.7L854.3 2445.9L855.5 2433.8Z" fill="#d6b7a1"/>
<path d="M840.6 2421.2L840.2 2410.8L839.2 2400.4L837.5 2390.1L835.1 2380.1L832.1 2370.4L828.4 2361L824.3 2352.1L819.5 2343.6L814.4 2335.7L808.7 2328.5L802.8 2321.9L796.5 2316.1L789.9 2311.1L783.1 2306.8L776.3 2303.4L769.3 2300.9L762.3 2299.3L755.3 2298.6L748.4 2298.8L741.7 2299.9L735.1 2301.9L728.7 2304.8L722.7 2308.5L716.9 2313.1L711.4 2318.5L706.4 2324.7L701.7 2331.5L697.5 2339L693.7 2347.1L690.4 2355.8L687.6 2364.9L685.2 2374.5L683.4 2384.3L682.1 2394.5L681.3 2404.8L681 2415.2L681.3 2425.6L682.1 2436L683.4 2446.3L685.2 2456.3L687.6 2466L690.4 2475.4L693.7 2484.3L697.5 2492.8L701.7 2500.7L706.4 2507.9L711.4 2514.5L716.9 2520.3L722.7 2525.3L728.7 2529.6L735.1 2533L741.7 2535.5L748.4 2537.1L755.3 2537.8L762.3 2537.6L769.3 2536.5L776.3 2534.5L783.1 2531.6L789.9 2527.9L796.5 2523.3L802.8 2517.9L808.7 2511.7L814.4 2504.9L819.5 2497.4L824.3 2489.3L828.4 2480.6L832.1 2471.5L835.1 2461.9L837.5 2452.1L839.2 2441.9L840.2 2431.6Z" fill="#cca68a"/>
<path d="M825.5 2420.7L825.2 2412L824.4 2403.4L823 2394.8L821.1 2386.5L818.6 2378.3L815.6 2370.5L812.2 2363.1L808.4 2356L804.1 2349.5L799.5 2343.5L794.6 2338L789.4 2333.1L784 2328.9L778.4 2325.4L772.7 2322.6L766.9 2320.5L761.1 2319.1L755.3 2318.5L749.6 2318.7L743.9 2319.6L738.4 2321.3L733.1 2323.7L728 2326.8L723.1 2330.6L718.5 2335.1L714.2 2340.2L710.3 2346L706.7 2352.2L703.5 2359L700.7 2366.2L698.3 2373.8L696.3 2381.8L694.7 2390L693.6 2398.4L692.9 2407L692.7 2415.7L692.9 2424.4L693.6 2433L694.7 2441.6L696.3 2449.9L698.3 2458.1L700.7 2465.9L703.5 2473.3L706.7 2480.4L710.3 2486.9L714.2 2492.9L718.5 2498.4L723.1 2503.3L728 2507.5L733.1 2511L738.4 2513.8L743.9 2515.9L749.6 2517.3L755.3 2517.9L761.1 2517.7L766.9 2516.8L772.7 2515.1L778.4 2512.7L784 2509.6L789.4 2505.8L794.6 2501.3L799.5 2496.2L804.1 2490.4L808.4 2484.2L812.2 2477.4L815.6 2470.2L818.6 2462.6L821.1 2454.6L823 2446.4L824.4 2438L825.2 2429.4Z" fill="#c29472"/>
<path d="M810.8 2420.2L810.6 2413.2L809.9 2406.3L808.8 2399.5L807.3 2392.8L805.4 2386.3L803.1 2380.1L800.4 2374.1L797.4 2368.5L794 2363.2L790.4 2358.4L786.5 2354L782.4 2350.1L778.1 2346.8L773.7 2344L769.2 2341.7L764.6 2340L759.9 2338.9L755.3 2338.5L750.7 2338.6L746.2 2339.3L741.7 2340.7L737.5 2342.6L733.3 2345.1L729.4 2348.1L725.7 2351.7L722.2 2355.8L719 2360.4L716.1 2365.4L713.5 2370.8L711.2 2376.6L709.2 2382.7L707.6 2389L706.3 2395.6L705.4 2402.4L704.8 2409.3L704.7 2416.2L704.8 2423.2L705.4 2430.1L706.3 2436.9L707.6 2443.6L709.2 2450.1L711.2 2456.3L713.5 2462.3L716.1 2467.9L719 2473.2L722.2 2478L725.7 2482.4L729.4 2486.3L733.3 2489.6L737.5 2492.4L741.7 2494.7L746.2 2496.4L750.7 2497.5L755.3 2497.9L759.9 2497.8L764.6 2497.1L769.2 2495.7L773.7 2493.8L778.1 2491.3L782.4 2488.3L786.5 2484.7L790.4 2480.6L794 2476L797.4 2471L800.4 2465.6L803.1 2459.8L805.4 2453.7L807.3 2447.4L808.8 2440.8L809.9 2434L810.6 2427.1Z" fill="#b8825a"/>
<path d="M796.5 2419.7L796.3 2414.5L795.8 2409.3L795 2404.2L793.9 2399.2L792.5 2394.3L790.8 2389.6L788.8 2385.1L786.6 2380.9L784.1 2377L781.4 2373.4L778.6 2370.1L775.5 2367.2L772.4 2364.6L769.1 2362.5L765.7 2360.8L762.2 2359.6L758.8 2358.8L755.3 2358.4L751.8 2358.5L748.4 2359L745.1 2360L741.9 2361.5L738.7 2363.4L735.8 2365.7L732.9 2368.4L730.3 2371.4L727.9 2374.9L725.6 2378.6L723.6 2382.7L721.9 2387L720.4 2391.6L719.1 2396.3L718.1 2401.3L717.4 2406.3L717 2411.5L716.9 2416.7L717 2421.9L717.4 2427.1L718.1 2432.2L719.1 2437.2L720.4 2442.1L721.9 2446.8L723.6 2451.3L725.6 2455.5L727.9 2459.4L730.3 2463L732.9 2466.3L735.8 2469.2L738.7 2471.8L741.9 2473.9L745.1 2475.6L748.4 2476.8L751.8 2477.6L755.3 2478L758.8 2477.9L762.2 2477.4L765.7 2476.4L769.1 2474.9L772.4 2473L775.5 2470.7L778.6 2468L781.4 2465L784.1 2461.5L786.6 2457.8L788.8 2453.7L790.8 2449.4L792.5 2444.8L793.9 2440.1L795 2435.1L795.8 2430.1L796.3 2424.9Z" fill="#ad7043"/>
<path d="M782.4 2419.2L782 2412.3L780.8 2405.5L778.7 2399.1L776 2393.3L772.6 2388.3L768.7 2384.2L764.4 2381.1L759.9 2379.1L755.3 2378.3L750.7 2378.8L746.3 2380.4L742.2 2383.2L738.5 2387L735.3 2391.8L732.8 2397.4L730.9 2403.6L729.8 2410.3L729.4 2417.2L729.8 2424.1L730.9 2430.9L732.8 2437.3L735.3 2443.1L738.5 2448.1L742.2 2452.2L746.3 2455.3L750.7 2457.3L755.3 2458.1L759.9 2457.6L764.4 2456L768.7 2453.2L772.6 2449.4L776 2444.6L778.7 2439L780.8 2432.8L782 2426.1Z" fill="#a35e2c"/>
<path d="M768.7 2418.7L768.5 2415.2L767.9 2411.9L766.9 2408.7L765.5 2405.8L763.9 2403.3L762 2401.2L759.9 2399.6L757.6 2398.7L755.3 2398.3L753 2398.5L750.8 2399.3L748.7 2400.7L746.8 2402.6L745.2 2405L743.9 2407.8L743 2410.9L742.4 2414.2L742.2 2417.7L742.4 2421.2L743 2424.5L743.9 2427.7L745.2 2430.6L746.8 2433.1L748.7 2435.2L750.8 2436.8L753 2437.7L755.3 2438.1L757.6 2437.9L759.9 2437.1L762 2435.7L763.9 2433.8L765.5 2431.4L766.9 2428.6L767.9 2425.5L768.5 2422.2Z" fill="#994c14"/>
<path d="M904.3 2423.2L903.7 2405.8L901.8 2388.5L898.6 2371.4L894.3 2354.7L888.8 2338.5L882.3 2322.9L874.8 2308L866.3 2293.9L857.1 2280.8L847.1 2268.7L836.6 2257.8L825.5 2248.1L814.1 2239.7L802.5 2232.6L790.6 2226.9L778.8 2222.8L767 2220.1L755.3 2218.9L743.9 2219.2L732.7 2221L722 2224.4L711.7 2229.2L701.9 2235.4L692.7 2243.1L684.1 2252L676.1 2262.3L668.8 2273.7L662.2 2286.2L656.3 2299.8L651.2 2314.2L646.9 2329.4L643.3 2345.3L640.5 2361.8L638.5 2378.7L637.3 2395.8L636.9 2413.2L637.3 2430.6L638.5 2447.9L640.5 2465L643.3 2481.7L646.9 2497.9L651.2 2513.5L656.3 2528.4L662.2 2542.5L668.8 2555.6L676.1 2567.7L684.1 2578.6L692.7 2588.3L701.9 2596.7L711.7 2603.8L722 2609.5L732.7 2613.6L743.9 2616.3L755.3 2617.5L767 2617.2L778.8 2615.4L790.6 2612L802.5 2607.2L814.1 2601L825.5 2593.3L836.6 2584.4L847.1 2574.1L857.1 2562.7L866.3 2550.2L874.8 2536.6L882.3 2522.2L888.8 2507L894.3 2491.1L898.6 2474.6L901.8 2457.7L903.7 2440.6Z" fill="none" stroke="#9b4f17" stroke-width="1.4"/>
<path d="M825.5 2420.7L825.2 2412L824.4 2403.4L823 2394.8L821.1 2386.5L818.6 2378.3L815.6 2370.5L812.2 2363.1L808.4 2356L804.1 2349.5L799.5 2343.5L794.6 2338L789.4 2333.1L784 2328.9L778.4 2325.4L772.7 2322.6L766.9 2320.5L761.1 2319.1L755.3 2318.5L749.6 2318.7L743.9 2319.6L738.4 2321.3L733.1 2323.7L728 2326.8L723.1 2330.6L718.5 2335.1L714.2 2340.2L710.3 2346L706.7 2352.2L703.5 2359L700.7 2366.2L698.3 2373.8L696.3 2381.8L694.7 2390L693.6 2398.4L692.9 2407L692.7 2415.7L692.9 2424.4L693.6 2433L694.7 2441.6L696.3 2449.9L698.3 2458.1L700.7 2465.9L703.5 2473.3L706.7 2480.4L710.3 2486.9L714.2 2492.9L718.5 2498.4L723.1 2503.3L728 2507.5L733.1 2511L738.4 2513.8L743.9 2515.9L749.6 2517.3L755.3 2517.9L761.1 2517.7L766.9 2516.8L772.7 2515.1L778.4 2512.7L784 2509.6L789.4 2505.8L794.6 2501.3L799.5 2496.2L804.1 2490.4L808.4 2484.2L812.2 2477.4L815.6 2470.2L818.6 2462.6L821.1 2454.6L823 2446.4L824.4 2438L825.2 2429.4Z" fill="none" stroke="#9b4f17" stroke-width="3.5"/>
<circle cx="890.5" cy="2583.1" r="7.4" fill="#ff0000"/>
<circle cx="721.1" cy="2450.5" r="7.4" fill="#ff8c0a"/>
<circle cx="721.1" cy="2268.3" r="7.4" fill="#00ff00"/>
<circle cx="749.4" cy="2343.1" r="7.4" fill="#0064ff"/>
<circle cx="918.7" cy="2372.4" r="7.4" fill="#66c8ff"/>
<circle cx="735.2" cy="2475.7" r="7.4" fill="#8a1fff"/>
<circle cx="749.4" cy="2544.9" r="7.4" fill="#ff00ff"/>
<circle cx="763.5" cy="2400.6" r="7.4" fill="#cc99ff"/>
<circle cx="805.8" cy="2354.4" r="7.4" fill="#c46a28"/>
<circle cx="763.5" cy="2420.3" r="7.4" fill="#aaaaaa"/>
<circle cx="721.1" cy="2511.4" r="7.4" fill="#000000"/>
<path d="M628.8 2479.9L644.2 2479.9L636.5 2464.7Z" fill="#ff0000"/>
<path d="M713.4 2372.8L728.8 2372.8L721.1 2357.6Z" fill="#00ff00"/>
<path d="M671.1 2382.5L686.5 2382.5L678.8 2367.3Z" fill="#0064ff"/>
<path d="M685.2 2450.5L700.6 2450.5L692.9 2435.3Z" fill="#66c8ff"/>
<path d="M657 2451.3L672.4 2451.3L664.7 2436.1Z" fill="#8a1fff"/>
<path d="M798.1 2497.9L813.5 2497.9L805.8 2482.7Z" fill="#ff00ff"/>
<path d="M812.2 2522.2L827.6 2522.2L819.9 2507Z" fill="#ff8c0a"/>
<path d="M784 2121.8L799.4 2121.8L791.7 2106.6Z" fill="#cc99ff"/>
<path d="M784 2397.2L799.4 2397.2L791.7 2382Z" fill="#c46a28"/>
<path d="M798.1 2457.2L813.5 2457.2L805.8 2442Z" fill="#000000"/>
</g>
<rect x="114.1" y="2101.6" width="875.2" height="510" fill="none" stroke="#000" stroke-width="1.6"/>
<path d="M114.3 2101.6v5.1M114.3 2611.6v-5.1M128.4 2101.6v5.1M128.4 2611.6v-5.1M142.5 2101.6v10.2M142.5 2611.6v-10.2M156.6 2101.6v5.1M156.6 2611.6v-5.1M170.7 2101.6v5.1M170.7 2611.6v-5.1M184.8 2101.6v5.1M184.8 2611.6v-5.1M199 2101.6v5.1M199 2611.6v-5.1M213.1 2101.6v5.1M213.1 2611.6v-5.1M227.2 2101.6v5.1M227.2 2611.6v-5.1M241.3 2101.6v5.1M241.3 2611.6v-5.1M255.4 2101.6v5.1M255.4 2611.6v-5.1M269.5 2101.6v5.1M269.5 2611.6v-5.1M283.6 2101.6v10.2M283.6 2611.6v-10.2M297.7 2101.6v5.1M297.7 2611.6v-5.1M311.9 2101.6v5.1M311.9 2611.6v-5.1M326 2101.6v5.1M326 2611.6v-5.1M340.1 2101.6v5.1M340.1 2611.6v-5.1M354.2 2101.6v5.1M354.2 2611.6v-5.1M368.3 2101.6v5.1M368.3 2611.6v-5.1M382.4 2101.6v5.1M382.4 2611.6v-5.1M396.5 2101.6v5.1M396.5 2611.6v-5.1M410.6 2101.6v5.1M410.6 2611.6v-5.1M424.8 2101.6v10.2M424.8 2611.6v-10.2M438.9 2101.6v5.1M438.9 2611.6v-5.1M453 2101.6v5.1M453 2611.6v-5.1M467.1 2101.6v5.1M467.1 2611.6v-5.1M481.2 2101.6v5.1M481.2 2611.6v-5.1M495.3 2101.6v5.1M495.3 2611.6v-5.1M509.4 2101.6v5.1M509.4 2611.6v-5.1M523.6 2101.6v5.1M523.6 2611.6v-5.1M537.7 2101.6v5.1M537.7 2611.6v-5.1M551.8 2101.6v5.1M551.8 2611.6v-5.1M565.9 2101.6v10.2M565.9 2611.6v-10.2M580 2101.6v5.1M580 2611.6v-5.1M594.1 2101.6v5.1M594.1 2611.6v-5.1M608.2 2101.6v5.1M608.2 2611.6v-5.1M622.3 2101.6v5.1M622.3 2611.6v-5.1M636.5 2101.6v5.1M636.5 2611.6v-5.1M650.6 2101.6v5.1M650.6 2611.6v-5.1M664.7 2101.6v5.1M664.7 2611.6v-5.1M678.8 2101.6v5.1M678.8 2611.6v-5.1M692.9 2101.6v5.1M692.9 2611.6v-5.1M707 2101.6v10.2M707 2611.6v-10.2M721.1 2101.6v5.1M721.1 2611.6v-5.1M735.2 2101.6v5.1M735.2 2611.6v-5.1M749.4 2101.6v5.1M749.4 2611.6v-5.1M763.5 2101.6v5.1M763.5 2611.6v-5.1M777.6 2101.6v5.1M777.6 2611.6v-5.1M791.7 2101.6v5.1M791.7 2611.6v-5.1M805.8 2101.6v5.1M805.8 2611.6v-5.1M819.9 2101.6v5.1M819.9 2611.6v-5.1M834 2101.6v5.1M834 2611.6v-5.1M848.1 2101.6v10.2M848.1 2611.6v-10.2M862.3 2101.6v5.1M862.3 2611.6v-5.1M876.4 2101.6v5.1M876.4 2611.6v-5.1M890.5 2101.6v5.1M890.5 2611.6v-5.1M904.6 2101.6v5.1M904.6 2611.6v-5.1M918.7 2101.6v5.1M918.7 2611.6v-5.1M932.8 2101.6v5.1M932.8 2611.6v-5.1M946.9 2101.6v5.1M946.9 2611.6v-5.1M961.1 2101.6v5.1M961.1 2611.6v-5.1M975.2 2101.6v5.1M975.2 2611.6v-5.1M989.3 2101.6v10.2M989.3 2611.6v-10.2M114.1 2611.6h17.5M989.3 2611.6h-17.5M114.1 2581h8.8M989.3 2581h-8.8M114.1 2550.4h8.8M989.3 2550.4h-8.8M114.1 2519.8h8.8M989.3 2519.8h-8.8M114.1 2489.2h17.5M989.3 2489.2h-17.5M114.1 2458.6h8.8M989.3 2458.6h-8.8M114.1 2428h8.8M989.3 2428h-8.8M114.1 2397.4h8.8M989.3 2397.4h-8.8M114.1 2366.8h17.5M989.3 2366.8h-17.5M114.1 2336.2h8.8M989.3 2336.2h-8.8M114.1 2305.6h8.8M989.3 2305.6h-8.8M114.1 2275h8.8M989.3 2275h-8.8M114.1 2244.4h17.5M989.3 2244.4h-17.5M114.1 2213.8h8.8M989.3 2213.8h-8.8M114.1 2183.2h8.8M989.3 2183.2h-8.8M114.1 2152.6h8.8M989.3 2152.6h-8.8M114.1 2122h17.5M989.3 2122h-17.5" stroke="#000" stroke-width="1.5" fill="none"/>
<text transform="translate(142.5 2655.4) scale(1 1.045)" font-size="34.7" text-anchor="middle">0</text>
<text transform="translate(283.6 2655.4) scale(1 1.045)" font-size="34.7" text-anchor="middle">1</text>
<text transform="translate(424.8 2655.4) scale(1 1.045)" font-size="34.7" text-anchor="middle">2</text>
<text transform="translate(565.9 2655.4) scale(1 1.045)" font-size="34.7" text-anchor="middle">3</text>
<text transform="translate(707 2655.4) scale(1 1.045)" font-size="34.7" text-anchor="middle">4</text>
<text transform="translate(848.1 2655.4) scale(1 1.045)" font-size="34.7" text-anchor="middle">5</text>
<text transform="translate(989.3 2655.4) scale(1 1.045)" font-size="34.7" text-anchor="middle">6</text>
<text transform="translate(105.4 2612) scale(1 1.045)" font-size="34.7" text-anchor="end">-20</text>
<text transform="translate(105.4 2501.6) scale(1 1.045)" font-size="34.7" text-anchor="end">0</text>
<text transform="translate(105.4 2379.2) scale(1 1.045)" font-size="34.7" text-anchor="end">20</text>
<text transform="translate(105.4 2256.8) scale(1 1.045)" font-size="34.7" text-anchor="end">40</text>
<text transform="translate(105.4 2134.4) scale(1 1.045)" font-size="34.7" text-anchor="end">60</text>
<text transform="translate(551.7 2084.1) scale(1 1.045)" font-size="43.4" text-anchor="middle">Congo DJF</text>
<text transform="translate(551.7 2692.6) scale(1 1.045)" font-size="34.7" text-anchor="middle">Mean temperature change (<tspan font-size="20.8" dy="-13.6">o</tspan><tspan dy="13.6">C)</tspan></text>
<text transform="translate(27.8 2356) rotate(-90) scale(1 1.045)" font-size="34.7" text-anchor="middle">Precipitation change (%)</text>
</g>
</svg></div></body></html>
